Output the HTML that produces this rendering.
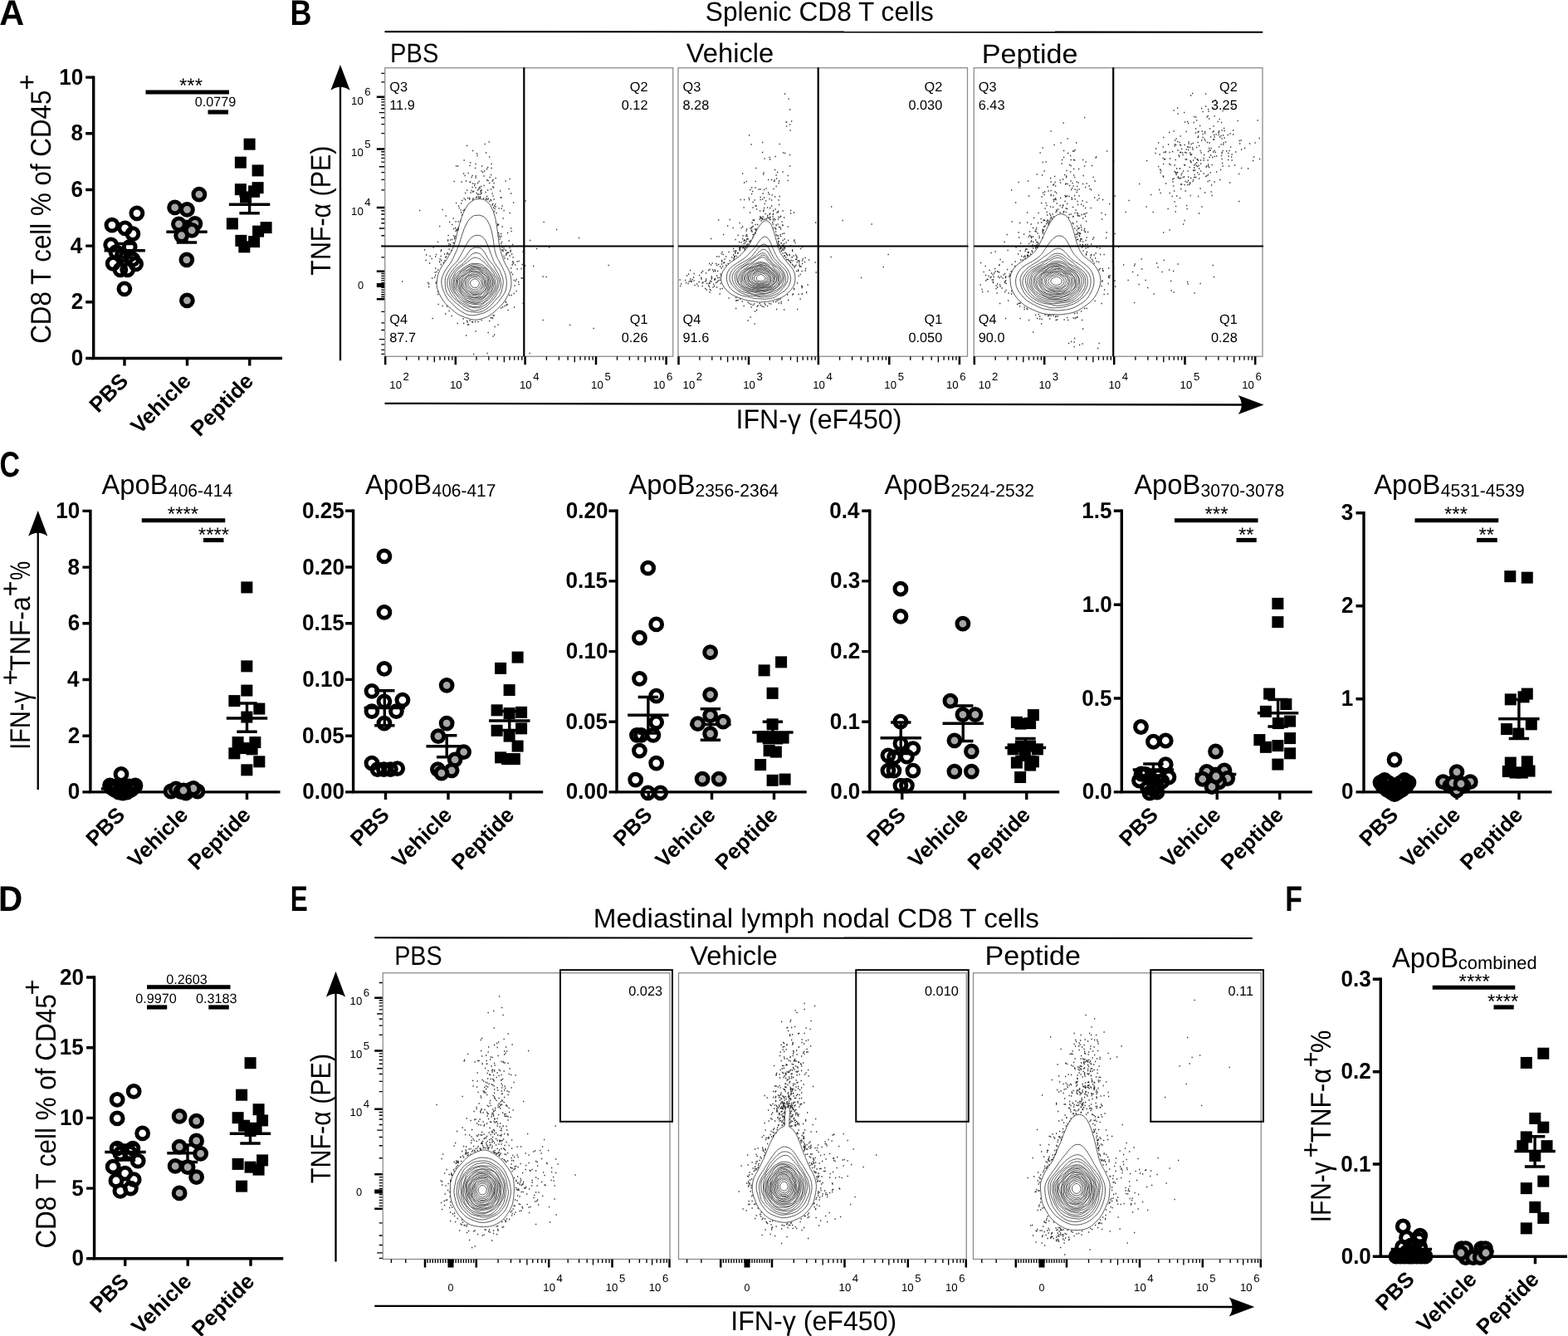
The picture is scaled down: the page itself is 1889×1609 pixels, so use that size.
<!DOCTYPE html>
<html lang="en">
<head>
<meta charset="utf-8">
<title>Figure: ApoB peptide vaccination, CD8 T cell responses</title>
<style>
html,body{margin:0;padding:0;background:#fff;}
body{width:1889px;height:1609px;overflow:hidden;}
svg{display:block;font-family:"Liberation Sans",Arial,Helvetica,sans-serif;}
</style>
</head>
<body>
<svg width="1889" height="1609" viewBox="0 0 1889 1609" fill="#000" stroke="none" text-rendering="geometricPrecision">
<rect x="0" y="0" width="1889" height="1609" fill="#fff" stroke="none"/>
<text transform="translate(-0.73 30.4) scale(0.9664 1)" font-size="42.88" font-weight="bold">A</text>
<text transform="translate(349.5 30.4) scale(0.8375 1)" font-size="42.88" font-weight="bold">B</text>
<text transform="translate(-0.59 574.1) scale(0.7919 1)" font-size="42.88" font-weight="bold">C</text>
<text transform="translate(-2.01 1097.1) scale(0.9431 1)" font-size="42.88" font-weight="bold">D</text>
<text transform="translate(349.79 1097.1) scale(0.7358 1)" font-size="42.88" font-weight="bold">E</text>
<text transform="translate(1548.33 1097.1) scale(0.7907 1)" font-size="42.88" font-weight="bold">F</text>
<path d="M112.7 91.4V431.5H340" fill="none" stroke="#000" stroke-width="3.4"/>
<path d="M103.2 93.1H112.7M103.2 160.8H112.7M103.2 228.5H112.7M103.2 296.1H112.7M103.2 363.8H112.7M103.2 431.5H112.7M150 431.5V440.5M225.5 431.5V440.5M300.75 431.5V440.5" fill="none" stroke="#000" stroke-width="3.4"/>
<text transform="translate(71.17 101.65) scale(0.9550 1)" font-size="27.3" font-weight="bold">10</text>
<text transform="translate(85.4 169.35) scale(0.9550 1)" font-size="27.3" font-weight="bold">8</text>
<text transform="translate(85.54 237.05) scale(0.9550 1)" font-size="27.3" font-weight="bold">6</text>
<text transform="translate(84.74 304.65) scale(0.9550 1)" font-size="27.3" font-weight="bold">4</text>
<text transform="translate(85.64 372.35) scale(0.9550 1)" font-size="27.3" font-weight="bold">2</text>
<text transform="translate(85.67 440.05) scale(0.9550 1)" font-size="27.3" font-weight="bold">0</text>
<text transform="translate(156.1 460.5) rotate(-45)" font-size="26" text-anchor="end" font-weight="bold">PBS</text>
<text transform="translate(231.6 460.5) rotate(-45)" font-size="26" text-anchor="end" font-weight="bold">Vehicle</text>
<text transform="translate(306.85 460.5) rotate(-45)" font-size="26" text-anchor="end" font-weight="bold">Peptide</text>
<path d="M125.6 301.7H175M138.1 293.5H162.5M138.1 310H162.5M150.3 293.5V310" fill="none" stroke="#000" stroke-width="3.4"/>
<path d="M200.3 279.2H249.7M212.8 266.5H237.2M212.8 292H237.2M225 266.5V292" fill="none" stroke="#000" stroke-width="3.4"/>
<path d="M275.9 246.2H325.3M288.4 236H312.8M288.4 256.7H312.8M300.6 236V256.7" fill="none" stroke="#000" stroke-width="3.4"/>
<circle cx="164.92" cy="256.87" r="6.9" fill="none" stroke="#000" stroke-width="5"/>
<circle cx="134.93" cy="271.11" r="6.9" fill="none" stroke="#000" stroke-width="5"/>
<circle cx="150.67" cy="274.86" r="6.9" fill="none" stroke="#000" stroke-width="5"/>
<circle cx="159.92" cy="281.61" r="6.9" fill="none" stroke="#000" stroke-width="5"/>
<circle cx="133.68" cy="294.85" r="6.9" fill="none" stroke="#000" stroke-width="5"/>
<circle cx="156.17" cy="297.35" r="6.9" fill="none" stroke="#000" stroke-width="5"/>
<circle cx="139.93" cy="303.6" r="6.9" fill="none" stroke="#000" stroke-width="5"/>
<circle cx="147.43" cy="307.35" r="6.9" fill="none" stroke="#000" stroke-width="5"/>
<circle cx="136.18" cy="317.34" r="6.9" fill="none" stroke="#000" stroke-width="5"/>
<circle cx="163.67" cy="317.84" r="6.9" fill="none" stroke="#000" stroke-width="5"/>
<circle cx="159.92" cy="312.34" r="6.9" fill="none" stroke="#000" stroke-width="5"/>
<circle cx="144.93" cy="324.84" r="6.9" fill="none" stroke="#000" stroke-width="5"/>
<circle cx="153.67" cy="324.84" r="6.9" fill="none" stroke="#000" stroke-width="5"/>
<circle cx="149.93" cy="347.83" r="6.9" fill="none" stroke="#000" stroke-width="5"/>
<circle cx="239.88" cy="234.13" r="6.9" fill="#a6a6a6" stroke="#000" stroke-width="5"/>
<circle cx="210.64" cy="249.88" r="6.9" fill="#a6a6a6" stroke="#000" stroke-width="5"/>
<circle cx="225.39" cy="252.37" r="6.9" fill="#a6a6a6" stroke="#000" stroke-width="5"/>
<circle cx="215.39" cy="269.87" r="6.9" fill="#a6a6a6" stroke="#000" stroke-width="5"/>
<circle cx="234.88" cy="269.37" r="6.9" fill="#a6a6a6" stroke="#000" stroke-width="5"/>
<circle cx="231.13" cy="277.36" r="6.9" fill="#a6a6a6" stroke="#000" stroke-width="5"/>
<circle cx="218.64" cy="283.61" r="6.9" fill="#a6a6a6" stroke="#000" stroke-width="5"/>
<circle cx="224.89" cy="312.84" r="6.9" fill="#a6a6a6" stroke="#000" stroke-width="5"/>
<circle cx="225.39" cy="361.82" r="6.9" fill="#a6a6a6" stroke="#000" stroke-width="5"/>
<rect x="293.6" y="166.66" width="14" height="14" fill="#000" stroke="none"/>
<rect x="282.86" y="188.65" width="14" height="14" fill="#000" stroke="none"/>
<rect x="303.59" y="198.4" width="14" height="14" fill="#000" stroke="none"/>
<rect x="282.86" y="221.14" width="14" height="14" fill="#000" stroke="none"/>
<rect x="303.59" y="219.14" width="14" height="14" fill="#000" stroke="none"/>
<rect x="299.1" y="223.38" width="14" height="14" fill="#000" stroke="none"/>
<rect x="289.1" y="230.38" width="14" height="14" fill="#000" stroke="none"/>
<rect x="272.86" y="262.37" width="14" height="14" fill="#000" stroke="none"/>
<rect x="313.59" y="267.11" width="14" height="14" fill="#000" stroke="none"/>
<rect x="304.09" y="271.61" width="14" height="14" fill="#000" stroke="none"/>
<rect x="283.35" y="282.86" width="14" height="14" fill="#000" stroke="none"/>
<rect x="299.1" y="284.1" width="14" height="14" fill="#000" stroke="none"/>
<rect x="287.35" y="290.35" width="14" height="14" fill="#000" stroke="none"/>
<line x1="175.5" y1="111" x2="276" y2="111" stroke-width="5.2" stroke="#000"/>
<text transform="translate(230 111.3)" font-size="24" text-anchor="middle">***</text>
<line x1="250.5" y1="135" x2="275" y2="135" stroke-width="5.2" stroke="#000"/>
<text transform="translate(259.5 128.3)" font-size="16.2" text-anchor="middle">0.0779</text>
<path d="M108.9 613.7V953.9H337.5" fill="none" stroke="#000" stroke-width="3.4"/>
<path d="M99.4 615.4H108.9M99.4 683.1H108.9M99.4 750.8H108.9M99.4 818.5H108.9M99.4 886.2H108.9M99.4 953.9H108.9M146 953.9V962.9M221.8 953.9V962.9M297.5 953.9V962.9" fill="none" stroke="#000" stroke-width="3.4"/>
<text transform="translate(67.37 623.95) scale(0.9550 1)" font-size="27.3" font-weight="bold">10</text>
<text transform="translate(81.6 691.65) scale(0.9550 1)" font-size="27.3" font-weight="bold">8</text>
<text transform="translate(81.74 759.35) scale(0.9550 1)" font-size="27.3" font-weight="bold">6</text>
<text transform="translate(80.94 827.05) scale(0.9550 1)" font-size="27.3" font-weight="bold">4</text>
<text transform="translate(81.84 894.75) scale(0.9550 1)" font-size="27.3" font-weight="bold">2</text>
<text transform="translate(81.87 962.45) scale(0.9550 1)" font-size="27.3" font-weight="bold">0</text>
<text transform="translate(152.1 982.9) rotate(-45)" font-size="26" text-anchor="end" font-weight="bold">PBS</text>
<text transform="translate(227.9 982.9) rotate(-45)" font-size="26" text-anchor="end" font-weight="bold">Vehicle</text>
<text transform="translate(303.6 982.9) rotate(-45)" font-size="26" text-anchor="end" font-weight="bold">Peptide</text>
<path d="M121.8 950H171.2" fill="none" stroke="#000" stroke-width="3.4"/>
<path d="M197.3 952.5H246.7" fill="none" stroke="#000" stroke-width="3.4"/>
<path d="M272.8 865H322.2M285.3 847H309.7M285.3 881.2H309.7M297.5 847V881.2" fill="none" stroke="#000" stroke-width="3.4"/>
<circle cx="146" cy="932.5" r="6.9" fill="none" stroke="#000" stroke-width="5"/>
<circle cx="132.5" cy="946" r="6.9" fill="none" stroke="#000" stroke-width="5"/>
<circle cx="138" cy="951" r="6.9" fill="none" stroke="#000" stroke-width="5"/>
<circle cx="143" cy="954" r="6.9" fill="none" stroke="#000" stroke-width="5"/>
<circle cx="148" cy="955" r="6.9" fill="none" stroke="#000" stroke-width="5"/>
<circle cx="153" cy="954" r="6.9" fill="none" stroke="#000" stroke-width="5"/>
<circle cx="158" cy="951" r="6.9" fill="none" stroke="#000" stroke-width="5"/>
<circle cx="163" cy="946" r="6.9" fill="none" stroke="#000" stroke-width="5"/>
<circle cx="135" cy="949" r="6.9" fill="none" stroke="#000" stroke-width="5"/>
<circle cx="160" cy="949" r="6.9" fill="none" stroke="#000" stroke-width="5"/>
<circle cx="146" cy="950" r="6.9" fill="none" stroke="#000" stroke-width="5"/>
<circle cx="150" cy="948" r="6.9" fill="none" stroke="#000" stroke-width="5"/>
<circle cx="140" cy="947" r="6.9" fill="none" stroke="#000" stroke-width="5"/>
<circle cx="156" cy="947" r="6.9" fill="none" stroke="#000" stroke-width="5"/>
<circle cx="206" cy="953" r="6.9" fill="#a6a6a6" stroke="#000" stroke-width="5"/>
<circle cx="212" cy="950" r="6.9" fill="#a6a6a6" stroke="#000" stroke-width="5"/>
<circle cx="218" cy="953.5" r="6.9" fill="#a6a6a6" stroke="#000" stroke-width="5"/>
<circle cx="224" cy="955" r="6.9" fill="#a6a6a6" stroke="#000" stroke-width="5"/>
<circle cx="230" cy="951" r="6.9" fill="#a6a6a6" stroke="#000" stroke-width="5"/>
<circle cx="238" cy="953" r="6.9" fill="#a6a6a6" stroke="#000" stroke-width="5"/>
<circle cx="233" cy="949.5" r="6.9" fill="#a6a6a6" stroke="#000" stroke-width="5"/>
<circle cx="221" cy="952" r="6.9" fill="#a6a6a6" stroke="#000" stroke-width="5"/>
<rect x="290.35" y="700.42" width="14" height="14" fill="#000" stroke="none"/>
<rect x="290.35" y="795.37" width="14" height="14" fill="#000" stroke="none"/>
<rect x="290.35" y="824.6" width="14" height="14" fill="#000" stroke="none"/>
<rect x="275.36" y="837.1" width="14" height="14" fill="#000" stroke="none"/>
<rect x="305.34" y="846.59" width="14" height="14" fill="#000" stroke="none"/>
<rect x="290.35" y="856.59" width="14" height="14" fill="#000" stroke="none"/>
<rect x="279.61" y="887.07" width="14" height="14" fill="#000" stroke="none"/>
<rect x="300.35" y="887.07" width="14" height="14" fill="#000" stroke="none"/>
<rect x="296.6" y="895.32" width="14" height="14" fill="#000" stroke="none"/>
<rect x="275.36" y="900.32" width="14" height="14" fill="#000" stroke="none"/>
<rect x="305.34" y="910.31" width="14" height="14" fill="#000" stroke="none"/>
<rect x="290.35" y="920.31" width="14" height="14" fill="#000" stroke="none"/>
<rect x="286.6" y="894.07" width="14" height="14" fill="#000" stroke="none"/>
<line x1="170.75" y1="626.75" x2="271.25" y2="626.75" stroke-width="5.2" stroke="#000"/>
<text transform="translate(220.5 627.3)" font-size="24" text-anchor="middle">****</text>
<line x1="245" y1="650.5" x2="269.5" y2="650.5" stroke-width="5.2" stroke="#000"/>
<text transform="translate(257.5 651.8)" font-size="24" text-anchor="middle">****</text>
<path d="M425.6 613.5V953.9H654.25" fill="none" stroke="#000" stroke-width="3.4"/>
<path d="M416.1 615.2H425.6M416.1 683H425.6M416.1 750.7H425.6M416.1 818.4H425.6M416.1 886.2H425.6M416.1 953.9H425.6M464.5 953.9V962.9M540 953.9V962.9M615 953.9V962.9" fill="none" stroke="#000" stroke-width="3.4"/>
<text transform="translate(363.98 623.75) scale(0.9550 1)" font-size="27.3" font-weight="bold">0.25</text>
<text transform="translate(364.33 691.55) scale(0.9550 1)" font-size="27.3" font-weight="bold">0.20</text>
<text transform="translate(363.98 759.25) scale(0.9550 1)" font-size="27.3" font-weight="bold">0.15</text>
<text transform="translate(364.33 826.95) scale(0.9550 1)" font-size="27.3" font-weight="bold">0.10</text>
<text transform="translate(363.98 894.75) scale(0.9550 1)" font-size="27.3" font-weight="bold">0.05</text>
<text transform="translate(364.33 962.45) scale(0.9550 1)" font-size="27.3" font-weight="bold">0.00</text>
<text transform="translate(470.6 982.9) rotate(-45)" font-size="26" text-anchor="end" font-weight="bold">PBS</text>
<text transform="translate(546.1 982.9) rotate(-45)" font-size="26" text-anchor="end" font-weight="bold">Vehicle</text>
<text transform="translate(621.1 982.9) rotate(-45)" font-size="26" text-anchor="end" font-weight="bold">Peptide</text>
<path d="M438.6 852.5H488M451.1 831.75H475.5M451.1 873.75H475.5M463.3 831.75V873.75" fill="none" stroke="#000" stroke-width="3.4"/>
<path d="M513.5 898.75H562.9M526 885.75H550.4M526 911.75H550.4M538.2 885.75V911.75" fill="none" stroke="#000" stroke-width="3.4"/>
<path d="M589.05 868H638.45M601.55 856.5H625.95M601.55 879.5H625.95M613.75 856.5V879.5" fill="none" stroke="#000" stroke-width="3.4"/>
<circle cx="462.93" cy="669.95" r="6.9" fill="none" stroke="#000" stroke-width="5"/>
<circle cx="462.93" cy="737.41" r="6.9" fill="none" stroke="#000" stroke-width="5"/>
<circle cx="462.93" cy="805.38" r="6.9" fill="none" stroke="#000" stroke-width="5"/>
<circle cx="447.94" cy="832.36" r="6.9" fill="none" stroke="#000" stroke-width="5"/>
<circle cx="484.92" cy="843.11" r="6.9" fill="none" stroke="#000" stroke-width="5"/>
<circle cx="462.93" cy="844.86" r="6.9" fill="none" stroke="#000" stroke-width="5"/>
<circle cx="447.94" cy="856.6" r="6.9" fill="none" stroke="#000" stroke-width="5"/>
<circle cx="477.43" cy="856.6" r="6.9" fill="none" stroke="#000" stroke-width="5"/>
<circle cx="462.93" cy="871.09" r="6.9" fill="none" stroke="#000" stroke-width="5"/>
<circle cx="447.94" cy="919.07" r="6.9" fill="none" stroke="#000" stroke-width="5"/>
<circle cx="454.94" cy="926.57" r="6.9" fill="none" stroke="#000" stroke-width="5"/>
<circle cx="462.43" cy="926.57" r="6.9" fill="none" stroke="#000" stroke-width="5"/>
<circle cx="470.43" cy="926.57" r="6.9" fill="none" stroke="#000" stroke-width="5"/>
<circle cx="478.68" cy="925.57" r="6.9" fill="none" stroke="#000" stroke-width="5"/>
<circle cx="538.15" cy="825.37" r="6.9" fill="#a6a6a6" stroke="#000" stroke-width="5"/>
<circle cx="538.15" cy="871.09" r="6.9" fill="#a6a6a6" stroke="#000" stroke-width="5"/>
<circle cx="527.9" cy="886.59" r="6.9" fill="#a6a6a6" stroke="#000" stroke-width="5"/>
<circle cx="558.64" cy="905.58" r="6.9" fill="#a6a6a6" stroke="#000" stroke-width="5"/>
<circle cx="548.14" cy="914.82" r="6.9" fill="#a6a6a6" stroke="#000" stroke-width="5"/>
<circle cx="527.4" cy="926.57" r="6.9" fill="#a6a6a6" stroke="#000" stroke-width="5"/>
<circle cx="544.14" cy="927.82" r="6.9" fill="#a6a6a6" stroke="#000" stroke-width="5"/>
<circle cx="531.9" cy="931.06" r="6.9" fill="#a6a6a6" stroke="#000" stroke-width="5"/>
<rect x="616.6" y="784.63" width="14" height="14" fill="#000" stroke="none"/>
<rect x="596.11" y="797.88" width="14" height="14" fill="#000" stroke="none"/>
<rect x="606.61" y="824.11" width="14" height="14" fill="#000" stroke="none"/>
<rect x="591.62" y="848.35" width="14" height="14" fill="#000" stroke="none"/>
<rect x="606.61" y="852.1" width="14" height="14" fill="#000" stroke="none"/>
<rect x="621.1" y="850.85" width="14" height="14" fill="#000" stroke="none"/>
<rect x="591.62" y="872.84" width="14" height="14" fill="#000" stroke="none"/>
<rect x="621.1" y="870.34" width="14" height="14" fill="#000" stroke="none"/>
<rect x="606.61" y="879.59" width="14" height="14" fill="#000" stroke="none"/>
<rect x="616.6" y="891.58" width="14" height="14" fill="#000" stroke="none"/>
<rect x="596.11" y="905.32" width="14" height="14" fill="#000" stroke="none"/>
<rect x="604.11" y="907.07" width="14" height="14" fill="#000" stroke="none"/>
<rect x="612.86" y="907.07" width="14" height="14" fill="#000" stroke="none"/>
<path d="M743 613.5V953.9H971.75" fill="none" stroke="#000" stroke-width="3.4"/>
<path d="M733.5 615.2H743M733.5 699.9H743M733.5 784.6H743M733.5 869.2H743M733.5 953.9H743M781.25 953.9V962.9M857.5 953.9V962.9M932.5 953.9V962.9" fill="none" stroke="#000" stroke-width="3.4"/>
<text transform="translate(681.73 623.75) scale(0.9550 1)" font-size="27.3" font-weight="bold">0.20</text>
<text transform="translate(681.38 708.45) scale(0.9550 1)" font-size="27.3" font-weight="bold">0.15</text>
<text transform="translate(681.73 793.15) scale(0.9550 1)" font-size="27.3" font-weight="bold">0.10</text>
<text transform="translate(681.38 877.75) scale(0.9550 1)" font-size="27.3" font-weight="bold">0.05</text>
<text transform="translate(681.73 962.45) scale(0.9550 1)" font-size="27.3" font-weight="bold">0.00</text>
<text transform="translate(787.35 982.9) rotate(-45)" font-size="26" text-anchor="end" font-weight="bold">PBS</text>
<text transform="translate(863.6 982.9) rotate(-45)" font-size="26" text-anchor="end" font-weight="bold">Vehicle</text>
<text transform="translate(938.6 982.9) rotate(-45)" font-size="26" text-anchor="end" font-weight="bold">Peptide</text>
<path d="M756.2 861.25H805.6M768.7 839.5H793.1M768.7 883H793.1M780.9 839.5V883" fill="none" stroke="#000" stroke-width="3.4"/>
<path d="M831.2 872.5H880.6M843.7 853.75H868.1M843.7 891.25H868.1M855.9 853.75V891.25" fill="none" stroke="#000" stroke-width="3.4"/>
<path d="M906.2 882H955.6M918.7 869.25H943.1M918.7 894.7H943.1M930.9 869.25V894.7" fill="none" stroke="#000" stroke-width="3.4"/>
<circle cx="780.68" cy="684.19" r="6.9" fill="none" stroke="#000" stroke-width="5"/>
<circle cx="790.68" cy="751.9" r="6.9" fill="none" stroke="#000" stroke-width="5"/>
<circle cx="770.44" cy="768.15" r="6.9" fill="none" stroke="#000" stroke-width="5"/>
<circle cx="770.44" cy="817.37" r="6.9" fill="none" stroke="#000" stroke-width="5"/>
<circle cx="790.68" cy="838.11" r="6.9" fill="none" stroke="#000" stroke-width="5"/>
<circle cx="790.68" cy="869.85" r="6.9" fill="none" stroke="#000" stroke-width="5"/>
<circle cx="767.44" cy="885.34" r="6.9" fill="none" stroke="#000" stroke-width="5"/>
<circle cx="772.44" cy="885.34" r="6.9" fill="none" stroke="#000" stroke-width="5"/>
<circle cx="786.93" cy="885.34" r="6.9" fill="none" stroke="#000" stroke-width="5"/>
<circle cx="770.44" cy="904.08" r="6.9" fill="none" stroke="#000" stroke-width="5"/>
<circle cx="790.68" cy="919.07" r="6.9" fill="none" stroke="#000" stroke-width="5"/>
<circle cx="765.69" cy="939.06" r="6.9" fill="none" stroke="#000" stroke-width="5"/>
<circle cx="780.68" cy="954.8" r="6.9" fill="none" stroke="#000" stroke-width="5"/>
<circle cx="795.68" cy="954.8" r="6.9" fill="none" stroke="#000" stroke-width="5"/>
<circle cx="855.65" cy="785.64" r="6.9" fill="#a6a6a6" stroke="#000" stroke-width="5"/>
<circle cx="855.65" cy="836.61" r="6.9" fill="#a6a6a6" stroke="#000" stroke-width="5"/>
<circle cx="855.65" cy="861.6" r="6.9" fill="#a6a6a6" stroke="#000" stroke-width="5"/>
<circle cx="840.65" cy="871.59" r="6.9" fill="#a6a6a6" stroke="#000" stroke-width="5"/>
<circle cx="871.14" cy="869.1" r="6.9" fill="#a6a6a6" stroke="#000" stroke-width="5"/>
<circle cx="855.65" cy="883.59" r="6.9" fill="#a6a6a6" stroke="#000" stroke-width="5"/>
<circle cx="846.15" cy="938.06" r="6.9" fill="#a6a6a6" stroke="#000" stroke-width="5"/>
<circle cx="866.14" cy="938.06" r="6.9" fill="#a6a6a6" stroke="#000" stroke-width="5"/>
<rect x="934.1" y="790.38" width="14" height="14" fill="#000" stroke="none"/>
<rect x="913.61" y="800.38" width="14" height="14" fill="#000" stroke="none"/>
<rect x="923.61" y="827.86" width="14" height="14" fill="#000" stroke="none"/>
<rect x="923.61" y="865.34" width="14" height="14" fill="#000" stroke="none"/>
<rect x="911.62" y="880.34" width="14" height="14" fill="#000" stroke="none"/>
<rect x="936.6" y="881.59" width="14" height="14" fill="#000" stroke="none"/>
<rect x="923.61" y="881.59" width="14" height="14" fill="#000" stroke="none"/>
<rect x="919.61" y="897.08" width="14" height="14" fill="#000" stroke="none"/>
<rect x="927.86" y="898.58" width="14" height="14" fill="#000" stroke="none"/>
<rect x="909.12" y="914.07" width="14" height="14" fill="#000" stroke="none"/>
<rect x="923.61" y="932.81" width="14" height="14" fill="#000" stroke="none"/>
<rect x="938.6" y="931.56" width="14" height="14" fill="#000" stroke="none"/>
<path d="M1047.8 613.5V953.9H1276.25" fill="none" stroke="#000" stroke-width="3.4"/>
<path d="M1038.3 615.2H1047.8M1038.3 699.9H1047.8M1038.3 784.6H1047.8M1038.3 869.2H1047.8M1038.3 953.9H1047.8M1086.75 953.9V962.9M1162 953.9V962.9M1236.75 953.9V962.9" fill="none" stroke="#000" stroke-width="3.4"/>
<text transform="translate(999.2 623.75) scale(0.9550 1)" font-size="27.3" font-weight="bold">0.4</text>
<text transform="translate(1000 708.45) scale(0.9550 1)" font-size="27.3" font-weight="bold">0.3</text>
<text transform="translate(1000.1 793.15) scale(0.9550 1)" font-size="27.3" font-weight="bold">0.2</text>
<text transform="translate(999.78 877.75) scale(0.9550 1)" font-size="27.3" font-weight="bold">0.1</text>
<text transform="translate(1000.13 962.45) scale(0.9550 1)" font-size="27.3" font-weight="bold">0.0</text>
<text transform="translate(1092.85 982.9) rotate(-45)" font-size="26" text-anchor="end" font-weight="bold">PBS</text>
<text transform="translate(1168.1 982.9) rotate(-45)" font-size="26" text-anchor="end" font-weight="bold">Vehicle</text>
<text transform="translate(1242.85 982.9) rotate(-45)" font-size="26" text-anchor="end" font-weight="bold">Peptide</text>
<path d="M1060.55 888.75H1109.95M1073.05 870H1097.45M1073.05 907.5H1097.45M1085.25 870V907.5" fill="none" stroke="#000" stroke-width="3.4"/>
<path d="M1135.55 871.25H1184.95M1148.05 850H1172.45M1148.05 892.5H1172.45M1160.25 850V892.5" fill="none" stroke="#000" stroke-width="3.4"/>
<path d="M1210.7 900.5H1260.1M1223.2 889.5H1247.6M1223.2 911.5H1247.6M1235.4 889.5V911.5" fill="none" stroke="#000" stroke-width="3.4"/>
<circle cx="1084.94" cy="709.18" r="6.9" fill="none" stroke="#000" stroke-width="5"/>
<circle cx="1084.94" cy="742.41" r="6.9" fill="none" stroke="#000" stroke-width="5"/>
<circle cx="1084.94" cy="869.1" r="6.9" fill="none" stroke="#000" stroke-width="5"/>
<circle cx="1084.94" cy="895.58" r="6.9" fill="none" stroke="#000" stroke-width="5"/>
<circle cx="1099.93" cy="901.58" r="6.9" fill="none" stroke="#000" stroke-width="5"/>
<circle cx="1069.95" cy="909.83" r="6.9" fill="none" stroke="#000" stroke-width="5"/>
<circle cx="1077.44" cy="911.82" r="6.9" fill="none" stroke="#000" stroke-width="5"/>
<circle cx="1092.43" cy="911.07" r="6.9" fill="none" stroke="#000" stroke-width="5"/>
<circle cx="1069.95" cy="928.07" r="6.9" fill="none" stroke="#000" stroke-width="5"/>
<circle cx="1076.94" cy="928.07" r="6.9" fill="none" stroke="#000" stroke-width="5"/>
<circle cx="1099.93" cy="928.07" r="6.9" fill="none" stroke="#000" stroke-width="5"/>
<circle cx="1084.94" cy="946.06" r="6.9" fill="none" stroke="#000" stroke-width="5"/>
<circle cx="1092.43" cy="946.06" r="6.9" fill="none" stroke="#000" stroke-width="5"/>
<circle cx="1159.9" cy="751.15" r="6.9" fill="#a6a6a6" stroke="#000" stroke-width="5"/>
<circle cx="1144.91" cy="844.11" r="6.9" fill="#a6a6a6" stroke="#000" stroke-width="5"/>
<circle cx="1159.9" cy="860.6" r="6.9" fill="#a6a6a6" stroke="#000" stroke-width="5"/>
<circle cx="1174.89" cy="860.6" r="6.9" fill="#a6a6a6" stroke="#000" stroke-width="5"/>
<circle cx="1149.91" cy="891.83" r="6.9" fill="#a6a6a6" stroke="#000" stroke-width="5"/>
<circle cx="1170.39" cy="904.83" r="6.9" fill="#a6a6a6" stroke="#000" stroke-width="5"/>
<circle cx="1149.91" cy="929.07" r="6.9" fill="#a6a6a6" stroke="#000" stroke-width="5"/>
<circle cx="1170.39" cy="929.07" r="6.9" fill="#a6a6a6" stroke="#000" stroke-width="5"/>
<rect x="1237.86" y="854.1" width="14" height="14" fill="#000" stroke="none"/>
<rect x="1217.87" y="862.85" width="14" height="14" fill="#000" stroke="none"/>
<rect x="1222.37" y="864.59" width="14" height="14" fill="#000" stroke="none"/>
<rect x="1234.11" y="864.09" width="14" height="14" fill="#000" stroke="none"/>
<rect x="1222.87" y="891.58" width="14" height="14" fill="#000" stroke="none"/>
<rect x="1234.11" y="891.58" width="14" height="14" fill="#000" stroke="none"/>
<rect x="1213.62" y="895.33" width="14" height="14" fill="#000" stroke="none"/>
<rect x="1242.86" y="895.33" width="14" height="14" fill="#000" stroke="none"/>
<rect x="1227.86" y="902.83" width="14" height="14" fill="#000" stroke="none"/>
<rect x="1217.87" y="911.57" width="14" height="14" fill="#000" stroke="none"/>
<rect x="1237.86" y="910.32" width="14" height="14" fill="#000" stroke="none"/>
<rect x="1234.11" y="914.57" width="14" height="14" fill="#000" stroke="none"/>
<rect x="1222.12" y="929.06" width="14" height="14" fill="#000" stroke="none"/>
<path d="M1351.3 613.6V953.9H1580.75" fill="none" stroke="#000" stroke-width="3.4"/>
<path d="M1341.8 615.3H1351.3M1341.8 728.2H1351.3M1341.8 841H1351.3M1341.8 953.9H1351.3M1390.75 953.9V962.9M1466.25 953.9V962.9M1541.75 953.9V962.9" fill="none" stroke="#000" stroke-width="3.4"/>
<text transform="translate(1303.28 623.85) scale(0.9550 1)" font-size="27.3" font-weight="bold">1.5</text>
<text transform="translate(1303.63 736.75) scale(0.9550 1)" font-size="27.3" font-weight="bold">1.0</text>
<text transform="translate(1303.28 849.55) scale(0.9550 1)" font-size="27.3" font-weight="bold">0.5</text>
<text transform="translate(1303.63 962.45) scale(0.9550 1)" font-size="27.3" font-weight="bold">0.0</text>
<text transform="translate(1396.85 982.9) rotate(-45)" font-size="26" text-anchor="end" font-weight="bold">PBS</text>
<text transform="translate(1472.35 982.9) rotate(-45)" font-size="26" text-anchor="end" font-weight="bold">Vehicle</text>
<text transform="translate(1547.85 982.9) rotate(-45)" font-size="26" text-anchor="end" font-weight="bold">Peptide</text>
<path d="M1364.7 927H1414.1M1377.2 920H1401.6M1377.2 934H1401.6M1389.4 920V934" fill="none" stroke="#000" stroke-width="3.4"/>
<path d="M1439.9 932.5H1489.3M1452.4 925.5H1476.8M1452.4 939.5H1476.8M1464.6 925.5V939.5" fill="none" stroke="#000" stroke-width="3.4"/>
<path d="M1514.9 858.75H1564.3M1527.4 842.5H1551.8M1527.4 875H1551.8M1539.6 842.5V875" fill="none" stroke="#000" stroke-width="3.4"/>
<circle cx="1374.5" cy="875.5" r="6.9" fill="none" stroke="#000" stroke-width="5"/>
<circle cx="1389.5" cy="893.25" r="6.9" fill="none" stroke="#000" stroke-width="5"/>
<circle cx="1404.25" cy="892" r="6.9" fill="none" stroke="#000" stroke-width="5"/>
<circle cx="1404.25" cy="920.75" r="6.9" fill="none" stroke="#000" stroke-width="5"/>
<circle cx="1372.5" cy="940" r="6.9" fill="none" stroke="#000" stroke-width="5"/>
<circle cx="1380" cy="932.5" r="6.9" fill="none" stroke="#000" stroke-width="5"/>
<circle cx="1386" cy="938" r="6.9" fill="none" stroke="#000" stroke-width="5"/>
<circle cx="1395" cy="935" r="6.9" fill="none" stroke="#000" stroke-width="5"/>
<circle cx="1400" cy="941" r="6.9" fill="none" stroke="#000" stroke-width="5"/>
<circle cx="1408" cy="936" r="6.9" fill="none" stroke="#000" stroke-width="5"/>
<circle cx="1382.5" cy="948.75" r="6.9" fill="none" stroke="#000" stroke-width="5"/>
<circle cx="1390" cy="951" r="6.9" fill="none" stroke="#000" stroke-width="5"/>
<circle cx="1393" cy="945" r="6.9" fill="none" stroke="#000" stroke-width="5"/>
<circle cx="1375" cy="932" r="6.9" fill="none" stroke="#000" stroke-width="5"/>
<circle cx="1385" cy="955" r="6.9" fill="none" stroke="#000" stroke-width="5"/>
<circle cx="1394" cy="954" r="6.9" fill="none" stroke="#000" stroke-width="5"/>
<circle cx="1464.5" cy="905" r="6.9" fill="#a6a6a6" stroke="#000" stroke-width="5"/>
<circle cx="1453.75" cy="929.5" r="6.9" fill="#a6a6a6" stroke="#000" stroke-width="5"/>
<circle cx="1475" cy="928" r="6.9" fill="#a6a6a6" stroke="#000" stroke-width="5"/>
<circle cx="1448.75" cy="938.25" r="6.9" fill="#a6a6a6" stroke="#000" stroke-width="5"/>
<circle cx="1478.75" cy="937.5" r="6.9" fill="#a6a6a6" stroke="#000" stroke-width="5"/>
<circle cx="1468.75" cy="941.75" r="6.9" fill="#a6a6a6" stroke="#000" stroke-width="5"/>
<circle cx="1460" cy="947.5" r="6.9" fill="#a6a6a6" stroke="#000" stroke-width="5"/>
<circle cx="1465" cy="935" r="6.9" fill="#a6a6a6" stroke="#000" stroke-width="5"/>
<rect x="1532.37" y="719.92" width="14" height="14" fill="#000" stroke="none"/>
<rect x="1532.37" y="742.16" width="14" height="14" fill="#000" stroke="none"/>
<rect x="1522.12" y="828.61" width="14" height="14" fill="#000" stroke="none"/>
<rect x="1542.36" y="841.11" width="14" height="14" fill="#000" stroke="none"/>
<rect x="1517.87" y="849.85" width="14" height="14" fill="#000" stroke="none"/>
<rect x="1547.11" y="861.6" width="14" height="14" fill="#000" stroke="none"/>
<rect x="1532.87" y="864.09" width="14" height="14" fill="#000" stroke="none"/>
<rect x="1510.38" y="884.08" width="14" height="14" fill="#000" stroke="none"/>
<rect x="1547.11" y="882.09" width="14" height="14" fill="#000" stroke="none"/>
<rect x="1517.87" y="892.83" width="14" height="14" fill="#000" stroke="none"/>
<rect x="1532.37" y="891.08" width="14" height="14" fill="#000" stroke="none"/>
<rect x="1547.11" y="900.33" width="14" height="14" fill="#000" stroke="none"/>
<rect x="1532.37" y="913.57" width="14" height="14" fill="#000" stroke="none"/>
<line x1="1415" y1="626.75" x2="1515.5" y2="626.75" stroke-width="5.2" stroke="#000"/>
<text transform="translate(1465.5 627.3)" font-size="24" text-anchor="middle">***</text>
<line x1="1489.5" y1="650.5" x2="1513.75" y2="650.5" stroke-width="5.2" stroke="#000"/>
<text transform="translate(1501.25 651.8)" font-size="24" text-anchor="middle">**</text>
<path d="M1643 616V953.9H1869.5" fill="none" stroke="#000" stroke-width="3.4"/>
<path d="M1633.5 617.7H1643M1633.5 729.8H1643M1633.5 841.8H1643M1633.5 953.9H1643M1680 953.9V962.9M1755 953.9V962.9M1830 953.9V962.9" fill="none" stroke="#000" stroke-width="3.4"/>
<text transform="translate(1615.84 626.25) scale(0.9550 1)" font-size="27.3" font-weight="bold">3</text>
<text transform="translate(1615.94 738.35) scale(0.9550 1)" font-size="27.3" font-weight="bold">2</text>
<text transform="translate(1615.63 850.35) scale(0.9550 1)" font-size="27.3" font-weight="bold">1</text>
<text transform="translate(1615.97 962.45) scale(0.9550 1)" font-size="27.3" font-weight="bold">0</text>
<text transform="translate(1686.1 982.9) rotate(-45)" font-size="26" text-anchor="end" font-weight="bold">PBS</text>
<text transform="translate(1761.1 982.9) rotate(-45)" font-size="26" text-anchor="end" font-weight="bold">Vehicle</text>
<text transform="translate(1836.1 982.9) rotate(-45)" font-size="26" text-anchor="end" font-weight="bold">Peptide</text>
<path d="M1655.4 945.75H1704.8" fill="none" stroke="#000" stroke-width="3.4"/>
<path d="M1730.3 945H1779.7" fill="none" stroke="#000" stroke-width="3.4"/>
<path d="M1805.2 865.75H1854.6M1817.7 842.5H1842.1M1817.7 889.5H1842.1M1829.9 842.5V889.5" fill="none" stroke="#000" stroke-width="3.4"/>
<circle cx="1680" cy="915" r="6.9" fill="none" stroke="#000" stroke-width="5"/>
<circle cx="1663" cy="942.5" r="6.9" fill="none" stroke="#000" stroke-width="5"/>
<circle cx="1668" cy="939.5" r="6.9" fill="none" stroke="#000" stroke-width="5"/>
<circle cx="1673" cy="943" r="6.9" fill="none" stroke="#000" stroke-width="5"/>
<circle cx="1692" cy="939.5" r="6.9" fill="none" stroke="#000" stroke-width="5"/>
<circle cx="1697" cy="942.5" r="6.9" fill="none" stroke="#000" stroke-width="5"/>
<circle cx="1687" cy="943" r="6.9" fill="none" stroke="#000" stroke-width="5"/>
<circle cx="1666" cy="947" r="6.9" fill="none" stroke="#000" stroke-width="5"/>
<circle cx="1694" cy="947" r="6.9" fill="none" stroke="#000" stroke-width="5"/>
<circle cx="1671" cy="951" r="6.9" fill="none" stroke="#000" stroke-width="5"/>
<circle cx="1689" cy="951" r="6.9" fill="none" stroke="#000" stroke-width="5"/>
<circle cx="1676" cy="954" r="6.9" fill="none" stroke="#000" stroke-width="5"/>
<circle cx="1684" cy="954" r="6.9" fill="none" stroke="#000" stroke-width="5"/>
<circle cx="1680" cy="956.5" r="6.9" fill="none" stroke="#000" stroke-width="5"/>
<circle cx="1680" cy="949" r="6.9" fill="none" stroke="#000" stroke-width="5"/>
<circle cx="1680" cy="946.5" r="6.9" fill="none" stroke="#000" stroke-width="5"/>
<circle cx="1755" cy="929.6" r="6.9" fill="#a6a6a6" stroke="#000" stroke-width="5"/>
<circle cx="1738.5" cy="941.7" r="6.9" fill="#a6a6a6" stroke="#000" stroke-width="5"/>
<circle cx="1771.3" cy="941.7" r="6.9" fill="#a6a6a6" stroke="#000" stroke-width="5"/>
<circle cx="1746.7" cy="946.6" r="6.9" fill="#a6a6a6" stroke="#000" stroke-width="5"/>
<circle cx="1763.1" cy="946.6" r="6.9" fill="#a6a6a6" stroke="#000" stroke-width="5"/>
<circle cx="1755" cy="951.8" r="6.9" fill="#a6a6a6" stroke="#000" stroke-width="5"/>
<circle cx="1750" cy="943" r="6.9" fill="#a6a6a6" stroke="#000" stroke-width="5"/>
<circle cx="1760" cy="944" r="6.9" fill="#a6a6a6" stroke="#000" stroke-width="5"/>
<rect x="1812.3" y="687.18" width="14" height="14" fill="#000" stroke="none"/>
<rect x="1832.79" y="688.68" width="14" height="14" fill="#000" stroke="none"/>
<rect x="1832.79" y="828.61" width="14" height="14" fill="#000" stroke="none"/>
<rect x="1812.8" y="835.36" width="14" height="14" fill="#000" stroke="none"/>
<rect x="1828.54" y="832.36" width="14" height="14" fill="#000" stroke="none"/>
<rect x="1837.79" y="865.34" width="14" height="14" fill="#000" stroke="none"/>
<rect x="1808.05" y="871.09" width="14" height="14" fill="#000" stroke="none"/>
<rect x="1822.29" y="876.59" width="14" height="14" fill="#000" stroke="none"/>
<rect x="1812.8" y="911.57" width="14" height="14" fill="#000" stroke="none"/>
<rect x="1832.79" y="910.32" width="14" height="14" fill="#000" stroke="none"/>
<rect x="1809.8" y="922.07" width="14" height="14" fill="#000" stroke="none"/>
<rect x="1818.55" y="923.56" width="14" height="14" fill="#000" stroke="none"/>
<rect x="1826.79" y="923.56" width="14" height="14" fill="#000" stroke="none"/>
<rect x="1835.54" y="921.57" width="14" height="14" fill="#000" stroke="none"/>
<line x1="1704.5" y1="626.75" x2="1805.25" y2="626.75" stroke-width="5.2" stroke="#000"/>
<text transform="translate(1754 627.3)" font-size="24" text-anchor="middle">***</text>
<line x1="1779" y1="650.5" x2="1803.75" y2="650.5" stroke-width="5.2" stroke="#000"/>
<text transform="translate(1790.75 651.8)" font-size="24" text-anchor="middle">**</text>
<path d="M113.6 1175.3V1515.8H341.25" fill="none" stroke="#000" stroke-width="3.4"/>
<path d="M104.1 1177H113.6M104.1 1261.7H113.6M104.1 1346.4H113.6M104.1 1431.1H113.6M104.1 1515.8H113.6M150.75 1515.8V1524.8M226.25 1515.8V1524.8M302 1515.8V1524.8" fill="none" stroke="#000" stroke-width="3.4"/>
<text transform="translate(72.07 1185.55) scale(0.9550 1)" font-size="27.3" font-weight="bold">20</text>
<text transform="translate(71.73 1270.25) scale(0.9550 1)" font-size="27.3" font-weight="bold">15</text>
<text transform="translate(72.07 1354.95) scale(0.9550 1)" font-size="27.3" font-weight="bold">10</text>
<text transform="translate(86.23 1439.65) scale(0.9550 1)" font-size="27.3" font-weight="bold">5</text>
<text transform="translate(86.57 1524.35) scale(0.9550 1)" font-size="27.3" font-weight="bold">0</text>
<text transform="translate(156.85 1544.8) rotate(-45)" font-size="26" text-anchor="end" font-weight="bold">PBS</text>
<text transform="translate(232.35 1544.8) rotate(-45)" font-size="26" text-anchor="end" font-weight="bold">Vehicle</text>
<text transform="translate(308.1 1544.8) rotate(-45)" font-size="26" text-anchor="end" font-weight="bold">Peptide</text>
<path d="M126.3 1387.5H175.7M138.8 1379H163.2M138.8 1397H163.2M151 1379V1397" fill="none" stroke="#000" stroke-width="3.4"/>
<path d="M201.3 1388.75H250.7M213.8 1379H238.2M213.8 1399.5H238.2M226 1379V1399.5" fill="none" stroke="#000" stroke-width="3.4"/>
<path d="M276.8 1365.25H326.2M289.3 1353.5H313.7M289.3 1377H313.7M301.5 1353.5V1377" fill="none" stroke="#000" stroke-width="3.4"/>
<circle cx="161.17" cy="1314.45" r="6.9" fill="none" stroke="#000" stroke-width="5"/>
<circle cx="141.18" cy="1324.44" r="6.9" fill="none" stroke="#000" stroke-width="5"/>
<circle cx="141.18" cy="1346.93" r="6.9" fill="none" stroke="#000" stroke-width="5"/>
<circle cx="171.66" cy="1364.92" r="6.9" fill="none" stroke="#000" stroke-width="5"/>
<circle cx="141.18" cy="1383.16" r="6.9" fill="none" stroke="#000" stroke-width="5"/>
<circle cx="159.92" cy="1383.16" r="6.9" fill="none" stroke="#000" stroke-width="5"/>
<circle cx="144.93" cy="1389.41" r="6.9" fill="none" stroke="#000" stroke-width="5"/>
<circle cx="156.17" cy="1388.16" r="6.9" fill="none" stroke="#000" stroke-width="5"/>
<circle cx="166.17" cy="1398.15" r="6.9" fill="none" stroke="#000" stroke-width="5"/>
<circle cx="136.18" cy="1405.15" r="6.9" fill="none" stroke="#000" stroke-width="5"/>
<circle cx="150.67" cy="1413.15" r="6.9" fill="none" stroke="#000" stroke-width="5"/>
<circle cx="139.93" cy="1421.89" r="6.9" fill="none" stroke="#000" stroke-width="5"/>
<circle cx="161.17" cy="1420.64" r="6.9" fill="none" stroke="#000" stroke-width="5"/>
<circle cx="144.93" cy="1434.39" r="6.9" fill="none" stroke="#000" stroke-width="5"/>
<circle cx="157.42" cy="1431.14" r="6.9" fill="none" stroke="#000" stroke-width="5"/>
<circle cx="216.14" cy="1344.43" r="6.9" fill="#a6a6a6" stroke="#000" stroke-width="5"/>
<circle cx="236.63" cy="1350.18" r="6.9" fill="#a6a6a6" stroke="#000" stroke-width="5"/>
<circle cx="236.63" cy="1373.92" r="6.9" fill="#a6a6a6" stroke="#000" stroke-width="5"/>
<circle cx="216.14" cy="1381.16" r="6.9" fill="#a6a6a6" stroke="#000" stroke-width="5"/>
<circle cx="241.63" cy="1389.41" r="6.9" fill="#a6a6a6" stroke="#000" stroke-width="5"/>
<circle cx="211.14" cy="1404.4" r="6.9" fill="#a6a6a6" stroke="#000" stroke-width="5"/>
<circle cx="226.14" cy="1405.65" r="6.9" fill="#a6a6a6" stroke="#000" stroke-width="5"/>
<circle cx="236.63" cy="1417.64" r="6.9" fill="#a6a6a6" stroke="#000" stroke-width="5"/>
<circle cx="216.14" cy="1436.89" r="6.9" fill="#a6a6a6" stroke="#000" stroke-width="5"/>
<rect x="294.6" y="1273.21" width="14" height="14" fill="#000" stroke="none"/>
<rect x="284.1" y="1311.69" width="14" height="14" fill="#000" stroke="none"/>
<rect x="304.59" y="1329.19" width="14" height="14" fill="#000" stroke="none"/>
<rect x="279.61" y="1339.18" width="14" height="14" fill="#000" stroke="none"/>
<rect x="309.09" y="1342.43" width="14" height="14" fill="#000" stroke="none"/>
<rect x="287.1" y="1348.68" width="14" height="14" fill="#000" stroke="none"/>
<rect x="301.6" y="1352.42" width="14" height="14" fill="#000" stroke="none"/>
<rect x="294.6" y="1354.92" width="14" height="14" fill="#000" stroke="none"/>
<rect x="309.09" y="1390.4" width="14" height="14" fill="#000" stroke="none"/>
<rect x="279.61" y="1394.9" width="14" height="14" fill="#000" stroke="none"/>
<rect x="294.6" y="1398.65" width="14" height="14" fill="#000" stroke="none"/>
<rect x="304.59" y="1401.65" width="14" height="14" fill="#000" stroke="none"/>
<rect x="284.1" y="1421.64" width="14" height="14" fill="#000" stroke="none"/>
<line x1="177" y1="1188.75" x2="277.5" y2="1188.75" stroke-width="5.2" stroke="#000"/>
<text transform="translate(225 1184.5)" font-size="16.2" text-anchor="middle">0.2603</text>
<line x1="177" y1="1213" x2="201.25" y2="1213" stroke-width="5.2" stroke="#000"/>
<text transform="translate(188 1208.1)" font-size="16.2" text-anchor="middle">0.9970</text>
<line x1="251.25" y1="1213" x2="275.75" y2="1213" stroke-width="5.2" stroke="#000"/>
<text transform="translate(260.75 1208.1)" font-size="16.2" text-anchor="middle">0.3183</text>
<path d="M1663.3 1177.6V1513.3H1888" fill="none" stroke="#000" stroke-width="3.4"/>
<path d="M1653.8 1179.3H1663.3M1653.8 1290.7H1663.3M1653.8 1402H1663.3M1653.8 1513.3H1663.3M1699.5 1513.3V1522.3M1774.5 1513.3V1522.3M1849.5 1513.3V1522.3" fill="none" stroke="#000" stroke-width="3.4"/>
<text transform="translate(1615.5 1187.85) scale(0.9550 1)" font-size="27.3" font-weight="bold">0.3</text>
<text transform="translate(1615.6 1299.25) scale(0.9550 1)" font-size="27.3" font-weight="bold">0.2</text>
<text transform="translate(1615.28 1410.55) scale(0.9550 1)" font-size="27.3" font-weight="bold">0.1</text>
<text transform="translate(1615.63 1521.85) scale(0.9550 1)" font-size="27.3" font-weight="bold">0.0</text>
<text transform="translate(1705.6 1542.3) rotate(-45)" font-size="26" text-anchor="end" font-weight="bold">PBS</text>
<text transform="translate(1780.6 1542.3) rotate(-45)" font-size="26" text-anchor="end" font-weight="bold">Vehicle</text>
<text transform="translate(1855.6 1542.3) rotate(-45)" font-size="26" text-anchor="end" font-weight="bold">Peptide</text>
<path d="M1675.7 1504.5H1725.1" fill="none" stroke="#000" stroke-width="3.4"/>
<path d="M1750.4 1507H1799.8" fill="none" stroke="#000" stroke-width="3.4"/>
<path d="M1824.4 1386.5H1873.8M1836.9 1368.75H1861.3M1836.9 1405H1861.3M1849.1 1368.75V1405" fill="none" stroke="#000" stroke-width="3.4"/>
<circle cx="1690.25" cy="1477" r="6.9" fill="none" stroke="#000" stroke-width="5"/>
<circle cx="1694.5" cy="1490.75" r="6.9" fill="none" stroke="#000" stroke-width="5"/>
<circle cx="1710.75" cy="1488.25" r="6.9" fill="none" stroke="#000" stroke-width="5"/>
<circle cx="1709.5" cy="1493.25" r="6.9" fill="none" stroke="#000" stroke-width="5"/>
<circle cx="1689.5" cy="1502" r="6.9" fill="none" stroke="#000" stroke-width="5"/>
<circle cx="1710.75" cy="1502" r="6.9" fill="none" stroke="#000" stroke-width="5"/>
<circle cx="1700" cy="1500" r="6.9" fill="none" stroke="#000" stroke-width="5"/>
<circle cx="1682" cy="1513" r="6.9" fill="none" stroke="#000" stroke-width="5"/>
<circle cx="1687" cy="1513" r="6.9" fill="none" stroke="#000" stroke-width="5"/>
<circle cx="1692" cy="1513" r="6.9" fill="none" stroke="#000" stroke-width="5"/>
<circle cx="1697" cy="1513" r="6.9" fill="none" stroke="#000" stroke-width="5"/>
<circle cx="1702" cy="1513" r="6.9" fill="none" stroke="#000" stroke-width="5"/>
<circle cx="1707" cy="1513" r="6.9" fill="none" stroke="#000" stroke-width="5"/>
<circle cx="1712" cy="1513" r="6.9" fill="none" stroke="#000" stroke-width="5"/>
<circle cx="1717" cy="1513" r="6.9" fill="none" stroke="#000" stroke-width="5"/>
<circle cx="1700" cy="1507" r="6.9" fill="none" stroke="#000" stroke-width="5"/>
<circle cx="1695" cy="1508" r="6.9" fill="none" stroke="#000" stroke-width="5"/>
<circle cx="1705" cy="1508" r="6.9" fill="none" stroke="#000" stroke-width="5"/>
<circle cx="1760.75" cy="1503.75" r="6.9" fill="#a6a6a6" stroke="#000" stroke-width="5"/>
<circle cx="1765.75" cy="1503.75" r="6.9" fill="#a6a6a6" stroke="#000" stroke-width="5"/>
<circle cx="1784.5" cy="1503.75" r="6.9" fill="#a6a6a6" stroke="#000" stroke-width="5"/>
<circle cx="1789.5" cy="1503.75" r="6.9" fill="#a6a6a6" stroke="#000" stroke-width="5"/>
<circle cx="1765.75" cy="1514.5" r="6.9" fill="#a6a6a6" stroke="#000" stroke-width="5"/>
<circle cx="1774.5" cy="1514.5" r="6.9" fill="#a6a6a6" stroke="#000" stroke-width="5"/>
<circle cx="1783.25" cy="1514.5" r="6.9" fill="#a6a6a6" stroke="#000" stroke-width="5"/>
<circle cx="1760" cy="1509" r="6.9" fill="#a6a6a6" stroke="#000" stroke-width="5"/>
<circle cx="1790" cy="1509" r="6.9" fill="#a6a6a6" stroke="#000" stroke-width="5"/>
<rect x="1852.28" y="1261.72" width="14" height="14" fill="#000" stroke="none"/>
<rect x="1831.79" y="1272.96" width="14" height="14" fill="#000" stroke="none"/>
<rect x="1842.28" y="1339.93" width="14" height="14" fill="#000" stroke="none"/>
<rect x="1852.28" y="1350.67" width="14" height="14" fill="#000" stroke="none"/>
<rect x="1831.79" y="1362.42" width="14" height="14" fill="#000" stroke="none"/>
<rect x="1827.29" y="1373.16" width="14" height="14" fill="#000" stroke="none"/>
<rect x="1856.53" y="1373.16" width="14" height="14" fill="#000" stroke="none"/>
<rect x="1842.28" y="1384.91" width="14" height="14" fill="#000" stroke="none"/>
<rect x="1852.28" y="1415.64" width="14" height="14" fill="#000" stroke="none"/>
<rect x="1831.79" y="1424.14" width="14" height="14" fill="#000" stroke="none"/>
<rect x="1842.28" y="1446.88" width="14" height="14" fill="#000" stroke="none"/>
<rect x="1852.28" y="1459.87" width="14" height="14" fill="#000" stroke="none"/>
<rect x="1831.79" y="1472.36" width="14" height="14" fill="#000" stroke="none"/>
<line x1="1725.75" y1="1189.25" x2="1825.25" y2="1189.25" stroke-width="5.2" stroke="#000"/>
<text transform="translate(1776.25 1189.8)" font-size="24" text-anchor="middle">****</text>
<line x1="1799.5" y1="1213" x2="1823.75" y2="1213" stroke-width="5.2" stroke="#000"/>
<text transform="translate(1810.75 1214.3)" font-size="24" text-anchor="middle">****</text>
<text transform="translate(122.44 594.5) scale(0.9709 1)" font-size="33.72">ApoB</text>
<text transform="translate(203.02 597.6) scale(0.9766 1)" font-size="21.51">406-414</text>
<text transform="translate(439.94 594.5) scale(0.9709 1)" font-size="33.72">ApoB</text>
<text transform="translate(520.52 597.6) scale(0.9732 1)" font-size="21.51">406-417</text>
<text transform="translate(757.44 594.5) scale(0.9709 1)" font-size="33.72">ApoB</text>
<text transform="translate(837.44 597.6) scale(0.9786 1)" font-size="21.51">2356-2364</text>
<text transform="translate(1065.44 594.5) scale(0.9709 1)" font-size="33.72">ApoB</text>
<text transform="translate(1145.44 597.6) scale(0.9781 1)" font-size="21.51">2524-2532</text>
<text transform="translate(1366.24 594.5) scale(0.9709 1)" font-size="33.72">ApoB</text>
<text transform="translate(1446.5 597.6) scale(0.9790 1)" font-size="21.51">3070-3078</text>
<text transform="translate(1655.24 594.5) scale(0.9709 1)" font-size="33.72">ApoB</text>
<text transform="translate(1735.82 597.6) scale(0.9816 1)" font-size="21.51">4531-4539</text>
<text transform="translate(1676.94 1164.6) scale(0.9734 1)" font-size="33.72">ApoB</text>
<text transform="translate(1756.87 1167.3) scale(1.0033 1)" font-size="21.8">combined</text>
<text transform="translate(61.3 413.79) rotate(-90) scale(0.9133 1)" font-size="34.3">CD8 T cell % of CD45</text>
<text transform="translate(22.67 110.37)" font-size="33">+</text>
<text transform="translate(67.3 1503.6) rotate(-90) scale(0.9163 1)" font-size="34.3">CD8 T cell % of CD45</text>
<text transform="translate(29.17 1199.77)" font-size="33">+</text>
<text transform="translate(36.3 902.65) rotate(-90) scale(0.8380 1)" font-size="34.3">IFN-γ</text>
<text transform="translate(2.67 826.97)" font-size="33">+</text>
<text transform="translate(36.3 808.21) rotate(-90) scale(0.9232 1)" font-size="34.3">TNF-a</text>
<text transform="translate(2.67 720.17)" font-size="33">+</text>
<text transform="translate(36.3 698.72) rotate(-90) scale(0.7485 1)" font-size="34.3">%</text>
<text transform="translate(1603.3 1472.25) rotate(-90) scale(0.8691 1)" font-size="34.3">IFN-γ</text>
<text transform="translate(1569.57 1395.87)" font-size="33">+</text>
<text transform="translate(1603.3 1376.2) rotate(-90) scale(0.9140 1)" font-size="34.3">TNF-α</text>
<text transform="translate(1569.57 1287.47)" font-size="33">+</text>
<text transform="translate(1603.3 1268.1) rotate(-90) scale(0.8982 1)" font-size="34.3">%</text>
<line x1="45.75" y1="951" x2="45.75" y2="633.48" stroke-width="2.3" stroke="#000"/>
<path d="M45.75 615L57.35 645.8Q45.75 637.8 34.15 645.8Z" fill="#000" stroke="none" stroke-width="1"/>
<text transform="translate(849.86 25) scale(0.9769 1)" font-size="32.41">Splenic CD8 T cells</text>
<line x1="463.5" y1="38.1" x2="1521.3" y2="38.8" stroke-width="2.1" stroke="#000"/>
<text transform="translate(470.11 75.4) scale(0.8977 1)" font-size="32.41">PBS</text>
<text transform="translate(826.86 75.2) scale(1.0074 1)" font-size="32.41">Vehicle</text>
<text transform="translate(1182.8 76) scale(1.0526 1)" font-size="32.41">Peptide</text>
<text transform="translate(397.5 331.68) rotate(-90) scale(0.8978 1)" font-size="33.87">TNF-α (PE)</text>
<text transform="translate(886.53 515.5) scale(0.9825 1)" font-size="32.7">IFN-γ (eF450)</text>
<line x1="410" y1="434.3" x2="410" y2="96.48" stroke-width="2.3" stroke="#000"/>
<path d="M410 78L421.6 108.8Q410 100.8 398.4 108.8Z" fill="#000" stroke="none" stroke-width="1"/>
<line x1="463.5" y1="485.8" x2="1504.02" y2="487.5" stroke-width="2.3" stroke="#000"/>
<path d="M1522.5 487.5L1491.7 475.9Q1499.7 487.5 1491.7 499.1Z" fill="#000" stroke="none" stroke-width="1"/>
<path d="M463.8 116.8h-10M463.8 179.5h-10M463.8 250h-10M463.8 326.7h-10M463.8 360.3h-10" fill="none" stroke="#000" stroke-width="2.5"/>
<path d="M463.8 135.6h-7M463.8 200.7h-7M463.8 275h-7M463.8 408.6h-7M463.8 98.8h-4.5M463.8 88.3h-4.5M463.8 160.6h-4.5M463.8 149.6h-4.5M463.8 141.7h-4.5M463.8 130.7h-4.5M463.8 126.5h-4.5M463.8 122.8h-4.5M463.8 119.6h-4.5M463.8 228.8h-4.5M463.8 216.4h-4.5M463.8 207.6h-4.5M463.8 195.1h-4.5M463.8 190.4h-4.5M463.8 186.3h-4.5M463.8 182.7h-4.5M463.8 253.7h-4.5M463.8 258h-4.5M463.8 263.7h-4.5M463.8 268.7h-4.5M463.8 283.7h-4.5M463.8 296.3h-4.5M463.8 309.8h-4.5M463.8 340.7h-4.5M463.8 346.3h-4.5M463.8 337.9h-4.5M463.8 349.1h-4.5M463.8 335.1h-4.5M463.8 351.9h-4.5M463.8 332.3h-4.5M463.8 354.7h-4.5M463.8 329.5h-4.5M463.8 357.5h-4.5M463.8 375.3h-4.5M463.8 388.9h-4.5M463.8 397.5h-4.5M463.8 414.8h-4.5M463.8 421.3h-4.5M463.8 426.3h-4.5" fill="none" stroke="#000" stroke-width="1.35"/>
<path d="M463.8 343.5h-10" fill="none" stroke="#000" stroke-width="5"/>
<text transform="translate(423.06 125.65)" font-size="13.2">10</text>
<text transform="translate(439.34 114.85)" font-size="13.2">6</text>
<text transform="translate(423.06 188.4)" font-size="13.2">10</text>
<text transform="translate(439.34 177.6)" font-size="13.2">5</text>
<text transform="translate(423.06 258.9)" font-size="13.2">10</text>
<text transform="translate(439.34 248.1)" font-size="13.2">4</text>
<text transform="translate(434.6 348)" font-size="12.8" text-anchor="middle">0</text>
<path d="M617 330.5h1.3M524 309h1.3M564 391h1.3M525 340h1.3M525.5 327.5h1.3M515 340.5h1.3M621.5 350.5h1.3M593 383h1.3M562 386.5h1.3M621.5 336.5h1.3M618.5 353.5h1.3M605 370h1.3M550.5 389.5h1.3M620.5 338.5h1.3M593.5 380h1.3M540 295.5h1.3M610 367h1.3M569 231h1.3M630.5 312h1.3M609.5 367.5h1.3M563 391h1.3M585 239h1.3M538.5 304.5h1.3M536 378h1.3M562.5 388h1.3M618.5 337.5h1.3M557.5 384h1.3M619.5 344h1.3M568 387.5h1.3M558 389.5h1.3M540.5 300h1.3M603 371h1.3M628.5 335h1.3M538 369h1.3M530.5 318.5h1.3M615 323h1.3M560 232.5h1.3M605 301.5h1.3M593.5 405h1.3M620 319h1.3M545.5 292.5h1.3M569 388h1.3M613.5 298.5h1.3M551.5 267h1.3M516 345.5h1.3M590.5 382.5h1.3M517 317h1.3M579.5 385.5h1.3M572 387.5h1.3M605.5 302.5h1.3M608.5 363.5h1.3M616.5 319h1.3M565.5 386h1.3M615.5 355.5h1.3M540.5 374.5h1.3M554 266h1.3M572.5 399h1.3M593 245.5h1.3M600.5 285h1.3M538 306h1.3M632 320h1.3M523.5 328h1.3M531 313.5h1.3M613 355.5h1.3M540 306h1.3M609 364h1.3M609 301.5h1.3M589 386.5h1.3M527 325h1.3M547 287.5h1.3M618 316h1.3M604.5 298h1.3M619 370h1.3M543.5 380.5h1.3M562 229h1.3M624 339.5h1.3M592 383h1.3M527 354.5h1.3M607.5 368.5h1.3M527 351.5h1.3M520 335h1.3M524.5 341h1.3M523 334h1.3M573 238h1.3M608.5 301.5h1.3M606.5 308.5h1.3M624.5 342.5h1.3M532.5 368.5h1.3M604.5 273h1.3M519.5 311.5h1.3M527.5 366.5h1.3M594.5 380h1.3M600.5 251h1.3M591 210.5h1.3M529 272.5h1.3M578.5 231h1.3M614.5 301.5h1.3M548 274.5h1.3M576.5 218.5h1.3M579.5 206h1.3M594 226h1.3M560 240.5h1.3M552.5 250.5h1.3M610 304.5h1.3M546 275.5h1.3M584.5 231.5h1.3M586 236.5h1.3M551 275.5h1.3M542 294.5h1.3M593.5 216.5h1.3M540.5 293.5h1.3M603.5 251h1.3M618 244h1.3M563 238.5h1.3M529 315.5h1.3M544 270.5h1.3M589 220.5h1.3M546 284h1.3M594 250h1.3M582 239h1.3M587 240.5h1.3M575.5 234h1.3M599 271.5h1.3M563.5 208.5h1.3M597.5 256.5h1.3M565 238.5h1.3M589 189h1.3M614.5 303h1.3M590.5 240.5h1.3M529.5 312h1.3M536 310h1.3M591 241.5h1.3M606.5 297.5h1.3M616 306h1.3M606.5 253.5h1.3M535 314h1.3M550.5 277.5h1.3M595 248h1.3M611 304.5h1.3M615 233h1.3M613.5 215.5h1.3M549 276.5h1.3M627.5 335h1.3M566 219.5h1.3M541 267.5h1.3M589 242.5h1.3M609.5 306h1.3M555 256h1.3M595.5 251.5h1.3M587.5 239h1.3M558.5 239h1.3M578 237h1.3M603.5 238h1.3M531 301h1.3M544 288.5h1.3M559 252.5h1.3M603.5 284.5h1.3M604 301h1.3M548.5 278.5h1.3M536.5 260h1.3M561 218h1.3M574 185h1.3M527 291.5h1.3M603 293.5h1.3M569.5 239h1.3M549 200h1.3M556 241.5h1.3M622.5 324h1.3M530.5 302.5h1.3M602 230h1.3M596 246h1.3M612.5 290h1.3M530.5 308.5h1.3M551.5 276.5h1.3M549.5 277h1.3M600 270.5h1.3M613.5 256.5h1.3M612 304h1.3M600.5 283h1.3M557.5 253.5h1.3M605.5 263h1.3M546.5 293h1.3M543 301.5h1.3M521.5 298h1.3M594.5 220.5h1.3M549 244.5h1.3M615.5 278.5h1.3M587 229h1.3M551.5 274.5h1.3M533.5 316.5h1.3M545.5 263h1.3M556 259h1.3M615 275h1.3M638 289.5h1.3M617 315h1.3M547 286h1.3M592.5 247h1.3M578 238h1.3M603 281.5h1.3M591.5 197.5h1.3M555 245h1.3M579.5 232.5h1.3M606.5 300h1.3M539 289h1.3M573.5 232.5h1.3M596.5 249h1.3M607.5 311h1.3M542 289h1.3M601.5 288h1.3M599 270h1.3M593.5 236h1.3M539.5 283.5h1.3M613.5 308h1.3M604.5 248h1.3M575 234h1.3M602 285.5h1.3M554.5 253h1.3M565 240h1.3M537 309h1.3M576 237h1.3M548 284.5h1.3M596.5 214.5h1.3M604 291.5h1.3M595 254.5h1.3M548.5 267h1.3M565.5 219h1.3M524 331.5h1.3M579 224.5h1.3M594.5 240h1.3M582.5 223.5h1.3M580 200h1.3M572.5 226h1.3M602.5 238h1.3M585 184h1.3M588.5 171h1.3M558 209h1.3M566.5 232h1.3M591.5 202.5h1.3M574.5 187.5h1.3M583.5 173.5h1.3M586 203.5h1.3M575 220.5h1.3M567.5 229.5h1.3M592.5 218h1.3M608.5 218h1.3M572.5 197.5h1.3M570 230.5h1.3M587 201.5h1.3M581 207.5h1.3M575 229h1.3M552 248h1.3M587.5 217.5h1.3M559.5 211.5h1.3M567.5 213.5h1.3M586 217h1.3M572 202.5h1.3M571 223.5h1.3M568.5 211.5h1.3M593 225h1.3M589.5 213.5h1.3M576.5 238.5h1.3M566 196h1.3M576 227.5h1.3M546.5 218.5h1.3M579 233h1.3M592.5 233h1.3M579 229.5h1.3M579.5 229h1.3M582.5 212h1.3M577 225.5h1.3M568.5 225.5h1.3M572.5 214h1.3M612.5 227.5h1.3M572.5 212h1.3M562 175.5h1.3M551 200h1.3M569 240.5h1.3M555.5 219h1.3M577.5 226.5h1.3M583 206h1.3M585 240.5h1.3M578.5 229.5h1.3M569 181.5h1.3M577.5 234h1.3M565.5 199.5h1.3M571.5 221.5h1.3M569 221h1.3M653.5 385.5h1.3M642 320.5h1.3M661 298h1.3M629.5 303h1.3M714.5 395.5h1.3M697 286.5h1.3M732.5 319.5h1.3M637.5 425.5h1.3M632.5 242h1.3M686 391.5h1.3M670 276.5h1.3M624.5 314.5h1.3M520.5 383.5h1.3M575.5 387.5h1.3M617.5 317.5h1.3M561 404h1.3M622.5 315h1.3M627.5 323.5h1.3M615.5 328h1.3M586.5 425.5h1.3M628.5 318.5h1.3M646 299.5h1.3M617 294.5h1.3M657.5 333.5h1.3M611 312h1.3M610.5 366.5h1.3M511 301h1.3M539 290h1.3M484 339h1.3M570 426.5h1.3M600 280.5h1.3M524 323h1.3M595 403h1.3M591 228h1.3M654.5 267.5h1.3M535 306h1.3M611 280.5h1.3M611.5 373.5h1.3M517.5 308.5h1.3M653.5 333h1.3M516 342h1.3M599.5 391h1.3M513 307h1.3M558.5 193h1.3M529 315h1.3M532.5 252.5h1.3M595.5 393.5h1.3M587.5 400.5h1.3M505 253.5h1.3M609 307h1.3M629.5 365.5h1.3M574 237h1.3M617.5 310h1.3M525 306.5h1.3M512.5 313.5h1.3" fill="none" stroke="#2e2e2e" stroke-width="1.3"/>
<path d="M572.7 240L578.2 239.6L581.5 240L584.4 241.1L589.5 245.5L589.9 245.9L594.1 253.9L595.1 257L596.9 263.6L598.2 270.6L598.6 273.1L599.7 281.5L599.8 282.5L600.5 288.5L601 291.6L601.4 294.2L602.2 298.5L602.3 298.8L603.3 302.7L603.6 303.9L604.3 306.2L605 308.5L605.3 309.3L606.4 312.5L607.9 316.2L609.7 319.6L611.6 322.9L613.3 326.3L614.6 329.9L615.4 333.7L615.8 337.5L616 341.3L615.7 345.1L614.8 348.9L613.4 352.4L611.7 355.8L610 359L608.2 362.2L606.1 365.2L603.6 367.9L601 370.4L598.4 372.9L595.7 375.4L592.9 377.8L589.9 380L586.5 381.7L583 383.1L579.3 384.2L575.5 385L571.7 385.2L567.9 384.7L564.2 383.6L560.6 382.4L557.1 381.1L553.7 379.6L550.5 377.7L547.5 375.4L544.7 373L542 370.6L539.2 368.1L536.6 365.5L534.2 362.5L532.1 359.2L530.2 355.9L528.5 352.3L527 348.6L526.2 344.7L526.1 340.7L526.6 336.7L527.3 332.8L528.3 329L529.8 325.3L531.6 321.8L533.8 318.6L536.1 315.5L538.2 312.2L540.3 308.8L542.4 305.2L542.5 305.1L544 302.2L544.5 301.2L545.5 299.1L546.6 296.3L547 295.3L548.4 290.6L548.6 289.9L549.9 284.9L550.7 281.3L551.5 277.8L553.5 270.1L553.7 269.6L556.6 260.4L557.8 257.3L560.6 251.4L564.3 245.8L565.8 244.2L571.9 240.2ZM577 259.1L577.9 259.2L582 260.5L584.8 262.6L586.4 264.4L589.8 270.7L590 271.1L592.2 278.1L593 281.9L593.7 285.5L594.7 291.7L594.7 292.1L595.5 297.7L595.8 299.5L596.3 302.2L597 305.2L597.2 305.9L598.3 308.9L598.5 309.5L599.4 311.4L600.3 313L600.7 313.7L602.1 316.1L603.8 319.2L605.3 322.3L606.8 325.4L608.2 328.6L609.2 331.8L609.9 335.2L610.3 338.6L610.3 342.1L610.1 345.5L609.5 348.9L608.2 352.1L606.5 355.1L604.6 357.8L602.7 360.5L600.7 363.1L598.6 365.6L596.3 367.9L593.8 370L591.2 372L588.5 373.9L585.6 375.5L582.6 376.9L579.4 377.9L576.1 378.8L572.7 379.5L569.2 379.9L565.7 379.6L562.3 378.6L559.2 377.1L556.2 375.4L553.3 373.5L550.6 371.5L548.2 369.3L545.8 366.9L543.4 364.6L541.1 362.2L538.9 359.5L537.1 356.6L535.6 353.5L534.3 350.3L533.1 347L532.2 343.5L531.8 339.9L532.1 336.3L533.1 332.8L534.4 329.5L536 326.4L537.9 323.4L539.9 320.6L542 317.9L543.8 315L545.5 311.7L546.4 309.8L547.2 308.1L547.6 307.2L548.9 304.4L549.1 304.1L550.3 301.4L551.1 299.5L551.8 297.8L553.3 293.6L553.3 293.5L554.9 288.3L555.7 285.7L556.9 282L559 275.9L559.4 275L562.7 268L563.9 266.1L567 262.4L570.6 259.9L571.9 259.5ZM572.2 283.6L575.5 283.3L577.9 283.6L579.1 284L582.3 286.3L583.1 287.1L585 289.9L586.8 293.6L587 294.2L588.7 298.4L589.4 300.2L590.1 302.1L591.3 305.4L591.4 305.6L592.5 308.4L593.1 310.2L593.5 311.1L594.4 313.5L594.7 314.2L595.4 315.8L596.3 317.5L596.5 317.7L598.3 320.2L600.3 322.8L602.1 325.7L603.5 328.8L604.7 331.9L605.7 335.2L606.2 338.6L606.1 342L605.5 345.3L604.8 348.6L603.9 351.8L602.5 354.9L600.5 357.6L598.2 360L596 362.3L594 364.9L591.8 367.4L589.4 369.6L586.6 371.7L583.7 373.6L580.6 375.2L577.2 376L573.6 376.1L570.1 375.8L566.7 375.3L563.3 374.6L560.1 373.3L557.3 371.3L554.6 369.2L552.1 367.1L549.5 365.1L547.1 362.8L544.8 360.4L542.5 357.9L540.2 355.2L538.2 352.2L537.1 348.8L536.5 345.3L536.3 341.8L536.2 338.2L536.5 334.6L537.7 331.2L539.4 328.1L541.3 325.1L543.3 322.3L545.5 319.7L548 317.4L550.3 314.9L550.5 314.8L551.8 313L552.4 312L553 310.9L554.3 308.7L554.4 308.4L555.7 306.1L556.7 304.3L557.2 303.4L558.8 300.3L559.3 299.4L560.7 296.8L562.5 293.4L562.8 292.9L565.4 288.9L566.8 287.2L568.5 285.6L571.9 283.7ZM573.8 298L574.6 298L577.3 298.3L578.4 298.6L579.8 299.4L582 301.5L582.3 301.8L583.9 304L585.2 306.4L585.4 306.7L586.8 309.3L587.5 310.7L588 311.5L589.3 313.5L589.7 314.1L590.6 315.1L591.9 316.7L592 316.8L593.2 318.2L594.2 319.4L594.4 319.7L595.9 322.3L597.5 325.2L599.2 328L600.8 330.9L602.1 333.9L602.9 337.2L603.4 340.6L603.5 344L602.7 347.3L601.1 350.4L599.3 353.2L597.6 355.9L595.9 358.7L593.9 361.2L591.6 363.5L589.3 365.9L586.9 368.2L584.1 370.3L581 371.8L577.7 373L574.2 373.9L570.7 374.1L567.2 373.2L564 371.5L561 369.8L558.1 368.1L555.4 366.2L552.9 364.1L550.4 362.1L547.8 359.9L545.4 357.5L543.5 354.7L541.9 351.6L540.4 348.4L539.2 345L538.7 341.4L539.1 337.9L540.1 334.4L541.4 331.1L543 328.1L545.1 325.3L547.3 322.8L549.5 320.2L551.7 317.7L552.3 317.1L553.8 315.8L554.2 315.5L555.4 314.6L556.9 313.5L556.9 313.4L558.4 312.1L559.5 310.9L559.9 310.4L561.4 308.4L562.1 307.3L563 306L564.8 303.4L565.2 302.9L566.9 301.1L569.2 299.3L569.3 299.2L571.9 298.2ZM573 304.5L574.2 304.5L576.5 305L577.1 305.3L578.6 306.1L580.4 307.8L580.7 308.1L582 309.7L583.5 311.6L583.6 311.7L584.9 313.3L586 314.8L586.2 314.9L587.4 316.5L588.2 317.7L588.5 318L589.6 319.5L590.3 320.4L590.6 320.9L591.7 322.2L592.3 322.9L594.4 325.2L596.3 327.8L598 330.6L599.7 333.5L601 336.7L601.4 340.1L600.9 343.5L599.9 346.7L598.7 349.8L597.3 352.7L595.5 355.4L593.7 358.1L591.9 360.8L589.7 363.3L587.1 365.4L584.3 367.2L581.4 369L578.1 370.4L574.7 370.9L571.2 370.7L567.8 370.1L564.5 369.2L561.5 367.7L558.6 366.1L555.7 364.4L552.9 362.5L550.5 360.2L548.6 357.5L546.6 354.8L544.7 351.9L543.1 348.8L542.1 345.4L541.6 342L541.5 338.4L542.2 334.9L543.8 331.7L545.6 328.8L547.5 326L549.8 323.5L552.4 321.5L554.7 319.9L555 319.6L556 318.8L557.3 317.7L557.4 317.5L558.6 316.4L559.9 315.1L559.9 315.1L561.2 313.7L562.5 312.4L562.7 312.2L564.2 310.5L565.4 309.2L565.8 308.7L567.7 306.9L568.9 306L569.7 305.5L572 304.6ZM573.9 310.4L574.3 310.4L575.7 310.8L577.5 311.6L577.9 311.9L579.2 312.7L580.7 313.9L581.1 314.2L582.2 315L583.5 316.2L583.9 316.5L584.8 317.4L586 318.6L586.4 318.9L587.2 319.8L588.3 321L588.7 321.3L589.5 322.2L590.6 323.3L590.9 323.6L592.9 326.2L594.6 328.9L596.2 331.7L598.1 334.6L599.2 337.9L599.2 341.3L598.7 344.7L597.7 347.9L596.3 350.9L594.4 353.6L592.5 356.3L590.5 358.8L588.2 361L585.6 363L583 365.2L580.2 367.4L577 368.9L573.5 369.4L569.9 369.3L566.4 368.4L563.3 366.7L560.4 364.9L557.6 363.1L554.9 361.2L552.6 358.8L550.6 356.2L548.3 353.7L546.3 350.8L544.9 347.6L543.9 344.2L543.5 340.7L544.1 337.1L545.5 333.9L547.1 330.8L548.6 327.8L550.7 325.1L553.2 322.9L555.6 321L555.8 320.9L556.9 320L558.1 319L558.3 318.9L559.5 318.1L560.9 317.2L561.1 317.1L562.3 316.3L563.7 315.3L563.9 315.1L565.1 314.1L566.6 312.8L566.9 312.6L568.3 311.6L570.1 310.7L570.4 310.5L572 310.2ZM573.6 317.4L576.8 317.6L579.9 318.4L582.6 320.1L585 322.2L587.2 324.2L589.4 326.4L591.5 328.6L593.8 331L595.6 333.7L596.5 336.9L596.7 340.2L596.8 343.5L596.3 346.8L595 349.9L593.4 352.8L591.5 355.4L589.3 357.8L587 360.1L584.7 362.5L582 364.7L578.8 366L575.4 366.5L572 366.6L568.6 366.2L565.3 365.3L562.1 364.1L559.2 362.5L556.7 360.3L554.4 357.9L551.9 355.8L549.5 353.3L547.7 350.3L546.5 347L545.8 343.6L545.8 340.1L546.4 336.6L547.4 333.3L549.1 330.3L551.6 327.9L554.3 326L556.7 324L559.1 322.1L561.7 320.5L564.4 318.9L567.3 317.8L570.5 317.4ZM572.9 318.8L576.1 319.3L579 320.4L581.8 321.7L584.5 323.2L586.9 325.2L589 327.5L591 329.9L592.8 332.5L594.2 335.5L595 338.7L595.2 342L594.6 345.2L593.6 348.3L592.4 351.4L590.8 354.2L588.6 356.7L586.3 358.9L583.7 361L580.9 362.8L577.8 364.3L574.4 365.3L571 365.2L567.6 364.4L564.4 363.3L561.4 361.8L558.8 359.8L556.3 357.6L554 355.3L551.9 352.7L549.9 350L548 347L547 343.5L547.1 339.9L547.9 336.5L549.5 333.3L551.6 330.6L553.8 328.2L556.2 326.1L558.7 324.3L561.3 322.7L563.9 321L566.7 319.5L569.8 318.9ZM572 320.9L575.1 321.3L578 322.2L580.9 323L583.8 324.2L586.1 326.4L588.2 328.7L590.5 331L592.3 333.7L593.3 336.9L593.9 340.2L593.4 343.5L592.5 346.7L591.7 349.8L590 352.7L587.4 354.8L585.1 356.9L582.8 359.1L580.1 361.1L577.1 363.1L573.7 364.2L570.2 363.8L566.8 363.1L563.5 362L560.8 359.8L558.5 357.3L556.3 355L554.3 352.4L552.1 349.9L549.8 347.1L548.9 343.6L549.2 340.1L549.8 336.7L551.1 333.5L553.1 330.7L555.2 328.2L557.8 326.2L560.5 324.6L562.9 322.6L565.7 321.1L568.9 320.7ZM572.1 321.5L575.3 321.8L578.2 323.3L580.8 324.9L583.6 326.1L586 328.2L588.1 330.6L590.1 333.1L591.4 336.2L592.1 339.4L592.2 342.7L591 345.9L589.7 348.8L588.6 351.9L586.7 354.6L584.4 357L581.7 359.1L578.6 360.3L575.4 361.6L571.9 362.3L568.5 361.5L565.3 360.3L562.2 358.9L559.7 356.7L557.2 354.6L555.1 352L553.6 349L551.6 346.1L550.1 342.7L550.3 339.1L551.3 335.7L553.3 332.7L555.9 330.4L558 328.1L560.6 326.3L563.4 325L565.9 323.1L568.9 321.9ZM572.6 322.6L575.8 323.4L578.7 324.8L581.2 326.6L583.8 328.3L586.4 330.2L588.2 332.9L589.6 335.9L590.5 339.1L590.4 342.4L589.9 345.7L588.6 348.7L587 351.6L585.3 354.6L582.7 356.8L579.7 358.4L576.5 359.6L573.1 360.1L569.6 360.3L566.3 359.4L563.4 357.6L560.6 355.7L558.2 353.4L556 350.8L554.1 348L552.7 344.8L551.5 341.3L551.8 337.6L553.9 334.5L556.3 331.9L558.9 329.8L561.2 327.9L563.6 325.9L566.4 324.5L569.3 323.2ZM572 324.3L575.2 324.3L578.1 325.8L580.6 327.6L582.8 329.7L585.2 331.6L587.7 333.9L588.6 337L589 340.2L588.8 343.4L588 346.6L586.8 349.6L584.8 352.1L582.8 354.8L580.2 357.1L577 358.1L573.7 358.6L570.3 358.4L567 358L563.9 356.7L561.5 354.3L559 352.3L556.8 349.7L555 346.9L553.7 343.6L553.6 340.1L553.8 336.6L555.9 333.6L558.8 331.5L561.3 329.7L563.6 328L565.9 325.8L568.9 324.7ZM572.3 326.3L575.3 327L578.4 327.5L581 329.2L583.6 331L585.6 333.5L587.3 336.4L587.8 339.7L587.4 343L586.9 346.2L585.2 349L583.2 351.6L580.7 353.6L578.3 355.9L575.1 357.5L571.6 357.9L568.1 357.5L565.1 355.7L562.5 353.5L560.6 350.8L558.2 348.6L556.1 345.8L555 342.4L555.1 338.9L556.6 335.6L558.4 332.7L561.2 330.8L563.5 328.7L566.2 327.1L569.2 326.2ZM573.4 327L576.5 328L579.2 329.6L581.3 331.9L583.8 333.9L585.4 336.7L586 339.9L586 343.2L585.7 346.6L583.9 349.5L581.5 351.9L578.8 354L575.6 355.2L572.3 355.5L568.9 355.5L565.6 354.4L563 352.1L560.7 349.8L558.2 347.3L556.6 344L556.5 340.4L557.4 336.9L559.9 334.3L562.5 332.3L564.6 330.2L566.9 327.8L570.1 327ZM572.7 328.6L575.9 329.3L578.8 330.7L581.3 332.8L582.8 335.6L584.4 338.5L585.1 341.8L584 345L582.7 348.1L580.5 350.6L577.8 352.7L574.7 354.4L571.2 354.9L567.9 353.2L565 351.6L562.4 349.5L560.1 346.9L558.2 343.8L558 340.1L559.5 336.8L561.6 334.1L563.8 331.8L566.8 330.5L569.6 329ZM572.8 330.5L575.9 331.1L578.7 332.7L581.1 334.8L583.1 337.6L583.7 341.1L582.7 344.4L580.8 347.1L578.8 349.6L576.3 352.1L572.9 353.3L569.3 352.8L566.2 350.9L563.8 348.5L561.6 345.9L560.3 342.7L560.1 339.1L561.4 335.8L563.8 333.4L566.7 331.7L569.7 330.8ZM572.6 332.2L575.7 332.5L578.4 334.3L580.5 336.8L581.7 339.9L581.5 343.3L579.9 346.3L577.5 348.5L574.9 350.9L571.3 351.5L568 350.1L565.6 347.7L563.1 345.4L561.6 342.1L562.1 338.6L564 335.6L566.5 333.6L569.4 332.2ZM572.1 333.6L575 334.5L577.5 336.2L579.6 338.7L580.1 342L578.4 344.9L576.3 347.2L573.6 349.2L570.2 348.9L567.2 347.3L565.1 344.8L563.8 341.7L564.4 338.4L566.3 335.7L569.2 334.3ZM572.5 335.8L574.6 336.6L576.4 338.1L577.5 340.2L577.1 342.7L576 344.8L574 346.4L571.5 346.6L569.1 345.8L567.6 343.9L566.3 341.8L566.6 339.2L568.4 337.6L570.2 336.2Z" fill="none" stroke="#3a3a3a" stroke-width="0.85" stroke-linejoin="round"/>
<rect x="463.75" y="81.75" width="347" height="347.5" fill="none" stroke="#8c8c8c" stroke-width="1.3"/>
<line x1="631.3" y1="81.25" x2="631.3" y2="429.25" stroke-width="2.2" stroke="#000"/>
<line x1="459.25" y1="296.5" x2="811.75" y2="296.5" stroke-width="2" stroke="#000"/>
<text transform="translate(469.25 110)" font-size="16.3">Q3</text>
<text transform="translate(469.25 131.8)" font-size="16.3">11.9</text>
<text transform="translate(469.25 390)" font-size="16.3">Q4</text>
<text transform="translate(469.25 411.8)" font-size="16.3">87.7</text>
<text transform="translate(780.45 110)" font-size="16.3" text-anchor="end">Q2</text>
<text transform="translate(780.45 131.8)" font-size="16.3" text-anchor="end">0.12</text>
<text transform="translate(780.45 390)" font-size="16.3" text-anchor="end">Q1</text>
<text transform="translate(780.45 411.8)" font-size="16.3" text-anchor="end">0.26</text>
<path d="M464.2 429.2v10M548.8 429.2v10M632.6 429.2v10M718 429.2v10M802.6 429.2v10" fill="none" stroke="#000" stroke-width="2.5"/>
<path d="M523.3 429.2v7M607.4 429.2v7M692.3 429.2v7M777.2 429.2v7M489.7 429.2v4.5M504.6 429.2v4.5M515.1 429.2v4.5M530 429.2v4.5M535.7 429.2v4.5M540.6 429.2v4.5M544.9 429.2v4.5M574 429.2v4.5M588.8 429.2v4.5M599.3 429.2v4.5M614 429.2v4.5M619.7 429.2v4.5M624.5 429.2v4.5M628.8 429.2v4.5M658.4 429.2v4.5M673.4 429.2v4.5M684.1 429.2v4.5M699.1 429.2v4.5M704.8 429.2v4.5M709.8 429.2v4.5M714.1 429.2v4.5M743.5 429.2v4.5M758.4 429.2v4.5M769 429.2v4.5M783.9 429.2v4.5M789.5 429.2v4.5M794.5 429.2v4.5M798.8 429.2v4.5" fill="none" stroke="#000" stroke-width="1.35"/>
<text transform="translate(469.31 468.3)" font-size="13.2">10</text>
<text transform="translate(485.59 457.5)" font-size="13.2">2</text>
<text transform="translate(542.01 468.3)" font-size="13.2">10</text>
<text transform="translate(558.29 457.5)" font-size="13.2">3</text>
<text transform="translate(625.91 468.3)" font-size="13.2">10</text>
<text transform="translate(642.19 457.5)" font-size="13.2">4</text>
<text transform="translate(712.11 468.3)" font-size="13.2">10</text>
<text transform="translate(728.39 457.5)" font-size="13.2">5</text>
<text transform="translate(786.71 468.3)" font-size="13.2">10</text>
<text transform="translate(802.99 457.5)" font-size="13.2">6</text>
<path d="M864 334.5h1.3M931.5 266h1.3M961.5 354.5h1.3M903 228.5h1.3M966 317.5h1.3M892.5 274.5h1.3M932 263.5h1.3M933.5 264.5h1.3M887 362h1.3M858.5 346h1.3M964.5 321h1.3M857.5 317h1.3M946 310h1.3M886 358.5h1.3M918.5 261h1.3M869.5 347.5h1.3M958 312.5h1.3M939.5 360h1.3M927.5 264.5h1.3M867.5 330h1.3M963.5 360h1.3M867 321h1.3M899 296h1.3M866.5 354h1.3M870 321h1.3M904.5 370h1.3M949 289.5h1.3M890.5 300h1.3M900.5 364h1.3M965.5 346.5h1.3M877.5 303.5h1.3M869 313.5h1.3M942.5 296.5h1.3M885.5 303.5h1.3M965 344.5h1.3M874 319.5h1.3M937.5 365h1.3M911.5 369h1.3M906.5 367.5h1.3M876.5 317.5h1.3M939.5 300h1.3M863 309h1.3M934 363.5h1.3M883.5 312.5h1.3M965.5 354h1.3M940.5 302.5h1.3M894.5 284h1.3M870.5 306.5h1.3M951.5 315.5h1.3M935 372.5h1.3M971 352h1.3M888.5 361.5h1.3M935.5 284h1.3M909 281h1.3M953.5 310h1.3M911 373.5h1.3M961.5 332.5h1.3M909.5 248h1.3M927 257h1.3M916 261.5h1.3M965.5 326.5h1.3M912.5 368h1.3M959.5 316h1.3M900 287.5h1.3M924 259.5h1.3M948 355h1.3M856 287.5h1.3M940.5 365.5h1.3M890 291.5h1.3M944 293.5h1.3M908 366h1.3M972.5 343h1.3M908.5 390h1.3M865.5 309h1.3M831 336h1.3M892 297.5h1.3M906.5 282.5h1.3M863 319.5h1.3M859 342.5h1.3M926 365.5h1.3M954 318.5h1.3M872 316h1.3M963.5 330.5h1.3M886 362h1.3M900.5 288h1.3M942.5 305h1.3M928 366h1.3M916.5 262.5h1.3M914.5 365.5h1.3M931 363.5h1.3M969.5 326h1.3M904 366.5h1.3M881 310h1.3M863 332h1.3M935.5 362h1.3M956 348.5h1.3M920.5 365.5h1.3M929 248h1.3M895.5 368.5h1.3M891 360h1.3M921.5 367h1.3M917.5 369h1.3M959 326.5h1.3M886 371.5h1.3M871.5 316.5h1.3M900.5 386h1.3M858 325h1.3M863 346h1.3M954.5 314h1.3M895.5 298h1.3M954 355h1.3M902 365.5h1.3M884 309h1.3M903.5 382h1.3M871 316.5h1.3M898 284h1.3M888 305h1.3M960 372.5h1.3M909 375h1.3M919.5 369.5h1.3M868.5 323h1.3M970 323.5h1.3M893.5 363h1.3M966 354h1.3M944 373h1.3M941 298.5h1.3M883 299.5h1.3M936.5 255.5h1.3M937.5 361h1.3M825 337.5h1.3M947 306.5h1.3M910.5 276h1.3M936.5 287.5h1.3M835.5 329.5h1.3M949 361.5h1.3M884.5 308.5h1.3M877.5 359h1.3M899.5 284.5h1.3M895.5 290h1.3M950.5 306.5h1.3M955.5 308h1.3M883.5 302.5h1.3M906.5 285.5h1.3M934 276h1.3M955 354h1.3M956 347.5h1.3M896.5 300h1.3M865 318.5h1.3M916 367.5h1.3M924 368.5h1.3M952 316.5h1.3M930.5 261h1.3M966 297.5h1.3M945 308h1.3M905 233.5h1.3M894 298.5h1.3M930.5 270h1.3M890.5 268.5h1.3M931.5 274.5h1.3M853 325.5h1.3M906.5 243.5h1.3M896 220h1.3M952 296h1.3M882.5 274.5h1.3M953.5 309.5h1.3M899.5 294.5h1.3M981.5 316h1.3M966.5 312h1.3M955 320h1.3M934 279h1.3M886.5 308.5h1.3M896.5 301h1.3M922.5 264h1.3M943 296h1.3M904.5 278h1.3M910 277.5h1.3M937.5 291h1.3M911 252h1.3M948.5 273h1.3M898 298h1.3M855 338.5h1.3M971 352.5h1.3M888.5 283.5h1.3M895.5 250h1.3M905 277h1.3M899 288h1.3M856 319h1.3M966 345h1.3M945 304.5h1.3M903.5 289.5h1.3M937.5 287h1.3M926.5 264h1.3M897 292.5h1.3M950.5 314.5h1.3M929.5 235h1.3M905.5 268h1.3M925 262.5h1.3M897 289.5h1.3M943.5 296.5h1.3M949.5 313.5h1.3M954 301h1.3M921.5 257.5h1.3M937.5 296h1.3M939.5 274h1.3M915.5 240.5h1.3M920.5 245.5h1.3M946.5 292h1.3M920.5 264h1.3M941.5 301.5h1.3M952 253.5h1.3M915.5 263h1.3M935.5 256h1.3M912 270.5h1.3M939 299h1.3M909 276h1.3M931.5 227.5h1.3M941.5 267h1.3M869 315h1.3M940.5 363.5h1.3M918 263h1.3M958.5 319.5h1.3M930.5 264h1.3M922.5 227h1.3M902 291h1.3M934.5 282.5h1.3M891 301h1.3M948.5 312.5h1.3M959 312h1.3M857 334.5h1.3M934.5 271h1.3M896.5 299h1.3M885 305h1.3M899 276h1.3M937.5 295.5h1.3M954 302.5h1.3M962 316.5h1.3M963 321h1.3M939.5 282.5h1.3M869 318h1.3M933.5 252h1.3M947 305.5h1.3M890 298.5h1.3M957.5 292.5h1.3M909 280.5h1.3M854 317.5h1.3M908.5 241h1.3M898.5 297h1.3M926.5 258.5h1.3M902 240.5h1.3M906 230.5h1.3M940 284.5h1.3M900.5 294h1.3M962.5 319h1.3M926.5 239.5h1.3M891 297h1.3M906.5 250h1.3M930.5 258.5h1.3M898.5 278h1.3M909.5 270.5h1.3M915 254h1.3M937 284h1.3M938 295.5h1.3M885.5 288.5h1.3M926.5 262h1.3M919 254.5h1.3M934.5 271.5h1.3M931 257.5h1.3M898.5 290.5h1.3M907.5 282.5h1.3M933 237h1.3M876 272h1.3M906.5 272.5h1.3M964 299.5h1.3M872.5 312h1.3M903 256h1.3M942.5 295h1.3M891 299h1.3M956 290.5h1.3M906.5 265h1.3M950.5 307.5h1.3M888.5 304.5h1.3M871 282.5h1.3M938 273.5h1.3M903.5 291h1.3M943.5 301.5h1.3M959.5 310h1.3M944.5 299.5h1.3M944 281h1.3M867 348h1.3M894 273h1.3M884 309.5h1.3M937 264h1.3M969 315.5h1.3M878.5 264.5h1.3M942.5 271.5h1.3M942.5 289.5h1.3M883.5 311h1.3M890.5 301.5h1.3M874 309h1.3M982 268h1.3M940 298.5h1.3M899 282.5h1.3M896 240.5h1.3M957 320.5h1.3M937.5 294h1.3M934.5 224.5h1.3M945 298.5h1.3M944 308h1.3M936.5 270h1.3M892.5 292h1.3M885.5 302h1.3M905.5 273.5h1.3M865 265h1.3M948 307.5h1.3M960.5 314h1.3M962.5 314.5h1.3M915 261h1.3M909.5 280.5h1.3M930 268h1.3M940.5 293h1.3M944 262h1.3M883 307h1.3M944.5 288h1.3M933.5 274.5h1.3M886 302h1.3M940.5 292.5h1.3M908 265h1.3M952.5 313.5h1.3M905.5 279h1.3M974 313h1.3M947 312.5h1.3M895.5 293.5h1.3M918.5 233h1.3M937 261.5h1.3M942 271h1.3M931 254h1.3M869.5 303.5h1.3M918.5 264.5h1.3M956.5 322h1.3M919.5 253h1.3M942.5 299.5h1.3M942.5 300h1.3M958 307h1.3M927.5 261.5h1.3M944 298h1.3M927 250.5h1.3M916.5 266h1.3M961.5 314h1.3M982.5 328h1.3M945.5 304.5h1.3M969.5 310.5h1.3M894.5 298.5h1.3M904.5 274.5h1.3M942 281.5h1.3M937 290.5h1.3M966 314h1.3M894 287.5h1.3M905 226h1.3M891.5 240.5h1.3M926 234h1.3M959 308.5h1.3M937 254.5h1.3M956.5 289h1.3M915.5 237.5h1.3M960 341h1.3M896 289h1.3M961 325h1.3M878.5 314h1.3M868.5 305.5h1.3M936.5 292.5h1.3M903.5 275h1.3M961 326.5h1.3M914.5 264h1.3M956 256h1.3M962.5 319.5h1.3M920 250.5h1.3M939 261.5h1.3M923 263.5h1.3M844 334.5h1.3M854 345.5h1.3M856.5 336h1.3M827 332h1.3M856.5 339h1.3M844.5 336h1.3M846 326.5h1.3M864 326.5h1.3M829.5 339h1.3M850 329h1.3M862 340.5h1.3M854.5 324.5h1.3M831 338.5h1.3M860.5 335.5h1.3M849 347.5h1.3M861 326.5h1.3M864.5 338h1.3M826 340.5h1.3M861 336.5h1.3M863.5 339.5h1.3M832.5 339.5h1.3M844.5 328.5h1.3M836.5 343.5h1.3M842 331.5h1.3M867.5 341.5h1.3M828.5 341.5h1.3M854.5 352h1.3M839 342h1.3M860 344.5h1.3M851 341.5h1.3M850.5 349h1.3M819 344.5h1.3M850 338h1.3M860 337h1.3M854 340.5h1.3M860.5 325h1.3M835.5 338h1.3M866 334.5h1.3M829 330h1.3M835 334h1.3M833.5 336.5h1.3M853.5 341.5h1.3M820 342h1.3M850 336h1.3M856.5 333h1.3M832.5 338.5h1.3M866.5 337.5h1.3M855.5 349.5h1.3M846.5 340h1.3M862 317.5h1.3M841.5 339.5h1.3M840.5 344.5h1.3M859 327h1.3M818.5 337h1.3M854.5 341h1.3M868 332h1.3M853 344h1.3M849 339h1.3M845.5 344.5h1.3M844.5 328h1.3M845.5 341h1.3M854.5 348.5h1.3M907.5 265.5h1.3M938.5 173.5h1.3M938 218h1.3M951 186.5h1.3M902 163h1.3M913.5 228h1.3M935 215h1.3M924 250h1.3M915.5 228h1.3M929 216.5h1.3M938 246.5h1.3M942.5 254h1.3M929 241h1.3M924 261.5h1.3M901.5 238.5h1.3M932.5 217h1.3M952 257h1.3M926.5 189.5h1.3M931 253.5h1.3M927 192h1.3M951 200h1.3M920 228.5h1.3M940 276h1.3M937.5 220.5h1.3M910.5 248h1.3M904.5 174h1.3M925 232h1.3M920.5 191h1.3M932 218.5h1.3M910 202.5h1.3M942.5 207h1.3M909.5 226h1.3M945 184.5h1.3M918 183.5h1.3M905.5 268.5h1.3M948.5 217.5h1.3M918 240h1.3M918 171.5h1.3M920 238h1.3M925 216.5h1.3M917.5 264h1.3M936 207.5h1.3M934.5 211h1.3M933.5 188.5h1.3M898.5 218.5h1.3M940 260.5h1.3M919.5 208h1.3M919 210h1.3M937.5 241h1.3M894 209h1.3M922 242h1.3M933 204.5h1.3M909.5 218.5h1.3M948.5 211.5h1.3M947 147h1.3M946.5 147h1.3M945 113h1.3M951 132h1.3M953 146h1.3M949.5 119h1.3M951.5 157h1.3M947 152h1.3M951 150h1.3M943 184h1.3M831 325.5h1.3M1049.5 270h1.3M1037 334.5h1.3M1014.5 265.5h1.3M1000.5 309.5h1.3M938.5 236.5h1.3M1001 249h1.3M1069.5 306.5h1.3M1063.5 321.5h1.3" fill="none" stroke="#2e2e2e" stroke-width="1.3"/>
<path d="M917 269.2L917 269.2L920.3 266.4L923.1 265.7L923.7 265.8L926.8 267.6L928.5 269.8L929.4 271.3L931.4 276.1L932.2 278.4L933 281.1L934.2 285.7L934.5 286.9L935.3 289.8L936.2 293.4L936.3 293.7L937 296.5L937.8 299L937.9 299.2L938.7 301.5L939.4 303L939.6 303.5L940.6 305.3L941.2 306.2L943.1 308.9L945 311.5L946.9 314.1L948.8 316.6L951 319.1L953.3 321.8L955.4 324.7L956.9 328L957.7 331.4L958 335L957.8 338.6L957.1 342.1L955.6 345.4L953.6 348.3L951.2 350.9L948.7 353.3L946.2 355.4L943.5 357.3L940.6 358.7L937.7 359.7L934.9 360.6L932.3 361.4L929.7 362.3L927.1 362.9L924.6 363.2L922 363.5L919.5 363.7L917 363.9L914.5 364L911.9 363.7L909.5 363.1L906.9 362.6L904.3 362.3L901.4 361.9L898.5 361.4L895.6 360.5L892.5 359.5L889.2 358.3L885.7 356.9L882.2 355.1L878.8 352.8L875.8 350L873 346.8L870.7 343.2L869 339.2L868.5 335L869.2 330.8L870.9 326.9L873.2 323.3L875.9 320L878.8 317.2L882 314.8L885.1 312.7L888 310.7L890.6 308.6L893 306.3L895.3 304L897.6 301.5L898.8 300.1L900 298.6L900.2 298.5L901.5 296.6L902.4 295L902.8 294.4L904.2 291.8L905 290.3L905.7 288.9L907.4 285.5L908 284.2L909.3 281.7L911.5 277.6L911.9 276.8L914 273.2ZM917 287.5L917.1 287.4L919.4 285.7L921.6 285.1L921.8 285.1L924.1 286L925.7 287.7L926.1 288.2L927.8 291L928.7 293.1L929.1 294.1L930.3 296.9L930.9 298.3L931.3 299.5L932.3 301.8L932.7 302.6L933.2 303.8L934.1 305.7L934.4 306.1L935 307.3L935.8 308.9L935.9 309.1L936.6 310.4L937.4 311.8L939.1 314L941.1 315.9L943.2 317.8L945.4 319.8L947.3 322.2L948.9 324.7L950.4 327.5L951.7 330.4L952.5 333.5L952.6 336.7L952 339.9L950.9 342.9L949.4 345.6L947.5 348.1L945.2 350.3L942.6 352L940.1 353.5L937.8 355L935.7 356.5L933.5 357.8L931.1 358.8L928.6 359.4L926.2 359.8L923.8 360.1L921.5 360.3L919.2 360.2L916.9 360L914.7 359.8L912.4 359.7L910.1 359.6L907.8 359.2L905.6 358.5L903.3 357.9L900.7 357.3L897.8 356.8L894.7 356.2L891.6 355.2L888.4 353.7L885.4 351.9L882.4 349.7L879.7 347L877.6 343.9L876.3 340.4L875.5 336.7L875.4 333L876 329.3L877.5 325.9L879.9 322.8L882.8 320.3L885.9 318.1L888.8 316.2L891.4 314.5L894 312.9L896.4 311.3L898.6 309.5L900.7 307.6L902 306.2L902.8 305.3L903.2 305L904.4 303.7L905.1 303L905.6 302.4L906.9 301L907.5 300.3L908.3 299.4L909.7 297.5L910.2 296.8L911.2 295.3L912.9 292.8L913.3 292.3L914.8 290.1ZM917 295.3L919 294.2L920.8 294L920.9 294L922.8 294.8L924.5 296.4L924.5 296.4L925.9 298.5L927.2 300.7L927.2 300.9L928.2 302.9L929.2 304.9L929.3 305.1L930.1 306.7L930.9 308.3L931.1 308.6L931.7 309.7L932.6 311L932.8 311.3L933.5 312.1L934.4 313.2L934.7 313.5L936.6 315.5L938.5 317.6L940.4 319.6L942.5 321.7L944.8 323.8L946.9 326.3L948.3 329.2L949.1 332.3L949.2 335.5L948.6 338.7L947.3 341.7L945.5 344.3L943.5 346.7L941.6 348.9L939.7 351L937.6 352.9L935.2 354.3L932.7 355.4L930.3 356.3L927.9 357.1L925.4 357.5L923 357.7L920.6 357.8L918.3 357.9L916.1 357.8L913.8 357.4L911.6 356.9L909.4 356.5L906.9 356.4L904.2 356.3L901.5 355.8L898.7 355L895.9 354L892.9 352.6L890 350.9L887.3 348.7L884.6 346.2L882.1 343.3L880 340L878.8 336.3L879 332.5L880.2 328.8L882.2 325.5L884.7 322.6L887.6 320.2L890.6 318.3L893.6 316.7L896.3 315.2L898.8 313.7L901.2 312.3L903.5 310.7L904.1 310.2L905.2 309.3L905.7 308.8L906.2 308.2L907.2 306.9L907.8 306.1L908.3 305.5L909.4 304L910.2 302.9L910.6 302.3L912 300.5L913.1 299.2L913.5 298.7L915.2 296.9L916.7 295.5ZM917 301.4L917.6 301L918.7 300.5L920.3 300.3L921.3 300.5L922 300.8L923.4 301.9L924.6 303.2L924.7 303.4L925.9 305L926.9 306.6L927 306.8L927.8 308.2L928.7 309.6L929 310.2L929.5 311L930.2 312.3L930.7 313L931 313.4L931.8 314.4L932.6 315.2L932.7 315.3L934.6 317L936.7 318.8L938.7 320.8L940.6 323L942.6 325.3L944.4 327.9L945.6 330.8L946.3 333.9L946.4 337.1L946 340.2L944.5 343.1L942.3 345.6L939.9 347.6L937.7 349.5L935.5 351.2L933.2 352.6L930.8 353.7L928.4 354.7L926 355.4L923.6 355.7L921.2 355.8L918.9 355.9L916.7 356.2L914.3 356.3L912.1 355.9L909.8 355.2L907.5 354.6L905.1 354.1L902.4 353.5L899.6 352.8L896.5 351.9L893.2 350.6L890.1 348.7L887.5 346.2L885.3 343.3L883.3 340L882.1 336.3L882.1 332.5L883.5 328.9L885.6 325.7L888.4 323.1L891.4 320.9L894.5 319.2L897.2 317.6L899.5 315.9L901.6 314.1L903.9 312.5L905 311.9L906 311.2L906.4 311L907.1 310.5L908.2 309.7L908.8 309.2L909.2 308.7L910.3 307.7L911.3 306.7L911.5 306.5L912.7 305.2L914 303.9L914.1 303.8L915.4 302.6ZM917 305.1L917.7 304.9L918.5 304.7L919.9 304.7L921.2 305.3L921.3 305.4L922.6 306.4L923.7 307.8L924 308.2L924.7 309.1L925.6 310.4L926.2 311.3L926.4 311.6L927.3 312.7L928 313.8L928.2 313.9L928.8 314.7L929.6 315.7L930 316.2L930.3 316.5L931 317.4L931.8 318.1L934 319.7L936.5 321.2L939 323L941.1 325.2L942.8 327.9L944 330.9L944.4 334L944.2 337.2L943.4 340.3L942.2 343.2L940.4 345.7L937.9 347.7L935.3 349.3L932.7 350.5L930.3 351.6L927.9 352.4L925.5 353L923.3 353.5L921 353.9L918.8 354.1L916.6 354.3L914.2 354.8L911.8 355.1L909.2 354.9L906.8 354.2L904.4 353.3L901.9 352.2L899.3 351L896.5 349.6L893.5 347.9L890.5 345.7L887.9 343L886.2 339.7L885.3 336.1L885.3 332.4L886.4 328.9L888.7 325.8L891.5 323.3L894.5 321.3L897.3 319.6L899.9 318.1L902.1 316.4L904.1 314.3L905.5 312.9L906.2 312.3L906.4 312.1L907.4 311.3L908.5 310.6L908.7 310.4L909.6 309.9L910.7 309.2L911.4 308.7L911.8 308.4L913 307.6L914.3 306.8L914.3 306.7L915.6 305.9ZM917 307.9L918.3 307.3L919.5 307.2L919.7 307.2L921 307.7L922.1 308.6L922.7 309.1L923.2 309.7L924.1 310.9L925 312.1L925.1 312.2L925.9 313.1L926.7 314L927.3 314.6L927.5 314.9L928.3 315.7L929 316.6L929.2 316.9L929.7 317.4L930.3 318.2L931 319L933 320.8L935.3 322.4L937.6 324.4L939.6 326.8L941.5 329.4L942.9 332.4L942.9 335.7L941.8 338.8L940.3 341.7L938.4 344.1L936 346.1L933.6 347.7L931.5 349.4L929.4 350.9L927.1 351.9L924.7 352.6L922.4 353.3L920 353.7L917.7 353.6L915.4 353.2L913 353.1L910.7 352.7L908.4 352L905.9 351.5L903 351L900.1 350.1L897.4 348.5L894.5 346.6L891.6 344.2L889.4 341.3L888 337.9L887.3 334.2L887.7 330.5L889.6 327.1L892.3 324.4L895.1 322.1L897.8 320.2L900.7 318.8L903.4 317.6L905.8 316.2L906.8 315.5L907.7 314.9L908.1 314.7L908.6 314.3L909.6 313.8L910.5 313.2L910.6 313.2L911.5 312.5L912.5 311.8L913.1 311.2L913.5 310.9L914.6 309.9L915.7 308.8L916.1 308.6ZM917 310.1L918.2 309.8L919.4 309.8L919.4 309.8L920.6 310.2L921.7 311L922.5 311.7L922.6 311.9L923.5 313L924.3 314L924.8 314.6L925.1 314.9L925.8 315.8L926.6 316.6L926.9 316.8L927.4 317.2L928.1 317.9L928.9 318.5L929 318.6L929.6 319.2L930.8 320.7L932.4 322.8L934.4 324.6L936.8 326.5L938.8 328.9L940.1 331.8L940.9 334.9L940.7 338.1L939.4 341L937.9 343.8L936 346.2L933.4 347.8L930.5 348.8L927.9 349.6L925.5 350.4L923.2 350.9L921 351.4L918.8 352L916.5 352L914.3 351.6L912 351.4L909.4 351.5L906.9 350.9L904.4 350L901.5 349.1L898.5 347.8L895.6 345.9L892.5 343.6L889.9 340.6L888.9 337L889.5 333.3L891 329.8L893.2 326.8L896 324.5L898.8 322.6L901.2 320.8L903.6 319.3L905.9 317.8L907.4 316.6L908.1 315.9L908.2 315.8L908.9 315.1L909.8 314.3L910.3 313.8L910.6 313.5L911.6 312.8L912.6 312.2L913 312L913.6 311.7L914.7 311.2L915.8 310.6L916.1 310.5ZM918.3 315.8L920.9 316.5L923.5 317.3L925.8 318.7L927.5 320.9L929.3 322.6L931.6 324L933.8 325.8L935.9 327.9L938 330.4L938.9 333.4L938.7 336.5L938.5 339.6L937.4 342.5L935 344.7L932.4 346.4L929.9 347.8L927.3 348.7L924.9 349.4L922.8 350.3L920.5 350.6L918.1 350.3L916 350.4L913.6 350.7L911.3 350.4L908.9 350L906.2 349.5L903.6 348.5L900.8 347.2L897.4 345.8L894.2 343.6L892.4 340.4L891.4 336.9L891.3 333.3L892.9 329.8L895.3 327L897.9 324.7L900.9 323L903.8 321.9L905.9 320.2L907.8 318.3L910.3 317.1L912.8 316.2L915.5 315.5ZM917.8 316.9L920.5 317.3L923 318.6L925.2 320.1L927.1 321.8L928.8 323.8L930.9 325.3L933.5 326.9L935.6 329.2L937.2 332L937.9 335.1L937.3 338.2L936 341.1L934.2 343.6L931.7 345.4L929 346.7L926.7 347.8L924.4 348.7L922 349.2L919.8 349.7L917.5 349.6L915.3 349.2L913 349.3L910.5 349.3L908 348.8L905.3 348.1L902.3 347L899.4 345.4L896.5 343.2L894.1 340.3L893.2 336.7L893.5 333.1L894.7 329.7L897.1 326.9L900 324.8L902.7 323.1L905.4 321.9L907.8 320.6L909.9 318.9L912.3 317.6L915 317.1ZM918.5 319L921.1 319.5L923.6 320.3L925.8 321.8L928 323.3L930.1 325L932 327.1L934.4 329.2L936.1 332L936.2 335.2L935.5 338.3L933.9 341L931.7 343.1L929.7 345L927.2 346.3L924.7 347.1L922.7 348.3L920.4 349.1L918.1 349.3L915.7 349.3L913.4 348.7L911.2 348L908.5 347.7L906 346.7L903.4 345.4L900.2 343.9L897.4 341.5L895.2 338.4L894.2 334.8L895.4 331.2L897.6 328.1L900 325.6L903 323.9L905.8 322.6L908.2 321.3L910.8 320.4L913.2 319.3L915.8 318.5ZM918.6 319L921.2 320.3L923.3 322.1L925.4 323.6L927.4 325.3L929.5 326.9L931.8 328.8L933.9 331.3L935.5 334.3L935.2 337.6L933.3 340.5L931.1 342.7L928.7 344.5L926.3 345.9L923.8 346.7L921.3 346.9L919.2 347.5L916.9 347.8L914.6 347.5L912.3 347.3L909.7 346.9L906.7 346.6L903.6 345.5L901 343.4L898.6 340.8L896.7 337.6L896.4 333.9L897.8 330.4L900.6 327.8L903.2 325.7L905.6 323.9L908.1 322.6L910.6 321.4L913.1 320.2L915.7 319.3ZM917.9 320.6L920.4 321.8L922.7 322.9L924.8 324.4L926.8 325.9L928.9 327.6L931.3 329.5L933.3 332.1L933.5 335.2L932.7 338.2L931.4 341L929.4 343.2L927 344.7L924.1 345.2L921.8 345.9L919.6 346.5L917.4 346.5L915.2 346.7L912.8 346.6L910.1 346.5L907.5 345.7L905.2 344L902.2 342.4L899.4 339.9L897.6 336.6L898 332.9L900.2 329.8L902.6 327.3L905.5 325.7L908.1 324.5L910.2 322.8L912.5 321.3L915.1 320.1ZM917.2 321.7L920 321.9L922.2 323.8L924.2 325.5L926.1 327.1L928.4 328.7L930.9 330.7L932.3 333.7L932.6 336.9L930.6 339.7L928.3 341.8L926 343.4L923.8 344.7L921.5 345.5L919.1 345.6L916.8 345.9L914.6 345.4L912.2 345.4L909.5 345L906.4 344.2L903.5 342.5L901.5 339.8L899.7 336.5L900 332.9L901.5 329.7L904.5 327.5L907.1 325.7L909.6 324.4L912.1 323.5L914.5 322.1ZM917.3 322.8L920 323.8L922.3 325.1L924.3 326.7L926.5 328.3L928.7 330.3L931 332.9L931 336.2L929.3 339L927.1 341.2L924.9 342.9L922.5 343.8L920.2 344.7L917.9 345.1L915.6 344.9L913.3 344.4L910.6 344.2L907.7 343.4L905.1 341.5L902.5 338.9L901 335.5L901.8 331.9L904.2 329.1L906.7 326.9L909.6 325.7L912.2 324.7L914.6 323.6ZM917.1 324L919.8 324.9L922.2 326.1L924.3 327.8L926.4 329.7L928.3 332.1L929.1 335.1L928.3 338.2L926.8 340.8L924.3 342.5L921.6 343.2L919.2 343.7L916.9 343.8L914.6 343.6L912.2 343.2L909.4 342.4L906.5 340.9L903.2 338.5L902.1 334.9L903.8 331.3L906.9 329L909.7 327.5L912 326.1L914.3 324.6ZM917.5 325.6L920.1 326.4L922.3 328L924.5 329.6L926.5 331.8L928.1 334.8L927.4 338L924.9 340.1L922.5 341.6L920.1 342.3L917.8 342.9L915.4 343L913.1 342.2L910.2 341.6L907.1 340.1L904.8 337.1L904.5 333.4L907 330.5L909.6 328.5L912.1 326.9L914.8 326.1ZM917.1 327.1L919.6 328.1L921.9 329.2L924.3 330.9L926.4 333.5L925.8 336.7L924.2 339.3L921.5 340.5L919.2 341.3L916.9 341.8L914.4 341.8L911.9 340.9L909.4 339.3L906.5 336.7L906.7 333.1L909.1 330.3L911.9 328.8L914.3 327.3ZM917.6 328.7L920.1 329.5L922.1 331.2L924.1 333.4L924.1 336.4L922.4 338.8L919.9 339.8L917.6 340.4L915.4 340.3L913 339.6L909.9 338.3L908 335.1L909.8 331.9L912.7 330.4L914.9 329ZM917.1 330.4L918.9 331.3L920.4 332.4L922 334L922 336.3L920.3 337.8L918.6 338.4L916.9 338.8L915.2 338.5L913 338L911.2 336.2L911.5 333.6L913.3 331.9L915.2 331Z" fill="none" stroke="#3a3a3a" stroke-width="0.85" stroke-linejoin="round"/>
<rect x="817" y="81.75" width="348.5" height="347.5" fill="none" stroke="#8c8c8c" stroke-width="1.3"/>
<line x1="985.7" y1="81.25" x2="985.7" y2="429.25" stroke-width="2.2" stroke="#000"/>
<line x1="817" y1="296.5" x2="1166.5" y2="296.5" stroke-width="2" stroke="#000"/>
<text transform="translate(822.5 110)" font-size="16.3">Q3</text>
<text transform="translate(822.5 131.8)" font-size="16.3">8.28</text>
<text transform="translate(822.5 390)" font-size="16.3">Q4</text>
<text transform="translate(822.5 411.8)" font-size="16.3">91.6</text>
<text transform="translate(1135.2 110)" font-size="16.3" text-anchor="end">Q2</text>
<text transform="translate(1135.2 131.8)" font-size="16.3" text-anchor="end">0.030</text>
<text transform="translate(1135.2 390)" font-size="16.3" text-anchor="end">Q1</text>
<text transform="translate(1135.2 411.8)" font-size="16.3" text-anchor="end">0.050</text>
<path d="M817.5 429.2v10M902 429.2v10M985.9 429.2v10M1071.3 429.2v10M1155.9 429.2v10" fill="none" stroke="#000" stroke-width="2.5"/>
<path d="M876.6 429.2v7M960.6 429.2v7M1045.6 429.2v7M1130.4 429.2v7M842.9 429.2v4.5M857.8 429.2v4.5M868.4 429.2v4.5M883.3 429.2v4.5M888.9 429.2v4.5M893.8 429.2v4.5M898.1 429.2v4.5M927.3 429.2v4.5M942 429.2v4.5M952.5 429.2v4.5M967.3 429.2v4.5M972.9 429.2v4.5M977.8 429.2v4.5M982.1 429.2v4.5M1011.6 429.2v4.5M1026.6 429.2v4.5M1037.3 429.2v4.5M1052.4 429.2v4.5M1058.1 429.2v4.5M1063 429.2v4.5M1067.4 429.2v4.5M1096.8 429.2v4.5M1111.7 429.2v4.5M1122.2 429.2v4.5M1137.1 429.2v4.5M1142.8 429.2v4.5M1147.7 429.2v4.5M1152 429.2v4.5" fill="none" stroke="#000" stroke-width="1.35"/>
<text transform="translate(822.56 468.3)" font-size="13.2">10</text>
<text transform="translate(838.84 457.5)" font-size="13.2">2</text>
<text transform="translate(895.26 468.3)" font-size="13.2">10</text>
<text transform="translate(911.54 457.5)" font-size="13.2">3</text>
<text transform="translate(979.16 468.3)" font-size="13.2">10</text>
<text transform="translate(995.44 457.5)" font-size="13.2">4</text>
<text transform="translate(1065.36 468.3)" font-size="13.2">10</text>
<text transform="translate(1081.64 457.5)" font-size="13.2">5</text>
<text transform="translate(1139.96 468.3)" font-size="13.2">10</text>
<text transform="translate(1156.24 457.5)" font-size="13.2">6</text>
<path d="M1211 338h1.3M1317.5 317h1.3M1279 250h1.3M1323.5 325h1.3M1243.5 295h1.3M1258.5 379h1.3M1237.5 304h1.3M1211 334.5h1.3M1297.5 382h1.3M1302 274h1.3M1254.5 384.5h1.3M1237 372.5h1.3M1316 314.5h1.3M1304.5 302h1.3M1265.5 380h1.3M1299.5 280.5h1.3M1335 334h1.3M1247 299h1.3M1308.5 371.5h1.3M1210 351.5h1.3M1228.5 365h1.3M1294.5 383.5h1.3M1261.5 265h1.3M1265 259.5h1.3M1204 365.5h1.3M1247 379.5h1.3M1181 316.5h1.3M1213 324.5h1.3M1335 332.5h1.3M1326.5 344.5h1.3M1306 371.5h1.3M1233.5 372.5h1.3M1214.5 353h1.3M1210 340.5h1.3M1216 330h1.3M1280.5 256h1.3M1301 290h1.3M1222 320.5h1.3M1258 265.5h1.3M1297.5 282h1.3M1290.5 238h1.3M1238 308h1.3M1247 296h1.3M1318.5 362.5h1.3M1255.5 279.5h1.3M1297 377h1.3M1304 295.5h1.3M1292.5 383h1.3M1262 380.5h1.3M1283.5 255.5h1.3M1199.5 347.5h1.3M1294 377.5h1.3M1334 354h1.3M1341 339.5h1.3M1203 319.5h1.3M1218 354h1.3M1301.5 287.5h1.3M1218.5 318.5h1.3M1308 307h1.3M1307.5 299h1.3M1268 249.5h1.3M1227.5 365.5h1.3M1248 291.5h1.3M1271 381.5h1.3M1281.5 385h1.3M1251.5 286.5h1.3M1298 288.5h1.3M1217.5 327h1.3M1324.5 323.5h1.3M1211 383.5h1.3M1273.5 381h1.3M1250.5 378.5h1.3M1232.5 309.5h1.3M1273 385h1.3M1263.5 380h1.3M1226 306h1.3M1265 262.5h1.3M1302 375h1.3M1252 384h1.3M1298 275.5h1.3M1247 289h1.3M1295.5 382.5h1.3M1300.5 294.5h1.3M1326.5 365.5h1.3M1236.5 371.5h1.3M1286 385.5h1.3M1235.5 300h1.3M1343 345h1.3M1225 366.5h1.3M1214 362h1.3M1271.5 381h1.3M1218 350.5h1.3M1268.5 380h1.3M1239 385.5h1.3M1272 253h1.3M1233.5 370h1.3M1228 369h1.3M1234 308h1.3M1254 390h1.3M1291.5 268.5h1.3M1327.5 338h1.3M1297 382h1.3M1317.5 307h1.3M1252 381h1.3M1244 400h1.3M1257 265h1.3M1249 383.5h1.3M1314 306.5h1.3M1271.5 385.5h1.3M1249.5 292h1.3M1249.5 281h1.3M1262 380h1.3M1256 281h1.3M1204 343h1.3M1234.5 311.5h1.3M1303 385.5h1.3M1309 303.5h1.3M1307 294.5h1.3M1226.5 365.5h1.3M1256.5 265.5h1.3M1327.5 323.5h1.3M1330 349h1.3M1218 327h1.3M1264 384h1.3M1228.5 383.5h1.3M1234.5 309.5h1.3M1238.5 308h1.3M1266.5 261.5h1.3M1285 382.5h1.3M1283.5 251h1.3M1334.5 341.5h1.3M1285 236h1.3M1266.5 263.5h1.3M1263 266.5h1.3M1241 306h1.3M1213.5 301.5h1.3M1304 263h1.3M1264 257.5h1.3M1250.5 295.5h1.3M1319 311h1.3M1299 275h1.3M1255.5 286.5h1.3M1231.5 313h1.3M1301.5 271.5h1.3M1294.5 228h1.3M1341 323.5h1.3M1308.5 243.5h1.3M1321 298h1.3M1251.5 284.5h1.3M1229 313h1.3M1238.5 303.5h1.3M1283.5 221h1.3M1272 232.5h1.3M1306.5 279h1.3M1307 260.5h1.3M1233 282h1.3M1300.5 281h1.3M1265.5 229.5h1.3M1297.5 242.5h1.3M1228.5 302h1.3M1248 297.5h1.3M1244 285h1.3M1218.5 267h1.3M1239 293.5h1.3M1226.5 280h1.3M1355.5 255.5h1.3M1249 298h1.3M1238 218h1.3M1292 261h1.3M1247.5 279h1.3M1229 293h1.3M1193.5 304.5h1.3M1298 280h1.3M1274 252h1.3M1237 307h1.3M1237 256h1.3M1310 298h1.3M1255 211h1.3M1353 319h1.3M1297.5 259.5h1.3M1247.5 276.5h1.3M1277 220h1.3M1269 261h1.3M1288 198.5h1.3M1290.5 240h1.3M1298.5 260h1.3M1260.5 247.5h1.3M1272.5 245h1.3M1242.5 296.5h1.3M1301 288h1.3M1230 308.5h1.3M1327 339h1.3M1342.5 281.5h1.3M1256.5 277.5h1.3M1329.5 306.5h1.3M1314 294h1.3M1201.5 327h1.3M1256 232h1.3M1313.5 308h1.3M1260 269.5h1.3M1228 268.5h1.3M1319.5 305h1.3M1256.5 277h1.3M1209.5 291.5h1.3M1248 274.5h1.3M1295.5 282.5h1.3M1260.5 266.5h1.3M1315 312.5h1.3M1253.5 263.5h1.3M1237 308.5h1.3M1300 260h1.3M1313 310.5h1.3M1309.5 294.5h1.3M1269 242.5h1.3M1207.5 315.5h1.3M1287 262h1.3M1297 288.5h1.3M1307.5 289.5h1.3M1280 248h1.3M1267.5 258h1.3M1242 290h1.3M1303 298h1.3M1298 257.5h1.3M1320.5 315h1.3M1284 236.5h1.3M1244 291.5h1.3M1237 268h1.3M1223.5 298h1.3M1235 300.5h1.3M1248.5 295h1.3M1308 266.5h1.3M1323 315.5h1.3M1212.5 282.5h1.3M1238.5 304.5h1.3M1190.5 332.5h1.3M1294.5 256.5h1.3M1325 306.5h1.3M1292.5 260.5h1.3M1335 323h1.3M1254 268h1.3M1307 225.5h1.3M1306 275.5h1.3M1296.5 277.5h1.3M1301 281.5h1.3M1332.5 280h1.3M1255.5 276.5h1.3M1241 284.5h1.3M1242.5 302h1.3M1271 239h1.3M1189.5 336.5h1.3M1257 273h1.3M1258.5 251h1.3M1271.5 240.5h1.3M1234.5 302.5h1.3M1329.5 354.5h1.3M1276.5 247.5h1.3M1262.5 269h1.3M1302.5 258.5h1.3M1261.5 268h1.3M1243 303.5h1.3M1245 262.5h1.3M1241.5 291.5h1.3M1305.5 277.5h1.3M1265 214.5h1.3M1300.5 290.5h1.3M1270 212.5h1.3M1239 236h1.3M1331 258.5h1.3M1265.5 219h1.3M1261.5 265.5h1.3M1299.5 283.5h1.3M1307 250.5h1.3M1308.5 286h1.3M1257.5 273h1.3M1260.5 255.5h1.3M1304 291h1.3M1261 259h1.3M1332 286.5h1.3M1246.5 278.5h1.3M1222.5 315h1.3M1302.5 288h1.3M1302.5 277h1.3M1238.5 285.5h1.3M1317 286h1.3M1292.5 269.5h1.3M1259.5 244.5h1.3M1304 221.5h1.3M1300 281.5h1.3M1296.5 282h1.3M1250 293.5h1.3M1296.5 285.5h1.3M1255.5 278h1.3M1227 286h1.3M1280 247h1.3M1262.5 270.5h1.3M1276.5 217h1.3M1299.5 236h1.3M1242 286.5h1.3M1308 305.5h1.3M1307 279.5h1.3M1262.5 230h1.3M1306.5 257.5h1.3M1281 254.5h1.3M1264 267.5h1.3M1339.5 315h1.3M1316 288h1.3M1271.5 255.5h1.3M1241.5 270h1.3M1198.5 303h1.3M1244 274.5h1.3M1297 272.5h1.3M1289.5 258h1.3M1247 298.5h1.3M1258.5 272h1.3M1303.5 294.5h1.3M1242 285h1.3M1240 279h1.3M1246 296h1.3M1272.5 254h1.3M1299.5 274.5h1.3M1300 284.5h1.3M1204.5 312.5h1.3M1328.5 326.5h1.3M1294 275h1.3M1236.5 300h1.3M1244 299h1.3M1239.5 283.5h1.3M1194 329h1.3M1193.5 333.5h1.3M1191.5 325.5h1.3M1203.5 334.5h1.3M1197 329h1.3M1210 329.5h1.3M1200.5 353h1.3M1203.5 319h1.3M1184.5 327.5h1.3M1215 333h1.3M1198.5 327h1.3M1196.5 333.5h1.3M1195.5 339.5h1.3M1202 333h1.3M1182.5 348.5h1.3M1196 340.5h1.3M1187 331.5h1.3M1180.5 343h1.3M1206.5 347h1.3M1203 328h1.3M1187 338h1.3M1198 323.5h1.3M1207.5 335h1.3M1211 333h1.3M1186.5 320.5h1.3M1188.5 336.5h1.3M1210 339h1.3M1211.5 341.5h1.3M1194.5 337h1.3M1189.5 351h1.3M1199.5 344h1.3M1192.5 334.5h1.3M1211.5 349.5h1.3M1195.5 331h1.3M1183 351.5h1.3M1216 332h1.3M1196 337h1.3M1201 342h1.3M1201 327h1.3M1204.5 345h1.3M1205.5 333h1.3M1201 346h1.3M1208.5 331h1.3M1271 224h1.3M1288 223.5h1.3M1299 203.5h1.3M1286 184.5h1.3M1289 207h1.3M1324.5 299h1.3M1294 235.5h1.3M1327 264h1.3M1264.5 265h1.3M1326.5 256.5h1.3M1316.5 213.5h1.3M1293 192.5h1.3M1292 182h1.3M1318.5 218h1.3M1291 240h1.3M1261.5 225h1.3M1265 249h1.3M1255.5 178h1.3M1294.5 240h1.3M1268 223h1.3M1282 210.5h1.3M1277.5 172h1.3M1297 256.5h1.3M1293 203.5h1.3M1251 226.5h1.3M1270.5 219.5h1.3M1276.5 256h1.3M1257.5 206h1.3M1302 246h1.3M1250.5 256.5h1.3M1312.5 227.5h1.3M1282.5 235.5h1.3M1226.5 219.5h1.3M1307.5 195h1.3M1289 187.5h1.3M1319.5 190h1.3M1305 258h1.3M1285 245.5h1.3M1265.5 158h1.3M1296 172h1.3M1299.5 228h1.3M1289.5 199.5h1.3M1341 194h1.3M1342.5 236h1.3M1281 189.5h1.3M1258 231h1.3M1308.5 221h1.3M1311.5 224h1.3M1289.5 192.5h1.3M1255.5 195.5h1.3M1282.5 242.5h1.3M1313.5 250.5h1.3M1279 192.5h1.3M1328 240.5h1.3M1254.5 237h1.3M1315 199.5h1.3M1218 229h1.3M1308.5 256.5h1.3M1321.5 241h1.3M1291 226.5h1.3M1280.5 148h1.3M1294.5 180.5h1.3M1297 224.5h1.3M1320 189h1.3M1284 212h1.3M1223 244h1.3M1297 229h1.3M1293 211h1.3M1269 222h1.3M1259.5 195h1.3M1254 244.5h1.3M1304.5 248h1.3M1304.5 211.5h1.3M1265.5 235.5h1.3M1323.5 239h1.3M1303.5 242h1.3M1252.5 184h1.3M1323 235h1.3M1281 181.5h1.3M1278.5 197h1.3M1280 216h1.3M1277 238.5h1.3M1298.5 220h1.3M1306 141.5h1.3M1289.5 218h1.3M1296.5 267h1.3M1257.5 234.5h1.3M1294 213.5h1.3M1293.5 182h1.3M1298 246.5h1.3M1310 279.5h1.3M1248.5 210h1.3M1306 200h1.3M1268.5 240.5h1.3M1336 245.5h1.3M1291.5 220.5h1.3M1295.5 253h1.3M1250 268.5h1.3M1268.5 235.5h1.3M1265.5 234.5h1.3M1304 192.5h1.3M1270 240h1.3M1287.5 236.5h1.3M1318 238h1.3M1333 182h1.3M1290 228.5h1.3M1294 193h1.3M1270.5 231h1.3M1292.5 224h1.3M1285 251.5h1.3M1283 222h1.3M1283 237h1.3M1284.5 205.5h1.3M1292 249.5h1.3M1285.5 221.5h1.3M1296.5 219h1.3M1296.5 231.5h1.3M1314 228.5h1.3M1285.5 167h1.3M1287.5 258.5h1.3M1269.5 174.5h1.3M1284 213.5h1.3M1438.5 210.5h1.3M1401 213h1.3M1391.5 184.5h1.3M1494.5 169h1.3M1483 189h1.3M1421 238.5h1.3M1443.5 158.5h1.3M1359.5 241.5h1.3M1418 130h1.3M1454 171.5h1.3M1431 217.5h1.3M1419.5 187h1.3M1388.5 255.5h1.3M1456.5 189.5h1.3M1434 115h1.3M1472.5 133.5h1.3M1466.5 146.5h1.3M1426 213h1.3M1440 155h1.3M1455 182.5h1.3M1483.5 186h1.3M1403.5 182.5h1.3M1421 203h1.3M1404 221h1.3M1413.5 158h1.3M1471 187.5h1.3M1409.5 198.5h1.3M1411.5 236.5h1.3M1421 174.5h1.3M1401.5 183.5h1.3M1424.5 213.5h1.3M1460.5 159h1.3M1413 224h1.3M1510 189h1.3M1407 174h1.3M1485 157h1.3M1429 247.5h1.3M1452 212.5h1.3M1432.5 201.5h1.3M1426.5 222.5h1.3M1432 222.5h1.3M1429.5 219.5h1.3M1442.5 159h1.3M1459.5 235.5h1.3M1505 173h1.3M1440 160h1.3M1416.5 210.5h1.3M1473 174h1.3M1433 184h1.3M1452.5 201h1.3M1428.5 184h1.3M1416 248.5h1.3M1395 200.5h1.3M1470.5 163.5h1.3M1442 208h1.3M1457.5 208h1.3M1401 280h1.3M1441.5 191.5h1.3M1443 236.5h1.3M1413.5 133h1.3M1442.5 165.5h1.3M1429 192h1.3M1438 213.5h1.3M1490.5 145.5h1.3M1397 204h1.3M1483.5 193h1.3M1421.5 164h1.3M1499 178.5h1.3M1462.5 219h1.3M1437 216.5h1.3M1436.5 172.5h1.3M1417 208.5h1.3M1472 196.5h1.3M1448.5 134.5h1.3M1446.5 184h1.3M1456 143h1.3M1433 221h1.3M1427 199h1.3M1434 186h1.3M1444 210h1.3M1469 165h1.3M1441 145h1.3M1403 191.5h1.3M1414.5 243h1.3M1431.5 171h1.3M1444 215h1.3M1401 165.5h1.3M1444 203h1.3M1420.5 171.5h1.3M1431 213h1.3M1492 242.5h1.3M1462.5 165h1.3M1408.5 232.5h1.3M1430 146.5h1.3M1408 197.5h1.3M1473.5 172h1.3M1472.5 181.5h1.3M1400.5 177h1.3M1436.5 218.5h1.3M1456 178.5h1.3M1423.5 208.5h1.3M1443 193h1.3M1476 171h1.3M1465 188h1.3M1438 202h1.3M1495 202.5h1.3M1438 140.5h1.3M1408 159.5h1.3M1449.5 193h1.3M1452 128h1.3M1481 220h1.3M1457.5 181h1.3M1462 162.5h1.3M1458.5 231h1.3M1482 177h1.3M1445 151.5h1.3M1454.5 218.5h1.3M1419 213h1.3M1457 155h1.3M1465 207h1.3M1442 200.5h1.3M1425 270h1.3M1451 232h1.3M1433 220h1.3M1468 158h1.3M1455 131.5h1.3M1511.5 172h1.3M1427.5 218.5h1.3M1431 148.5h1.3M1418.5 181h1.3M1455 210.5h1.3M1431 180.5h1.3M1430 177h1.3M1474.5 157.5h1.3M1406.5 251.5h1.3M1439 190h1.3M1471 147.5h1.3M1438.5 213.5h1.3M1451 160.5h1.3M1415.5 207.5h1.3M1456.5 181h1.3M1447 130.5h1.3M1433 177.5h1.3M1408.5 277h1.3M1480.5 181.5h1.3M1418.5 214h1.3M1422 175h1.3M1446 193h1.3M1443.5 199.5h1.3M1443 164h1.3M1422 222h1.3M1433.5 193.5h1.3M1422.5 210.5h1.3M1452 113h1.3M1479 192.5h1.3M1402 192h1.3M1517 191.5h1.3M1434 214.5h1.3M1468 177h1.3M1439 205h1.3M1422 214.5h1.3M1450 186.5h1.3M1471.5 184.5h1.3M1460.5 122.5h1.3M1461 183h1.3M1503 203h1.3M1454.5 139.5h1.3M1514.5 145h1.3M1417 203h1.3M1434 186.5h1.3M1495 180h1.3M1471.5 191.5h1.3M1437.5 205.5h1.3M1392 179h1.3M1403.5 183.5h1.3M1470 204.5h1.3M1456.5 217.5h1.3M1424 184h1.3M1401 197.5h1.3M1416.5 167h1.3M1441 177.5h1.3M1444 175.5h1.3M1437.5 147.5h1.3M1458 165h1.3M1459.5 198.5h1.3M1427.5 230h1.3M1456 201.5h1.3M1461 168h1.3M1380.5 249h1.3M1445.5 227h1.3M1426.5 174.5h1.3M1488 183h1.3M1464.5 162h1.3M1516.5 166.5h1.3M1448.5 161.5h1.3M1398 205.5h1.3M1381 193.5h1.3M1479 184.5h1.3M1397.5 208h1.3M1416 208.5h1.3M1386 234.5h1.3M1439.5 197.5h1.3M1440 213.5h1.3M1428.5 158.5h1.3M1436 178h1.3M1430 222.5h1.3M1431 177h1.3M1451.5 169.5h1.3M1425 206h1.3M1467.5 159h1.3M1426.5 265.5h1.3M1414.5 206.5h1.3M1412 216h1.3M1412 182.5h1.3M1397.5 232.5h1.3M1492.5 169.5h1.3M1444 257h1.3M1447 169h1.3M1455 198h1.3M1463.5 120.5h1.3M1481.5 161h1.3M1447.5 249h1.3M1438 199h1.3M1422 183.5h1.3M1474 154.5h1.3M1451 158.5h1.3M1418 207.5h1.3M1409 191h1.3M1474.5 166h1.3M1418.5 137h1.3M1449.5 190.5h1.3M1446 206h1.3M1441 196h1.3M1426 198.5h1.3M1468.5 143.5h1.3M1479.5 188h1.3M1418 170.5h1.3M1485 162h1.3M1436 112.5h1.3M1423 179.5h1.3M1428.5 180h1.3M1435 186h1.3M1420 215h1.3M1414 230h1.3M1456.5 172h1.3M1434.5 173.5h1.3M1396.5 186h1.3M1421 183.5h1.3M1472.5 200h1.3M1434.5 195.5h1.3M1372 221.5h1.3M1440 141h1.3M1420 188.5h1.3M1484 128.5h1.3M1413.5 215h1.3M1453 200h1.3M1415 169h1.3M1400.5 190.5h1.3M1455 200h1.3M1437 205h1.3M1415.5 192.5h1.3M1471.5 157h1.3M1467.5 162.5h1.3M1414.5 199h1.3M1462.5 188.5h1.3M1408.5 183.5h1.3M1458.5 178.5h1.3M1436.5 180h1.3M1509 193.5h1.3M1433.5 235.5h1.3M1473 163h1.3M1453.5 211.5h1.3M1449.5 209h1.3M1446 197h1.3M1420.5 203h1.3M1430.5 206h1.3M1424.5 186.5h1.3M1465.5 124.5h1.3M1462.5 140h1.3M1427.5 192h1.3M1400.5 212h1.3M1427 147h1.3M1462 168h1.3M1458 187h1.3M1447.5 158h1.3M1471.5 183.5h1.3M1416 174.5h1.3M1471.5 167h1.3M1453.5 141h1.3M1461.5 152h1.3M1433.5 186h1.3M1442 192.5h1.3M1427 183.5h1.3M1442.5 171.5h1.3M1440.5 199.5h1.3M1429.5 251.5h1.3M1414.5 174h1.3M1450.5 167.5h1.3M1477 182h1.3M1467.5 160h1.3M1462.5 181.5h1.3M1445.5 181.5h1.3M1416 208h1.3M1460 189.5h1.3M1454.5 193h1.3M1421.5 214.5h1.3M1469 216.5h1.3M1417 236h1.3M1492 209.5h1.3M1437 193h1.3M1422 227.5h1.3M1395 172h1.3M1423 222h1.3M1463.5 183.5h1.3M1414.5 176h1.3M1480 200h1.3M1455.5 134h1.3M1396 228.5h1.3M1487 199h1.3M1431.5 173h1.3M1478.5 162.5h1.3M1448.5 165.5h1.3M1434 195h1.3M1415.5 255h1.3M1426 135.5h1.3M1493 173h1.3M1459 223h1.3M1461.5 158h1.3M1412.5 219h1.3M1470.5 174h1.3M1336.5 332h1.3M1366 364.5h1.3M1462 333.5h1.3M1438.5 353h1.3M1430 339.5h1.3M1366 320h1.3M1430.5 342h1.3M1460.5 319.5h1.3M1394.5 322h1.3M1336 334.5h1.3M1393 317h1.3M1410.5 350h1.3M1382 346.5h1.3M1410 338.5h1.3M1328 325.5h1.3M1364 327.5h1.3M1413.5 352h1.3M1445.5 341.5h1.3M1408 325h1.3M1401.5 313.5h1.3M1366.5 318h1.3M1370 331.5h1.3M1379.5 337.5h1.3M1347 297.5h1.3M1399.5 327.5h1.3M1374.5 312h1.3M1342.5 338h1.3M1371.5 342.5h1.3M1418.5 318h1.3M1375 324h1.3M1358.5 337.5h1.3M1413 326.5h1.3M1389.5 354h1.3M1322 419.5h1.3M1293.5 412h1.3M1300 415.5h1.3M1304 396h1.3M1323.5 413.5h1.3M1293.5 417.5h1.3M1294 407.5h1.3M1287 413.5h1.3M1290 411.5h1.3M1303.5 414h1.3" fill="none" stroke="#2e2e2e" stroke-width="1.3"/>
<path d="M1274.3 258.4L1278.5 257.6L1279 257.6L1283.5 259.2L1285.2 260.6L1287.3 263.4L1290.2 268.8L1290.4 269.3L1292.6 275.7L1293.4 278.5L1294.3 281.8L1295.7 287L1295.7 287.2L1297 291.7L1297.6 293.6L1298.2 295.5L1299.5 298.7L1299.5 298.8L1300.8 301.6L1301.5 302.9L1302.2 304L1303.7 306.2L1303.7 306.3L1306.3 309.1L1309.4 311.6L1312.9 314.2L1316.3 317L1319.3 320.4L1321.9 324.2L1324 328.3L1325.4 332.7L1325.9 337.3L1325.5 341.9L1324.3 346.4L1322.7 350.7L1320.7 354.7L1318.3 358.5L1315.5 361.9L1312.2 364.9L1308.8 367.4L1305.5 369.8L1302.1 372L1298.8 374L1295.2 375.6L1291.5 376.7L1287.8 377.5L1284.2 378.1L1280.6 378.6L1277 378.9L1273.5 378.9L1269.9 378.7L1266.4 378.6L1262.7 378.5L1259 378.1L1255.3 377.3L1251.7 376.1L1248.2 374.6L1244.5 373.1L1240.7 371.4L1236.9 369.3L1233.3 366.9L1229.9 363.9L1226.6 360.7L1223.6 357L1220.9 353L1219 348.6L1217.7 343.9L1217.1 339.1L1217 334.2L1218 329.5L1220.1 325L1223.2 321.1L1227 317.7L1230.9 314.9L1234.7 312.4L1238.1 310.1L1241.3 307.8L1244.3 305.3L1247 302.6L1247.3 302.1L1248.9 299.9L1249.4 299.2L1250.5 297.3L1251.8 295L1252.1 294.4L1253.7 291L1254.3 289.9L1255.6 287.3L1257.2 283.7L1257.6 283L1259.9 278L1260.8 276.2L1262.6 272.5L1265.4 267.6L1265.9 266.8L1269.9 261.7L1271.5 260.2ZM1273.2 284.4L1273.8 284.2L1277 283.9L1278.1 284.1L1280 284.8L1282.6 286.7L1282.8 286.9L1285.1 289.9L1286.1 291.5L1287 293.3L1288.7 296.6L1288.7 296.8L1290.1 299.7L1291 301.3L1291.5 302.3L1292.9 304.5L1293.1 304.8L1294.3 306.4L1295.4 307.6L1295.8 308.1L1297.3 309.7L1297.7 310.2L1298.8 311.3L1300 312.6L1302.5 314.9L1305.3 317.1L1308.4 319.4L1311.5 322.1L1314 325.2L1315.9 328.7L1317.2 332.6L1317.9 336.5L1317.9 340.6L1317.3 344.6L1316 348.4L1314.3 352.1L1312.4 355.5L1310.4 358.8L1307.8 361.7L1304.8 364.2L1301.6 366.2L1298.4 368L1295.3 369.7L1292.1 371.1L1288.8 372.1L1285.4 372.8L1282.1 373.2L1278.9 373.6L1275.7 373.9L1272.5 374L1269.3 373.6L1266.1 373.2L1262.9 372.8L1259.6 372.4L1256.3 371.8L1253.1 370.6L1249.9 369.1L1246.8 367.5L1243.4 365.8L1240 363.9L1236.7 361.6L1233.7 358.8L1230.8 355.7L1228.1 352.3L1225.8 348.5L1224.2 344.4L1223.6 340L1223.8 335.6L1225 331.3L1227 327.3L1229.7 323.8L1233.1 320.9L1236.9 318.5L1240.5 316.5L1243.8 314.7L1246.7 312.8L1249.3 310.9L1251.9 308.9L1252.1 308.8L1253.6 307.4L1254.3 306.6L1255.1 305.7L1256.5 303.8L1256.6 303.7L1258 301.6L1258.9 300.2L1259.6 299.2L1261.3 296.6L1261.6 296.2L1263.3 293.8L1264.8 291.8L1265.5 291L1268 288.2L1268.7 287.5L1270.8 285.8ZM1273.5 299.2L1275.8 299.2L1276.2 299.2L1278 299.8L1279.9 300.8L1280 301L1281.9 302.5L1283 303.6L1283.6 304.2L1285.2 305.8L1285.7 306.4L1286.6 307.5L1288 309L1288.1 309.1L1289.3 310.5L1290.4 311.6L1290.7 311.8L1292 313.1L1292.8 313.7L1293.5 314.2L1295 315.2L1295.5 315.5L1298.4 317.2L1301.4 319.2L1304.3 321.5L1307.2 324.2L1310 327.2L1312.3 330.7L1313.8 334.6L1314.2 338.7L1313.8 342.8L1312.8 346.8L1311.2 350.6L1308.8 353.9L1306.1 356.8L1303.2 359.5L1300.3 361.9L1297.3 364L1294.2 365.7L1290.9 367L1287.6 368L1284.5 369L1281.3 369.8L1278.1 370.3L1274.8 370.6L1271.6 370.8L1268.3 370.9L1265 370.5L1261.8 369.7L1258.6 368.6L1255.4 367.6L1252 366.4L1248.6 365L1245.2 363.2L1242 361L1238.8 358.4L1235.8 355.5L1233.4 352L1231.5 348.2L1230.1 344.1L1229.2 339.8L1229.1 335.5L1230.4 331.3L1233 327.5L1236.1 324.3L1239.5 321.6L1242.8 319.3L1246 317.4L1249 315.6L1251.8 313.8L1254.2 311.9L1254.3 311.8L1255.7 310.7L1256.9 309.8L1257.2 309.6L1258.8 308.5L1259.6 308L1260.4 307.5L1262 306.4L1262.4 306.1L1263.7 305.1L1265.4 303.8L1265.4 303.8L1267.2 302.3L1268.6 301.3L1269.2 300.9L1271.3 299.8L1272.3 299.4ZM1273.4 305.2L1275 305.2L1275.3 305.3L1277.2 305.6L1278.5 306L1279 306.2L1280.7 307.1L1281.7 307.8L1282.3 308.2L1283.8 309.5L1284.4 310.1L1285.2 310.7L1286.5 311.9L1287 312.3L1287.9 312.9L1289.2 313.9L1289.6 314.2L1290.6 314.9L1292 315.9L1292.2 316L1293.3 317L1294.6 318.1L1296.9 320.3L1299.7 322.5L1302.9 324.8L1306 327.5L1308.4 330.9L1309.9 334.7L1310.4 338.7L1310.1 342.8L1308.9 346.6L1307 350.2L1305 353.6L1302.8 356.8L1300.1 359.6L1296.9 361.6L1293.5 363.3L1290.3 364.7L1287.1 366.1L1283.8 367L1280.5 367.5L1277.3 368L1274 368.2L1270.8 367.9L1267.7 367.1L1264.6 366.3L1261.3 365.9L1257.9 365.4L1254.5 364.4L1251.2 363L1247.8 361.3L1244.3 359.3L1241.1 356.7L1238.2 353.6L1235.7 350.2L1233.4 346.3L1232 342.1L1232 337.7L1233.4 333.4L1235.6 329.5L1238.4 326.1L1241.8 323.3L1245.3 321.2L1248.7 319.3L1251.6 317.6L1254.5 316L1256.5 315.1L1257.3 314.7L1257.9 314.3L1259.3 313.5L1259.9 313.1L1260.7 312.6L1262 311.5L1262.4 311.1L1263.3 310.3L1264.8 309L1265.1 308.8L1266.3 307.9L1267.9 306.8L1268.1 306.8L1269.7 306L1271.5 305.5L1271.5 305.5ZM1273.4 307.9L1274.9 307.9L1275.1 307.9L1276.8 308.3L1278.3 309L1278.5 309L1280 310L1281.3 310.9L1281.4 311L1282.7 312.2L1283.9 313.3L1284 313.3L1285.1 314.5L1286.2 315.6L1286.3 315.6L1287.4 316.7L1288.5 317.6L1288.6 317.6L1289.8 318.4L1291.2 319.1L1291.2 319.1L1294.3 320.6L1297.3 322.5L1300.2 324.8L1303.1 327.6L1305.6 330.9L1307.3 334.6L1307.8 338.6L1307.6 342.7L1306.6 346.6L1304.6 350.2L1302.1 353.3L1299.3 356.1L1296.6 358.7L1293.7 360.9L1290.4 362.5L1287 363.6L1283.7 364.3L1280.4 364.8L1277.2 365L1274 365.3L1270.9 365.6L1267.6 365.7L1264.4 365.2L1261.2 364.3L1257.9 363.3L1254.4 362.2L1251 360.8L1247.6 358.8L1244.4 356.4L1241.4 353.5L1239.1 350L1237.4 346.1L1236.1 342L1235.3 337.7L1236 333.4L1238.3 329.6L1241.6 326.4L1245.2 323.9L1248.7 321.9L1251.9 320.2L1254.7 318.5L1257.1 316.6L1257.4 316.3L1258.6 315.4L1259.6 314.7L1259.9 314.5L1261.2 313.7L1262.3 313.1L1262.6 312.9L1264 312.2L1265.2 311.5L1265.4 311.3L1266.9 310.5L1268.1 309.7L1268.4 309.6L1270 308.8L1271.4 308.2L1271.6 308.2ZM1273.3 310.5L1273.9 310.5L1274.9 310.5L1276.5 310.8L1277.3 311.2L1278 311.5L1279.4 312.4L1280.3 313.2L1280.7 313.4L1281.9 314.4L1283 315.3L1283.1 315.4L1284.3 316.2L1285.5 316.9L1285.6 317L1286.7 317.7L1287.9 318.4L1288.2 318.7L1289.1 319.3L1290.2 320.2L1290.7 320.6L1293.4 322.5L1296.6 324.4L1299.8 326.8L1302.5 329.9L1304.7 333.5L1305.7 337.5L1305.2 341.6L1303.6 345.4L1301.8 349L1299.9 352.3L1297.4 355.3L1294.5 357.7L1291.4 359.7L1288.2 361.3L1284.8 362.3L1281.4 362.9L1278.2 363.7L1275 364.1L1271.7 363.9L1268.6 363.3L1265.3 363L1262 362.5L1258.7 361.6L1255.2 360.4L1251.7 358.9L1248.5 356.7L1245.8 353.8L1243 350.7L1240.4 347.3L1238.5 343.3L1237.9 339L1238.4 334.6L1240.2 330.6L1243.3 327.3L1246.9 324.7L1250.3 322.6L1253.4 320.8L1256.5 319.4L1258.8 318.4L1259.4 318.1L1260.1 317.8L1261.2 317L1262 316.4L1262.3 316.1L1263.5 315.1L1264.5 314.4L1264.7 314.2L1266 313.3L1267.3 312.6L1267.3 312.6L1268.7 311.9L1270.2 311.3L1270.5 311.2L1271.7 310.8ZM1273.4 314.4L1276.6 314.5L1279.7 315.4L1282.4 317L1285 318.7L1287.3 320.7L1289.7 322.7L1292.5 324.4L1295.8 326.3L1299.1 328.8L1301.5 332.1L1303 335.9L1303.1 339.9L1302.1 343.9L1300.5 347.5L1298.5 350.9L1296 353.8L1293 356.1L1290 358.2L1287 360.1L1283.8 361.4L1280.4 362L1277.1 362.3L1273.8 362.1L1270.7 361.5L1267.6 361.1L1264.3 360.8L1261 360.2L1257.7 359.1L1254.2 357.8L1250.7 356L1247.5 353.5L1244.7 350.4L1242.3 346.9L1240.8 342.8L1240.5 338.5L1241.2 334.2L1243 330.3L1246 327.1L1249.7 324.8L1253.2 323L1256.5 321.6L1259.5 320.5L1262.1 319L1264.5 317.3L1267.2 315.8L1270.2 314.9ZM1274.8 316.2L1278 316.7L1280.9 317.8L1283.6 319.4L1286 321.3L1288.5 323.2L1291.4 324.9L1294.5 326.9L1297.1 329.7L1299.3 333L1300.6 336.8L1300.6 340.8L1299.9 344.7L1298.5 348.4L1296 351.5L1292.9 353.9L1290 356.1L1287 358L1283.8 359.4L1280.5 360.2L1277.2 360.6L1273.9 360.6L1270.7 360.4L1267.5 360.2L1264.3 359.5L1261.3 358.3L1258.1 357L1254.6 355.6L1251.1 353.7L1247.7 351.2L1244.8 348L1243.1 344L1242.4 339.7L1242.7 335.4L1244.4 331.4L1247.7 328.2L1251.4 325.9L1254.9 324.2L1258 322.7L1260.6 321.2L1263 319.4L1265.7 318L1268.7 317.2L1271.7 316.6ZM1274.8 318.1L1277.7 319.1L1280.5 320.3L1283.3 321.5L1285.9 323.1L1288.5 324.9L1291.6 326.7L1294.9 328.9L1297.6 332L1299.3 335.8L1299.3 339.8L1298.1 343.7L1296.5 347.3L1294.5 350.6L1291.5 353.1L1288.2 355L1285 356.4L1281.8 357.5L1278.7 358.6L1275.6 359.4L1272.3 359.3L1269.1 358.9L1265.8 358.7L1262.4 358L1259.2 356.7L1256 354.9L1253 352.6L1250.1 349.9L1247.1 346.8L1245.1 342.9L1244.6 338.6L1245.5 334.4L1247.7 330.7L1250.9 327.8L1254.2 325.6L1257.4 323.8L1260.5 322.5L1263.1 321L1265.6 319.2L1268.6 318L1271.7 317.7ZM1274.5 319L1277.6 319.8L1280.4 321L1282.9 322.9L1285.3 324.7L1288.3 326.3L1291.5 328.2L1294.6 330.8L1296.7 334.3L1297.2 338.3L1296.6 342.3L1295.4 346.1L1293.1 349.3L1290.4 352L1287.4 354.2L1284.2 355.8L1280.9 357L1277.6 357.5L1274.3 357.4L1271.1 357.3L1267.9 357.2L1264.6 356.7L1261.2 355.7L1257.9 354.2L1254.8 352.1L1251.5 349.6L1248.8 346.3L1247.1 342.4L1246.4 338.1L1247.3 333.8L1250 330.2L1253.4 327.6L1257.2 325.9L1260.4 324.6L1262.9 323L1265.4 321.2L1268.2 319.9L1271.3 319ZM1273.9 320.4L1277.1 321.1L1279.9 322.4L1282.4 324.3L1284.9 326L1288 327.6L1290.9 329.9L1293.5 332.9L1295.3 336.6L1295.7 340.7L1295 344.8L1292.6 348.2L1289.3 350.7L1286.3 352.9L1283 354.3L1279.7 355.2L1276.5 355.8L1273.3 356L1270 356.4L1266.7 355.9L1263.6 354.6L1260.2 353.4L1256.6 351.8L1253.1 349.5L1250.2 346.2L1248.9 342.1L1248.4 337.7L1249.8 333.6L1253.1 330.4L1256.6 328.1L1259.7 326.3L1262.1 324.3L1264.7 322.3L1267.7 321.4L1270.8 320.7ZM1273.3 321.3L1276.3 322.4L1278.9 324.1L1281.3 325.8L1284 327.1L1286.8 328.8L1290.4 330.7L1293.6 333.8L1294.5 337.8L1293.7 341.8L1291.7 345.3L1289.6 348.5L1286.9 351.1L1283.4 352.5L1280.2 353.6L1277 354.2L1273.9 354.6L1270.8 354.7L1267.5 354.4L1263.9 354.3L1260.4 353.1L1257.4 350.8L1254.7 347.9L1252.6 344.6L1250.7 340.7L1250.6 336.5L1252.6 332.7L1255.4 329.7L1258.9 327.7L1261.9 326.1L1264.7 324.7L1267.2 323L1270 321.2ZM1274.2 323.3L1277.3 323.7L1280 325.4L1282.2 327.5L1285 329.1L1288.5 330.9L1291.6 333.9L1292.3 337.9L1291.7 342L1289.7 345.5L1287.1 348.3L1284 350.4L1281.2 352.3L1278.1 353.7L1274.6 353.6L1271.4 353.3L1268.2 353L1264.8 352.5L1261.5 351.1L1258.2 349.1L1255.1 346.4L1253.2 342.6L1252.4 338.5L1253.3 334.3L1255.5 330.8L1259.3 328.6L1262.8 327.3L1265.5 325.9L1268.1 324.4L1271 323.4ZM1273.1 323.8L1276.2 324.8L1279 326.4L1281.4 328.3L1284.2 330L1287.2 332.3L1290.2 335.4L1290.7 339.6L1289.1 343.4L1286.7 346.6L1284.1 349.3L1280.9 351L1277.5 351.8L1274.2 352.1L1271 351.7L1267.8 351.2L1264.3 350.7L1260.5 349.4L1257.6 346.6L1255.2 343.1L1254 339L1254.8 334.7L1258 331.5L1261.2 329.3L1264.5 328L1267.2 326.6L1269.9 325.1ZM1274 326.1L1277 326.9L1279.7 328.5L1282.7 330.1L1285.4 332.5L1288.1 335.7L1288.6 339.7L1287 343.5L1284.7 346.7L1281.5 348.8L1278.2 350.1L1274.9 350.7L1271.5 351.1L1268.4 350L1264.9 349.2L1261.6 347.4L1258.4 344.7L1256.1 341L1255.8 336.6L1258.6 332.9L1262.2 330.6L1265 328.7L1268 327.6L1270.8 326.1ZM1273.6 327.5L1276.7 328.4L1278.9 330.5L1282.2 331.8L1285.8 334.2L1287.1 338.2L1286.1 342.3L1283 345.2L1280.1 347.3L1277 348.9L1273.6 349L1270.2 349.3L1266.8 348.6L1263.4 346.9L1260.2 344.3L1258.9 340.3L1258.6 336L1261 332.5L1264.6 330.6L1267.4 328.8L1270.4 327.8ZM1273.7 328.8L1276.7 330.1L1279.2 331.9L1282.3 333.8L1284.8 337.3L1283.9 341.3L1281.9 344.7L1278.6 346.6L1275.2 347.5L1271.9 347.3L1268.5 347.1L1265.1 345.8L1262 343.1L1260 339.2L1261.3 335L1264.7 332.4L1267.9 331.1L1270.5 329.2ZM1273.3 330.7L1276.3 331.6L1278.7 333.5L1281.6 336L1282.1 339.8L1280.2 343.1L1277.1 345.1L1273.9 346L1270.7 345.5L1267.5 344.6L1264.2 342.4L1262.5 338.6L1264.4 334.8L1267.7 332.9L1270.3 331.5ZM1273.2 332.9L1275.3 333.9L1277.4 335.1L1279.3 337.2L1278.9 340.1L1277.2 342.3L1274.8 343.2L1272.4 343.6L1270 343L1267.6 341.8L1265.7 339.3L1266.4 336.2L1268.9 334.6L1271 333.6Z" fill="none" stroke="#3a3a3a" stroke-width="0.85" stroke-linejoin="round"/>
<rect x="1173.25" y="81.75" width="347.75" height="347.5" fill="none" stroke="#8c8c8c" stroke-width="1.3"/>
<line x1="1341.2" y1="81.25" x2="1341.2" y2="429.25" stroke-width="2.2" stroke="#000"/>
<line x1="1173.25" y1="296.5" x2="1522" y2="296.5" stroke-width="2" stroke="#000"/>
<text transform="translate(1178.75 110)" font-size="16.3">Q3</text>
<text transform="translate(1178.75 131.8)" font-size="16.3">6.43</text>
<text transform="translate(1178.75 390)" font-size="16.3">Q4</text>
<text transform="translate(1178.75 411.8)" font-size="16.3">90.0</text>
<text transform="translate(1490.7 110)" font-size="16.3" text-anchor="end">Q2</text>
<text transform="translate(1490.7 131.8)" font-size="16.3" text-anchor="end">3.25</text>
<text transform="translate(1490.7 390)" font-size="16.3" text-anchor="end">Q1</text>
<text transform="translate(1490.7 411.8)" font-size="16.3" text-anchor="end">0.28</text>
<path d="M1173.8 429.2v10M1258.2 429.2v10M1342.2 429.2v10M1427.5 429.2v10M1512.2 429.2v10" fill="none" stroke="#000" stroke-width="2.5"/>
<path d="M1232.8 429.2v7M1316.9 429.2v7M1401.8 429.2v7M1486.7 429.2v7M1199.2 429.2v4.5M1214.1 429.2v4.5M1224.6 429.2v4.5M1239.5 429.2v4.5M1245.2 429.2v4.5M1250.1 429.2v4.5M1254.4 429.2v4.5M1283.5 429.2v4.5M1298.3 429.2v4.5M1308.8 429.2v4.5M1323.5 429.2v4.5M1329.2 429.2v4.5M1334 429.2v4.5M1338.3 429.2v4.5M1367.9 429.2v4.5M1382.9 429.2v4.5M1393.6 429.2v4.5M1408.6 429.2v4.5M1414.3 429.2v4.5M1419.3 429.2v4.5M1423.6 429.2v4.5M1453 429.2v4.5M1467.9 429.2v4.5M1478.5 429.2v4.5M1493.4 429.2v4.5M1499 429.2v4.5M1504 429.2v4.5M1508.3 429.2v4.5" fill="none" stroke="#000" stroke-width="1.35"/>
<text transform="translate(1178.81 468.3)" font-size="13.2">10</text>
<text transform="translate(1195.09 457.5)" font-size="13.2">2</text>
<text transform="translate(1251.51 468.3)" font-size="13.2">10</text>
<text transform="translate(1267.79 457.5)" font-size="13.2">3</text>
<text transform="translate(1335.41 468.3)" font-size="13.2">10</text>
<text transform="translate(1351.69 457.5)" font-size="13.2">4</text>
<text transform="translate(1421.61 468.3)" font-size="13.2">10</text>
<text transform="translate(1437.89 457.5)" font-size="13.2">5</text>
<text transform="translate(1496.21 468.3)" font-size="13.2">10</text>
<text transform="translate(1512.49 457.5)" font-size="13.2">6</text>
<text transform="translate(714.77 1116.5) scale(1.0271 1)" font-size="32.41">Mediastinal lymph nodal CD8 T cells</text>
<line x1="451.2" y1="1129.3" x2="1508.8" y2="1130" stroke-width="2.1" stroke="#000"/>
<text transform="translate(475.14 1161.8) scale(0.8862 1)" font-size="32.41">PBS</text>
<text transform="translate(831.16 1162) scale(1.0093 1)" font-size="32.41">Vehicle</text>
<text transform="translate(1186.51 1162) scale(1.0507 1)" font-size="32.41">Peptide</text>
<text transform="translate(398 1425.18) rotate(-90) scale(0.8990 1)" font-size="33.87">TNF-α (PE)</text>
<text transform="translate(880.33 1602) scale(0.9825 1)" font-size="32.7">IFN-γ (eF450)</text>
<line x1="404.5" y1="1519.5" x2="404.5" y2="1188.48" stroke-width="2.3" stroke="#000"/>
<path d="M404.5 1170L416.1 1200.8Q404.5 1192.8 392.9 1200.8Z" fill="#000" stroke="none" stroke-width="1"/>
<line x1="451.2" y1="1572.8" x2="1492.82" y2="1574" stroke-width="2.3" stroke="#000"/>
<path d="M1511.3 1574L1480.5 1562.4Q1488.5 1574 1480.5 1585.6Z" fill="#000" stroke="none" stroke-width="1"/>
<path d="M461.2 1201.8h-10M461.2 1265.6h-10M461.2 1335.8h-10M461.2 1414.2h-10M461.2 1455.8h-10" fill="none" stroke="#000" stroke-width="2.5"/>
<path d="M461.2 1221h-7M461.2 1286.7h-7M461.2 1361.1h-7M461.2 1508.9h-7M461.2 1183.5h-4.5M461.2 1246.4h-4.5M461.2 1235.1h-4.5M461.2 1227.2h-4.5M461.2 1215.9h-4.5M461.2 1211.6h-4.5M461.2 1207.9h-4.5M461.2 1204.7h-4.5M461.2 1314.6h-4.5M461.2 1302.3h-4.5M461.2 1293.5h-4.5M461.2 1281.2h-4.5M461.2 1276.5h-4.5M461.2 1272.4h-4.5M461.2 1268.8h-4.5M461.2 1339.5h-4.5M461.2 1343.2h-4.5M461.2 1348h-4.5M461.2 1354.5h-4.5M461.2 1369.5h-4.5M461.2 1379.7h-4.5M461.2 1394.7h-4.5M461.2 1431.5h-4.5M461.2 1438.5h-4.5M461.2 1428.1h-4.5M461.2 1441.9h-4.5M461.2 1424.6h-4.5M461.2 1445.4h-4.5M461.2 1421.1h-4.5M461.2 1448.9h-4.5M461.2 1417.6h-4.5M461.2 1452.4h-4.5M461.2 1472.8h-4.5M461.2 1488h-4.5M461.2 1499.5h-4.5M461.2 1515.3h-4.5" fill="none" stroke="#000" stroke-width="1.35"/>
<path d="M461.2 1435h-10" fill="none" stroke="#000" stroke-width="5"/>
<text transform="translate(421.56 1210.45)" font-size="13.2">10</text>
<text transform="translate(437.84 1199.65)" font-size="13.2">6</text>
<text transform="translate(421.56 1274.3)" font-size="13.2">10</text>
<text transform="translate(437.84 1263.5)" font-size="13.2">5</text>
<text transform="translate(421.56 1344.45)" font-size="13.2">10</text>
<text transform="translate(437.84 1333.65)" font-size="13.2">4</text>
<text transform="translate(432.5 1439.5)" font-size="12.8" text-anchor="middle">0</text>
<path d="M627.5 1435.5h1.3M571.5 1501h1.3M625.5 1426.5h1.3M561 1389.5h1.3M563.5 1388.5h1.3M620.5 1460h1.3M616 1458.5h1.3M629.5 1425.5h1.3M621 1404.5h1.3M599 1480.5h1.3M597.5 1477h1.3M570 1483h1.3M535 1451.5h1.3M542 1423h1.3M563.5 1391h1.3M551 1399.5h1.3M633 1429.5h1.3M532 1423h1.3M632.5 1431h1.3M621.5 1422.5h1.3M626 1450.5h1.3M532 1427h1.3M575 1486.5h1.3M604.5 1395.5h1.3M624.5 1450h1.3M542.5 1451.5h1.3M584.5 1481h1.3M545 1462h1.3M619 1418.5h1.3M574.5 1382.5h1.3M619 1462.5h1.3M588 1483h1.3M559.5 1476h1.3M608 1398.5h1.3M615.5 1402h1.3M580.5 1488h1.3M548.5 1407h1.3M581 1380h1.3M602 1373.5h1.3M571.5 1482h1.3M622.5 1446h1.3M622 1432.5h1.3M621 1430.5h1.3M607 1397h1.3M592 1375.5h1.3M554.5 1474h1.3M610 1468h1.3M550.5 1467.5h1.3M556 1469h1.3M629.5 1435.5h1.3M541 1454.5h1.3M594 1485.5h1.3M544 1454h1.3M589 1481h1.3M567.5 1373.5h1.3M595.5 1385.5h1.3M531 1448.5h1.3M599.5 1482h1.3M624 1432h1.3M548 1376.5h1.3M540.5 1414.5h1.3M609.5 1399.5h1.3M539.5 1425.5h1.3M551.5 1398.5h1.3M543 1415h1.3M616.5 1461.5h1.3M620 1445h1.3M541 1435.5h1.3M566.5 1390h1.3M542 1421.5h1.3M594 1482h1.3M600.5 1387.5h1.3M620 1407.5h1.3M530.5 1422h1.3M554 1393.5h1.3M607.5 1390h1.3M534.5 1446.5h1.3M608.5 1471.5h1.3M583.5 1481h1.3M619.5 1405h1.3M589.5 1484h1.3M571 1385.5h1.3M554.5 1393.5h1.3M618 1398h1.3M568 1387h1.3M646 1446.5h1.3M623.5 1393.5h1.3M604.5 1478h1.3M562 1484.5h1.3M546.5 1410.5h1.3M616 1383h1.3M548.5 1401h1.3M561 1387.5h1.3M542 1470.5h1.3M599 1476.5h1.3M542 1460h1.3M618.5 1408.5h1.3M618.5 1452h1.3M536.5 1428h1.3M616 1464h1.3M619.5 1452.5h1.3M592 1382.5h1.3M600.5 1391.5h1.3M536.5 1445.5h1.3M543.5 1414.5h1.3M555 1398.5h1.3M597.5 1390h1.3M555.5 1475h1.3M562 1475h1.3M653 1440.5h1.3M539 1433.5h1.3M557 1472h1.3M621 1421.5h1.3M546.5 1399.5h1.3M546 1408.5h1.3M609 1470.5h1.3M565 1493.5h1.3M587.5 1384h1.3M592 1494h1.3M541.5 1441h1.3M627.5 1458h1.3M543 1413h1.3M535.5 1438h1.3M624.5 1433.5h1.3M599 1389h1.3M613 1468.5h1.3M615 1406.5h1.3M553 1482h1.3M607 1384h1.3M586.5 1380h1.3M615.5 1394.5h1.3M537.5 1408.5h1.3M631 1431h1.3M601 1392h1.3M532 1456.5h1.3M549 1398h1.3M544.5 1415.5h1.3M549.5 1405h1.3M558 1394h1.3M614.5 1459.5h1.3M623.5 1424.5h1.3M604 1471.5h1.3M616.5 1410.5h1.3M542.5 1421.5h1.3M549.5 1400.5h1.3M577.5 1383h1.3M625.5 1441h1.3M617.5 1456h1.3M606.5 1396.5h1.3M598 1486.5h1.3M658 1400.5h1.3M551 1403.5h1.3M619 1393.5h1.3M542 1447.5h1.3M593.5 1386.5h1.3M625.5 1458.5h1.3M607.5 1469.5h1.3M606 1383h1.3M571.5 1387h1.3M547 1461h1.3M558.5 1475.5h1.3M535 1413h1.3M568 1502.5h1.3M572.5 1383.5h1.3M626.5 1419.5h1.3M562.5 1388.5h1.3M564 1482.5h1.3M606 1477.5h1.3M566.5 1383.5h1.3M561.5 1477h1.3M627 1421.5h1.3M612.5 1379.5h1.3M623 1433h1.3M538 1445h1.3M582.5 1487h1.3M627.5 1427.5h1.3M551.5 1399.5h1.3M548 1471.5h1.3M547 1464.5h1.3M625.5 1426h1.3M597.5 1389.5h1.3M560.5 1385.5h1.3M603.5 1378h1.3M602.5 1389h1.3M592 1342.5h1.3M558 1380.5h1.3M560.5 1390h1.3M597 1389h1.3M614.5 1406h1.3M575.5 1380.5h1.3M594.5 1387.5h1.3M567.5 1369h1.3M570 1380.5h1.3M576.5 1372.5h1.3M560 1366.5h1.3M546.5 1380h1.3M569 1385.5h1.3M582.5 1382h1.3M578.5 1367h1.3M650 1385.5h1.3M616.5 1407h1.3M582.5 1366h1.3M578 1385h1.3M605.5 1356h1.3M574 1367.5h1.3M560.5 1385h1.3M590.5 1378.5h1.3M561.5 1347h1.3M551.5 1400.5h1.3M595 1376.5h1.3M591 1351.5h1.3M565 1367h1.3M606 1372h1.3M531.5 1395.5h1.3M550 1362.5h1.3M597 1379h1.3M578.5 1383.5h1.3M600.5 1378h1.3M525.5 1330.5h1.3M561 1381h1.3M600 1388.5h1.3M610 1361h1.3M560 1389h1.3M633 1403.5h1.3M533 1390h1.3M562.5 1391.5h1.3M581.5 1382.5h1.3M601 1373.5h1.3M579 1377h1.3M584.5 1382.5h1.3M557 1392h1.3M611 1388.5h1.3M589 1372.5h1.3M550 1399h1.3M587.5 1383.5h1.3M603.5 1383.5h1.3M588.5 1382h1.3M574.5 1385.5h1.3M580 1377.5h1.3M617 1391.5h1.3M611 1398h1.3M580 1376h1.3M587 1382.5h1.3M567 1376.5h1.3M603.5 1374h1.3M582.5 1371.5h1.3M626.5 1401.5h1.3M601 1385h1.3M556.5 1358h1.3M603 1368h1.3M580 1363.5h1.3M601.5 1390.5h1.3M595 1388.5h1.3M601.5 1367.5h1.3M589.5 1376h1.3M616 1373h1.3M592.5 1380.5h1.3M578.5 1355h1.3M579 1322h1.3M611.5 1345h1.3M604 1330.5h1.3M587 1309h1.3M587 1341h1.3M605 1340h1.3M578.5 1385h1.3M582.5 1316h1.3M584 1286.5h1.3M600.5 1322.5h1.3M575.5 1315.5h1.3M598.5 1373.5h1.3M570.5 1338.5h1.3M592.5 1340.5h1.3M593 1299.5h1.3M607 1313h1.3M612.5 1334.5h1.3M611 1365.5h1.3M603 1301h1.3M603.5 1294.5h1.3M581.5 1314h1.3M573.5 1374.5h1.3M594 1295h1.3M602.5 1361.5h1.3M595 1362h1.3M603.5 1361.5h1.3M597.5 1325.5h1.3M563 1269.5h1.3M580 1272h1.3M607 1270h1.3M586.5 1292.5h1.3M604 1310h1.3M556 1386.5h1.3M594 1343h1.3M569.5 1371.5h1.3M569 1301.5h1.3M606.5 1251.5h1.3M577.5 1348h1.3M611.5 1280.5h1.3M611.5 1245h1.3M589 1294h1.3M587.5 1289.5h1.3M601 1200h1.3M570.5 1373.5h1.3M601 1333h1.3M598 1256.5h1.3M610.5 1314h1.3M609.5 1375.5h1.3M574.5 1302h1.3M592.5 1273.5h1.3M609 1261h1.3M610 1344h1.3M585.5 1277.5h1.3M595 1322h1.3M598.5 1356h1.3M585 1370.5h1.3M599.5 1333.5h1.3M583.5 1336.5h1.3M596 1334.5h1.3M587.5 1267h1.3M580 1250.5h1.3M576.5 1329h1.3M592.5 1373h1.3M599 1313h1.3M588.5 1305.5h1.3M611.5 1367h1.3M576 1350.5h1.3M606.5 1290h1.3M590.5 1366.5h1.3M568 1360.5h1.3M595 1316.5h1.3M601.5 1375h1.3M580.5 1281.5h1.3M604.5 1326h1.3M607.5 1280h1.3M595 1280.5h1.3M593 1306.5h1.3M581 1374.5h1.3M604 1325h1.3M594.5 1350.5h1.3M585 1271h1.3M583 1309.5h1.3M583.5 1370.5h1.3M583 1314.5h1.3M576 1366.5h1.3M594.5 1338.5h1.3M566.5 1349.5h1.3M594 1217.5h1.3M610.5 1332.5h1.3M595.5 1388h1.3M587.5 1341.5h1.3M609.5 1331h1.3M574 1353h1.3M593.5 1319.5h1.3M620.5 1295h1.3M603.5 1300.5h1.3M597 1371.5h1.3M581.5 1340h1.3M590 1351h1.3M591.5 1284h1.3M607.5 1344h1.3M598.5 1292h1.3M607.5 1379.5h1.3M586.5 1331.5h1.3M611.5 1349h1.3M593 1369.5h1.3M590.5 1299.5h1.3M599 1367h1.3M576 1354.5h1.3M606 1279.5h1.3M613.5 1287h1.3M571 1348.5h1.3M605 1299.5h1.3M594 1360.5h1.3M590 1325.5h1.3M586 1281h1.3M586 1281.5h1.3M595.5 1352h1.3M589.5 1328.5h1.3M591 1371.5h1.3M607 1365.5h1.3M597.5 1297.5h1.3M586.5 1304h1.3M603.5 1278.5h1.3M617.5 1337h1.3M571.5 1279h1.3M602.5 1330h1.3M594 1338h1.3M615.5 1310h1.3M578.5 1320h1.3M604 1317.5h1.3M576.5 1277.5h1.3M598 1351h1.3M604 1213.5h1.3M602 1331.5h1.3M604.5 1307h1.3M607.5 1308h1.3M586.5 1380.5h1.3M580.5 1281h1.3M586 1339.5h1.3M569.5 1308h1.3M586 1353h1.3M588 1261h1.3M590 1276h1.3M618.5 1303.5h1.3M595 1312h1.3M586.5 1374.5h1.3M585 1308h1.3M584.5 1303.5h1.3M608.5 1344.5h1.3M600 1342.5h1.3M573.5 1333.5h1.3M604.5 1373.5h1.3M600.5 1288.5h1.3M605.5 1222.5h1.3M600.5 1295.5h1.3M580.5 1300.5h1.3M614.5 1345.5h1.3M594 1300.5h1.3M612.5 1315h1.3M597 1364.5h1.3M586 1318.5h1.3M595 1321h1.3M583 1354.5h1.3M611.5 1318.5h1.3M596 1323.5h1.3M603.5 1359h1.3M600.5 1329h1.3M616.5 1258h1.3M602 1289.5h1.3M595 1290h1.3M608 1310.5h1.3M601.5 1357h1.3M585 1376.5h1.3M598.5 1261.5h1.3M607 1321.5h1.3M622.5 1391h1.3M603.5 1366.5h1.3M598.5 1310h1.3M593 1336h1.3M607 1266h1.3M610 1266h1.3M592.5 1362h1.3M597 1351h1.3M598.5 1383.5h1.3M574.5 1292h1.3M602 1335h1.3M594 1344h1.3M590.5 1331.5h1.3M578.5 1252.5h1.3M556.5 1320.5h1.3M599 1353.5h1.3M580.5 1377.5h1.3M595.5 1283h1.3M572.5 1348h1.3M599.5 1271.5h1.3M595.5 1348h1.3M593 1364h1.3M598.5 1347h1.3M603.5 1305h1.3M591.5 1306h1.3M630 1326.5h1.3M581.5 1351h1.3M579 1265.5h1.3M603.5 1314h1.3M585.5 1378.5h1.3M596 1337h1.3M595 1347h1.3M609 1331.5h1.3M579.5 1335.5h1.3M594.5 1308h1.3M593.5 1374.5h1.3M615 1294.5h1.3M605.5 1356.5h1.3M609.5 1356.5h1.3M606.5 1327.5h1.3M574.5 1368.5h1.3M586 1368.5h1.3M605.5 1278.5h1.3M612.5 1293.5h1.3M593 1288.5h1.3M584.5 1316h1.3M595 1361.5h1.3M608.5 1341.5h1.3M592.5 1291h1.3M594.5 1238h1.3M558.5 1278h1.3M579 1337h1.3M587.5 1219.5h1.3M613 1339.5h1.3M588.5 1364h1.3M589.5 1379.5h1.3M591.5 1345h1.3M591.5 1363.5h1.3M578.5 1340h1.3M593.5 1341h1.3M589.5 1358.5h1.3M575 1277.5h1.3M600 1255h1.3M582 1302h1.3M588 1347.5h1.3M588 1332.5h1.3M595 1258.5h1.3M607 1342h1.3M578 1338.5h1.3M559.5 1361h1.3M592 1289h1.3M582.5 1356h1.3M604.5 1317h1.3M608.5 1268.5h1.3M595 1366h1.3M602.5 1327h1.3M585 1311.5h1.3M574 1309h1.3M559 1276.5h1.3M636 1265.5h1.3M602 1353h1.3M564.5 1384h1.3M608 1385h1.3M573.5 1335.5h1.3M580 1367h1.3M586.5 1344h1.3M587 1299h1.3M590.5 1273h1.3M590 1294.5h1.3M599.5 1331h1.3M595 1289h1.3M594.5 1302h1.3M640.5 1424h1.3M630 1423.5h1.3M623 1425h1.3M666.5 1422h1.3M660 1385.5h1.3M616 1397.5h1.3M636.5 1400.5h1.3M646.5 1399.5h1.3M655.5 1415.5h1.3M669.5 1463h1.3M646.5 1428h1.3M644 1386h1.3M640.5 1421.5h1.3M628.5 1453.5h1.3M638.5 1410h1.3M653 1381h1.3M652 1395.5h1.3M638.5 1453.5h1.3M655 1372.5h1.3M656.5 1427.5h1.3M640 1428h1.3M634 1438h1.3M669 1396h1.3M632.5 1408.5h1.3M632.5 1389h1.3M669 1412.5h1.3M634.5 1450.5h1.3M645 1418h1.3M626 1423.5h1.3M623.5 1405.5h1.3M648 1451h1.3M662 1472h1.3M628.5 1426.5h1.3M644 1447h1.3M667.5 1428h1.3M637.5 1409.5h1.3M645 1398.5h1.3M640.5 1408.5h1.3M645 1410h1.3M637 1432h1.3M647.5 1419.5h1.3M664 1411.5h1.3M663.5 1421.5h1.3M667.5 1444h1.3M645 1474.5h1.3M623 1417h1.3M627 1381h1.3M652 1423.5h1.3M651.5 1389h1.3M666 1417.5h1.3M648.5 1436h1.3M658.5 1401.5h1.3M642.5 1442.5h1.3M668.5 1356h1.3M636.5 1391h1.3M629 1455h1.3M671.5 1402h1.3M647 1445h1.3M692.5 1415h1.3M609 1390.5h1.3M654 1412h1.3M645 1436h1.3M622.5 1381h1.3M629 1426.5h1.3M619.5 1407.5h1.3M655.5 1427h1.3M629 1412.5h1.3M636.5 1454h1.3M637 1460.5h1.3M647 1404h1.3M635 1365.5h1.3M623 1440h1.3M664 1406.5h1.3M643 1439.5h1.3M661 1453.5h1.3M642 1387h1.3" fill="none" stroke="#2e2e2e" stroke-width="1.3"/>
<path d="M583.8 1384.8L584 1384.8L586.5 1385.4L588.1 1385.9L589.2 1386.3L591.7 1387.6L592 1387.7L594.1 1388.9L595.6 1389.9L596.4 1390.4L598.6 1392L598.9 1392.2L600.7 1393.6L602 1394.7L602.6 1395.3L604.5 1397.1L604.8 1397.4L606.1 1399L607.2 1400.3L607.7 1400.9L609.2 1402.9L609.5 1403.3L611.5 1406.2L613.6 1409.1L615.5 1412.1L617 1415.2L618.1 1418.6L618.8 1422L619.2 1425.4L619.4 1428.7L619.5 1432.1L619.3 1435.4L619 1438.7L618.7 1442.1L618.3 1445.5L617.7 1448.9L616.6 1452.3L615.2 1455.5L613.5 1458.7L611.5 1461.7L609.4 1464.8L607 1467.8L604.2 1470.4L601.1 1472.7L597.7 1474.5L594.1 1476L590.3 1477L586.5 1477.5L582.6 1477.6L578.7 1477.4L574.9 1477L571.1 1476.3L567.4 1475.3L563.9 1473.7L560.7 1471.5L557.8 1469L555.2 1466.3L552.8 1463.5L550.7 1460.5L548.8 1457.5L547.2 1454.3L545.7 1451.1L544.4 1447.9L543.4 1444.6L542.8 1441.2L542.6 1437.8L542.5 1434.4L542.4 1431L542.4 1427.6L542.7 1424.2L543.4 1420.8L544.6 1417.5L546.1 1414.3L547.8 1411.3L549.7 1408.4L551.9 1405.6L554.2 1403L556.7 1400.3L556.7 1400.2L558.4 1398.4L559.2 1397.6L560.1 1396.6L561.9 1394.8L561.9 1394.8L563.9 1393.1L564.9 1392.3L566 1391.6L568.3 1390.2L568.3 1390.2L570.6 1389L571.9 1388.3L573.1 1387.8L575.6 1386.8L575.8 1386.7L578.3 1385.9L579.8 1385.4L581 1385.2ZM582.4 1394.2L585.9 1394.5L589.3 1395.2L592.6 1396.3L595.6 1398L598.5 1399.9L601.1 1402L603.6 1404.2L605.8 1406.7L607.7 1409.4L609.1 1412.3L610.4 1415.2L611.7 1418L612.9 1420.8L613.9 1423.7L614.5 1426.6L615 1429.7L615.3 1432.7L615.4 1435.8L615.2 1438.8L614.6 1441.9L613.7 1444.8L612.8 1447.8L611.9 1450.9L610.7 1453.9L609.1 1456.8L607.2 1459.5L604.9 1461.9L602.5 1464.3L599.8 1466.5L596.9 1468.4L593.8 1469.8L590.5 1471L587.1 1471.8L583.7 1472.4L580.1 1472.4L576.7 1471.9L573.3 1470.9L570.1 1469.7L566.9 1468.4L563.9 1466.9L561 1465L558.5 1462.8L556.2 1460.4L554.1 1457.8L552.3 1455L550.8 1452.1L549.7 1449.1L548.9 1446L548.2 1443L547.5 1440L547.1 1436.9L547 1433.8L547.4 1430.8L547.9 1427.8L548.5 1424.8L549.1 1421.8L550 1418.8L551.2 1416L552.6 1413.2L554.2 1410.4L556 1407.7L558.1 1405.2L560.6 1403L563.2 1401.1L566 1399.2L569 1397.4L572.1 1395.9L575.4 1394.8L578.9 1394.2ZM582.9 1398L586.4 1398.4L589.8 1399.4L592.9 1401L595.8 1402.9L598.6 1404.7L601.2 1406.7L603.6 1409.1L605.5 1411.7L607.2 1414.5L608.6 1417.3L609.7 1420.3L610.4 1423.4L610.9 1426.4L611.4 1429.4L612.1 1432.4L612.4 1435.5L612.2 1438.6L611.6 1441.7L610.8 1444.8L609.9 1447.9L608.7 1450.8L607 1453.6L605 1456.3L602.9 1458.9L600.5 1461.3L597.7 1463.3L594.7 1464.8L591.5 1466.1L588.3 1467.4L584.9 1468.5L581.4 1469L577.8 1468.9L574.3 1468.2L570.9 1467.1L567.7 1465.6L564.8 1463.6L562.3 1461.3L559.9 1458.9L557.6 1456.5L555.5 1453.9L554 1451L552.9 1447.9L552 1444.8L551.1 1441.8L550.5 1438.8L550.3 1435.7L550.4 1432.6L550.7 1429.5L551.1 1426.5L551.9 1423.5L553.2 1420.7L554.5 1417.9L555.7 1415L557 1412L558.7 1409.1L560.9 1406.6L563.5 1404.3L566.2 1402.2L569.2 1400.5L572.5 1399.2L575.9 1398.5L579.4 1398.2ZM582 1400.6L585.6 1400.7L589 1401.6L592.2 1403.1L595.2 1404.9L598 1406.8L600.5 1409.1L602.4 1412L603.9 1414.9L605.5 1417.6L607 1420.4L608.1 1423.3L608.7 1426.3L609.1 1429.4L609.5 1432.4L609.5 1435.5L609 1438.5L608.4 1441.5L607.9 1444.6L607.2 1447.8L605.9 1450.9L604.1 1453.6L602 1456.3L599.8 1458.9L597.2 1461.2L594.1 1463L590.9 1464.3L587.5 1465.4L584 1466L580.5 1465.8L577 1465L573.7 1464.1L570.4 1463.2L567.2 1461.8L564.4 1459.7L562 1457.4L559.7 1455L557.7 1452.3L556.2 1449.4L555.1 1446.3L554 1443.4L553 1440.4L552.5 1437.3L552.6 1434.1L553 1431L553.2 1428L553.6 1424.9L554.6 1421.9L556 1419.1L557.5 1416.3L559.1 1413.5L561.2 1411.1L563.7 1408.9L566.2 1406.8L568.8 1404.6L571.7 1402.7L575 1401.5L578.5 1400.9ZM582 1403.8L585.4 1404L588.8 1404.4L592.1 1405.4L595.1 1407.3L597.6 1409.7L599.7 1412.2L601.8 1414.8L603.6 1417.4L605.1 1420.2L606.4 1423.1L607.2 1426.1L607.6 1429.2L607.6 1432.3L607.5 1435.4L607.3 1438.5L606.8 1441.6L605.6 1444.5L604.2 1447.2L602.6 1449.9L600.9 1452.7L599 1455.4L596.7 1458.1L594.1 1460.5L591.1 1462.4L587.7 1463.5L584.1 1463.8L580.5 1463.8L577 1463.5L573.5 1462.6L570.3 1461.1L567.4 1459.2L564.8 1457L562.6 1454.5L560.6 1451.8L558.8 1449.1L557.2 1446.4L556.1 1443.4L555.7 1440.2L555.5 1437.2L555.4 1434.1L555.3 1431.1L555.3 1428L555.6 1424.9L556.3 1421.8L557.5 1418.8L559.3 1416.1L561.3 1413.5L563.5 1411L565.9 1408.7L568.8 1406.9L571.9 1405.6L575.2 1404.6L578.5 1404ZM583 1405.2L586.4 1405.9L589.6 1407.4L592.5 1409.1L595.4 1410.8L598 1412.9L600 1415.6L601.6 1418.4L603 1421.2L604.2 1424.1L605.1 1427.1L605.8 1430.1L606.4 1433.2L606.3 1436.4L605.6 1439.4L604.7 1442.5L603.8 1445.6L602.3 1448.5L600.4 1451.1L598.2 1453.6L595.7 1455.9L592.8 1457.7L589.8 1459.2L586.6 1460.7L583.1 1461.8L579.5 1461.8L576 1461.1L572.6 1460L569.4 1458.5L566.6 1456.5L564.1 1454.1L561.8 1451.6L560.1 1448.7L559 1445.5L558.1 1442.5L557.3 1439.5L556.8 1436.4L556.9 1433.3L557.3 1430.3L557.8 1427.3L558.6 1424.3L559.6 1421.4L560.6 1418.3L562 1415.3L564.1 1412.6L566.7 1410.4L569.5 1408.4L572.6 1406.7L575.9 1405.6L579.4 1405.2ZM582.1 1407.6L585.5 1408L588.9 1408.7L592.2 1409.7L595.2 1411.5L597.6 1414L599.5 1416.8L601 1419.7L602.1 1422.7L602.9 1425.8L603.5 1428.7L603.9 1431.7L603.8 1434.8L603.6 1437.8L603.2 1440.9L602.3 1443.9L600.9 1446.8L599.2 1449.5L597.3 1452.2L594.9 1454.6L592.2 1456.8L589.2 1458.8L585.8 1460.1L582.1 1460.4L578.6 1459.9L575.1 1458.9L572 1457.3L569.2 1455.2L566.7 1453L564.5 1450.6L562.6 1447.9L561 1445.2L559.5 1442.5L558.4 1439.5L558.1 1436.4L558 1433.2L558.3 1430.2L558.9 1427.1L559.8 1424.1L560.8 1421.1L562.2 1418.2L564.2 1415.7L566.6 1413.3L569.2 1411.2L572.2 1409.6L575.4 1408.6L578.7 1407.9ZM581.7 1408.2L585.2 1409.1L588.4 1410.3L591.4 1412L593.9 1414.3L596.3 1416.5L598.4 1418.9L599.8 1421.8L601 1424.6L602.3 1427.5L602.8 1430.5L602.6 1433.6L602.5 1436.7L602 1439.7L601.1 1442.7L600.1 1445.8L598.7 1448.9L596.4 1451.4L593.7 1453.4L590.9 1455.3L587.7 1456.6L584.3 1457.2L580.8 1457.6L577.3 1457.4L574 1456.4L570.8 1455.1L567.8 1453.5L565.4 1451L563.7 1448L562.2 1445L561.2 1442L560.6 1438.9L560 1435.9L559.6 1432.9L560.1 1429.8L560.9 1426.9L561.6 1423.9L562.9 1421L564.8 1418.5L566.7 1415.8L569 1413.4L571.8 1411.5L574.8 1409.7L578.1 1408.3ZM581.5 1410.8L585 1410.8L588.4 1411.7L591.1 1413.9L593.6 1416.1L595.9 1418.4L597.8 1421L599.7 1423.5L601.1 1426.4L601.2 1429.7L601.2 1432.7L601.3 1435.8L600.7 1438.9L599.7 1441.8L598.5 1444.8L596.7 1447.4L594.7 1450L592.6 1452.9L589.6 1454.7L586.1 1455.4L582.7 1456.1L579.2 1456.2L575.7 1455.6L572.3 1454.7L569.4 1452.6L567.3 1449.8L565.2 1447.2L563.4 1444.5L562.7 1441.3L562.1 1438.2L561.7 1435.3L561.7 1432.3L561.6 1429.2L561.6 1425.9L563.1 1423.1L565 1420.5L566.7 1417.7L568.9 1415.3L571.6 1413.2L574.6 1411.4L578.1 1410.8ZM582 1412.6L585.5 1412.8L588.8 1413.7L591.7 1415.6L594.3 1417.7L596.3 1420.4L597.9 1423.3L599.5 1426L600 1429.2L599.5 1432.4L599.2 1435.4L598.7 1438.4L598.1 1441.4L597.2 1444.6L595.4 1447.3L593.2 1449.8L590.8 1452.6L587.6 1454.2L584 1454.8L580.4 1454.9L577 1454.1L573.6 1453.1L570.5 1451.4L568.4 1448.5L566.7 1445.6L565 1443L563.9 1440.1L562.9 1437.2L562.4 1434.1L562.7 1431L562.7 1427.8L563.3 1424.5L565.3 1421.9L567.4 1419.5L569.7 1417.2L572.4 1415.3L575.2 1413.2L578.6 1412.3ZM581.6 1413.7L585 1414.1L588.3 1415.3L590.9 1417.6L593.5 1419.7L595.6 1422.2L597.2 1425L598.3 1428L598.2 1431.2L598.3 1434.3L598.4 1437.4L597.5 1440.5L596.4 1443.6L594.5 1446.3L592.2 1448.8L589.5 1451L586.1 1452L582.7 1452.7L579.1 1453.2L575.6 1452.5L572.3 1451.1L569.8 1448.6L567.9 1445.6L566 1443L565 1439.9L564.4 1436.8L563.9 1433.8L564.1 1430.7L564.5 1427.5L565.8 1424.6L567.7 1422.1L569.4 1419.2L571.6 1416.6L574.6 1414.7L578 1413.5ZM581.9 1415.4L585.3 1415.6L588.4 1417.1L591.3 1418.7L593.6 1421.2L595.4 1423.9L596.7 1426.8L596.6 1430.1L596.8 1433.1L596.7 1436L596.2 1439L595.5 1442.2L593.7 1444.8L591.8 1447.6L589.1 1449.8L585.8 1451L582.4 1452L578.8 1451.7L575.4 1450.8L572.5 1448.8L570.5 1446L568.3 1443.7L567 1440.8L565.7 1438L565 1435L565.1 1431.9L565.1 1428.7L566.5 1425.9L568.2 1423.3L570 1420.6L572.4 1418.4L575.2 1416.3L578.5 1415.6ZM581.6 1417.2L585 1417.4L588.4 1418.1L590.9 1420.5L593.1 1423L594.6 1425.9L595.9 1428.8L595.8 1432L595.6 1435L595.3 1438.1L593.9 1440.9L592.4 1443.7L590.3 1446.2L587.9 1449.1L584.5 1450.4L580.9 1450.5L577.3 1449.9L574.2 1448.2L571.6 1445.9L570 1443L568 1440.6L567.1 1437.5L566.7 1434.5L566.7 1431.4L566.9 1428.3L567.7 1425L569.9 1422.6L572 1420L575 1418.4L578.2 1417.3ZM582.2 1417.8L585.6 1418.7L588.5 1420.6L590.9 1423L592.5 1425.8L593.5 1428.8L594.6 1431.7L595 1434.9L594.4 1438.1L593 1441L591.2 1443.8L588.6 1445.9L585.6 1447.7L582.1 1448.5L578.6 1448.5L575.4 1446.8L572.4 1445.1L570.1 1442.6L568.5 1439.6L568.1 1436.4L567.9 1433.2L568.6 1430.3L569.4 1427.3L570.6 1424.3L572.4 1421.4L575.3 1419.5L578.6 1418.2ZM581.3 1419.4L584.9 1420.1L587.9 1421.9L590.2 1424.4L591.9 1427.2L592.5 1430.3L592.9 1433.3L593.4 1436.6L592.4 1439.8L590.5 1442.6L587.8 1444.8L584.6 1446.2L581.2 1446.8L577.6 1446.7L574.6 1444.7L572.2 1442.2L570.1 1439.6L569.2 1436.4L569 1433.2L569.8 1430.1L571.1 1427.3L572.6 1424.5L574.5 1421.4L577.8 1419.9ZM581.7 1421.5L585.1 1422.1L588.1 1423.9L590.2 1426.6L591.3 1429.7L591.8 1432.8L591.6 1436L590.4 1439L588.7 1441.8L586.1 1444.2L582.7 1445.7L579 1445.4L575.8 1443.6L573.4 1441.2L571.6 1438.4L570.8 1435.3L570.7 1432.1L571.4 1429L572.7 1425.9L575 1423.4L578.2 1422ZM581.8 1423.2L585.2 1424L587.9 1426.2L589.6 1429L590.1 1432.2L590 1435.3L589.1 1438.4L587.1 1441.1L584.3 1443.3L580.7 1443.8L577.2 1442.7L574.8 1440.2L573 1437.4L572.3 1434.3L572.3 1431.2L573.3 1428.1L575.4 1425.5L578.3 1423.6ZM581.4 1425.1L584.7 1425.9L587.2 1428L588.1 1431.2L588.4 1434.1L587.6 1437L585.9 1439.9L582.9 1441.7L579.3 1441.6L576.6 1439.4L574.8 1436.8L573.9 1433.9L574.3 1430.9L575.5 1427.9L578.1 1425.9ZM581.5 1427.5L583.9 1428.3L585.5 1430.1L586.3 1432.3L586 1434.5L585.3 1436.8L583.5 1438.5L581 1439.1L578.6 1438.3L577 1436.4L576.2 1434.2L576.2 1431.9L577.2 1429.7L579 1428.1Z" fill="none" stroke="#3a3a3a" stroke-width="0.85" stroke-linejoin="round"/>
<rect x="461.25" y="1171.75" width="345.75" height="344.75" fill="none" stroke="#8c8c8c" stroke-width="1.3"/>
<rect x="675" y="1168.2" width="135" height="182.6" fill="none" stroke="#000" stroke-width="2"/>
<text transform="translate(798 1198.8)" font-size="16.3" text-anchor="end">0.023</text>
<path d="M512 1516.5v10M573.8 1516.5v10M661.2 1516.5v10M737.5 1516.5v10M806.5 1516.5v10" fill="none" stroke="#000" stroke-width="2.5"/>
<path d="M634.9 1516.5v7M714.5 1516.5v7M785.7 1516.5v7M600.1 1516.5v4.5M615.5 1516.5v4.5M626.4 1516.5v4.5M641.8 1516.5v4.5M647.7 1516.5v4.5M652.8 1516.5v4.5M657.2 1516.5v4.5M684.2 1516.5v4.5M697.6 1516.5v4.5M707.2 1516.5v4.5M720.6 1516.5v4.5M725.7 1516.5v4.5M730.1 1516.5v4.5M734 1516.5v4.5M758.3 1516.5v4.5M770.4 1516.5v4.5M779 1516.5v4.5M791.2 1516.5v4.5M795.8 1516.5v4.5M799.8 1516.5v4.5M803.3 1516.5v4.5M515.1 1516.5v4.5M546.1 1516.5v4.5M518.2 1516.5v4.5M549.1 1516.5v4.5M521.3 1516.5v4.5M552.2 1516.5v4.5M524.4 1516.5v4.5M555.3 1516.5v4.5M527.5 1516.5v4.5M558.4 1516.5v4.5M530.6 1516.5v4.5M561.5 1516.5v4.5M533.7 1516.5v4.5M564.5 1516.5v4.5M536.8 1516.5v4.5M567.6 1516.5v4.5M539.9 1516.5v4.5M570.7 1516.5v4.5M488.7 1516.5v4.5M471.4 1516.5v4.5" fill="none" stroke="#000" stroke-width="1.35"/>
<path d="M543 1516.5v10" fill="none" stroke="#000" stroke-width="7"/>
<text transform="translate(543 1555.3)" font-size="12.5" text-anchor="middle">0</text>
<text transform="translate(654.31 1554.8)" font-size="13.2">10</text>
<text transform="translate(670.59 1544)" font-size="13.2">4</text>
<text transform="translate(729.76 1554.8)" font-size="13.2">10</text>
<text transform="translate(746.04 1544)" font-size="13.2">5</text>
<text transform="translate(781.76 1554.8)" font-size="13.2">10</text>
<text transform="translate(798.04 1544)" font-size="13.2">6</text>
<path d="M990.5 1438h1.3M983.5 1420h1.3M894.5 1456h1.3M983.5 1408h1.3M957.5 1352h1.3M957.5 1349h1.3M947.5 1489.5h1.3M900 1391h1.3M925.5 1371h1.3M980.5 1453.5h1.3M954 1475.5h1.3M948 1473.5h1.3M918.5 1467h1.3M910.5 1399.5h1.3M911.5 1398.5h1.3M905.5 1455h1.3M934.5 1477h1.3M911 1408.5h1.3M986.5 1452.5h1.3M889.5 1435h1.3M965.5 1374h1.3M944 1476h1.3M968.5 1464.5h1.3M900 1416.5h1.3M988 1470h1.3M990 1440.5h1.3M941 1480h1.3M974 1465.5h1.3M923 1472.5h1.3M935.5 1360.5h1.3M904.5 1427.5h1.3M979 1395h1.3M892.5 1404h1.3M976.5 1379.5h1.3M912.5 1383h1.3M969 1381h1.3M979.5 1396.5h1.3M907.5 1410.5h1.3M968 1386h1.3M933 1488.5h1.3M968.5 1377.5h1.3M909 1467.5h1.3M972.5 1466.5h1.3M909 1407.5h1.3M969.5 1464.5h1.3M901.5 1427.5h1.3M963.5 1471.5h1.3M981.5 1394.5h1.3M960.5 1365.5h1.3M905 1440.5h1.3M983 1442.5h1.3M970 1390.5h1.3M941 1497.5h1.3M924 1473.5h1.3M985 1418h1.3M986.5 1445h1.3M986 1416.5h1.3M988 1431h1.3M980.5 1406h1.3M899 1425h1.3M982 1455.5h1.3M965.5 1481.5h1.3M928.5 1475h1.3M996 1441.5h1.3M953 1472.5h1.3M986 1476h1.3M905.5 1414h1.3M964.5 1373h1.3M954.5 1479.5h1.3M979.5 1450h1.3M921 1468h1.3M900.5 1403h1.3M980 1397h1.3M906.5 1439.5h1.3M914.5 1397.5h1.3M994 1438.5h1.3M959 1479.5h1.3M927 1471h1.3M986.5 1436h1.3M902.5 1450.5h1.3M982 1456.5h1.3M930 1478h1.3M985.5 1413.5h1.3M918 1382h1.3M898.5 1458h1.3M969.5 1379.5h1.3M985 1435h1.3M922.5 1471.5h1.3M975.5 1403.5h1.3M902 1415h1.3M984.5 1416.5h1.3M968 1380.5h1.3M987.5 1422.5h1.3M975.5 1380.5h1.3M901.5 1446.5h1.3M927.5 1366.5h1.3M909 1405h1.3M982.5 1466.5h1.3M912.5 1455h1.3M901 1422.5h1.3M913 1403.5h1.3M942 1475.5h1.3M990.5 1424.5h1.3M964.5 1468h1.3M978.5 1354.5h1.3M913 1406h1.3M965.5 1367.5h1.3M959.5 1365h1.3M941.5 1475.5h1.3M902.5 1425h1.3M902.5 1426h1.3M985 1440h1.3M948.5 1478.5h1.3M968 1478.5h1.3M917.5 1487.5h1.3M977 1401h1.3M985 1437.5h1.3M982 1411.5h1.3M903.5 1435h1.3M904.5 1430.5h1.3M985 1437h1.3M909.5 1450h1.3M910.5 1390.5h1.3M929 1481h1.3M915 1462.5h1.3M905.5 1446.5h1.3M983 1417.5h1.3M983.5 1451h1.3M927.5 1486.5h1.3M903 1421h1.3M968 1371.5h1.3M947 1474.5h1.3M901 1417h1.3M901 1450.5h1.3M908 1450.5h1.3M949.5 1475.5h1.3M988.5 1407.5h1.3M931 1368.5h1.3M904.5 1428h1.3M916.5 1460h1.3M973.5 1461h1.3M957.5 1477.5h1.3M982.5 1444.5h1.3M972.5 1463h1.3M929 1479h1.3M901 1424.5h1.3M909 1384h1.3M916 1465h1.3M921.5 1481h1.3M973 1491.5h1.3M953 1311.5h1.3M906.5 1407h1.3M917.5 1468.5h1.3M952 1473h1.3M980.5 1449h1.3M979.5 1401.5h1.3M910.5 1464h1.3M990 1398.5h1.3M910 1401.5h1.3M909 1409.5h1.3M951 1475.5h1.3M913.5 1401.5h1.3M974.5 1400.5h1.3M952.5 1356.5h1.3M901 1429h1.3M930 1470.5h1.3M972 1384h1.3M915.5 1462.5h1.3M945 1339h1.3M916.5 1395h1.3M961.5 1361h1.3M982.5 1412.5h1.3M967.5 1375.5h1.3M985.5 1413h1.3M938.5 1350h1.3M921.5 1361h1.3M931 1360.5h1.3M924.5 1370.5h1.3M968.5 1378h1.3M930.5 1363.5h1.3M902.5 1412h1.3M967 1353.5h1.3M962 1370.5h1.3M953.5 1356h1.3M940 1349.5h1.3M949.5 1328.5h1.3M917.5 1369.5h1.3M974 1376.5h1.3M918.5 1384h1.3M964 1374h1.3M920 1391.5h1.3M963.5 1329.5h1.3M981.5 1382.5h1.3M919.5 1386.5h1.3M964.5 1376h1.3M905.5 1400h1.3M977.5 1402.5h1.3M979 1399h1.3M918.5 1385.5h1.3M943.5 1348.5h1.3M968 1369.5h1.3M958 1356h1.3M951.5 1356h1.3M915.5 1393.5h1.3M948 1329.5h1.3M950.5 1320.5h1.3M986.5 1422.5h1.3M932 1364.5h1.3M967.5 1381h1.3M968.5 1384.5h1.3M967.5 1364h1.3M931 1367.5h1.3M919.5 1367.5h1.3M948.5 1317h1.3M933 1350h1.3M949.5 1319h1.3M937 1355.5h1.3M969 1384h1.3M925 1370.5h1.3M924 1377.5h1.3M910.5 1407.5h1.3M952 1351.5h1.3M921.5 1383.5h1.3M905 1420h1.3M970 1348.5h1.3M960 1352h1.3M975.5 1375h1.3M922 1372.5h1.3M956 1346.5h1.3M981 1412h1.3M975.5 1383h1.3M980 1400.5h1.3M961.5 1342h1.3M953.5 1333.5h1.3M925.5 1350h1.3M942 1355h1.3M956.5 1355h1.3M971.5 1378.5h1.3M951 1352.5h1.3M967 1368.5h1.3M944.5 1354h1.3M984.5 1422h1.3M922.5 1370.5h1.3M976 1390h1.3M934.5 1364h1.3M967 1371h1.3M911.5 1392.5h1.3M972 1390h1.3M921.5 1385h1.3M969.5 1382h1.3M967 1365h1.3M912.5 1406.5h1.3M968 1382.5h1.3M929 1369h1.3M960 1354h1.3M938 1348h1.3M921 1388.5h1.3M925.5 1369.5h1.3M965 1284h1.3M955 1265.5h1.3M959.5 1270h1.3M970.5 1253.5h1.3M955 1285.5h1.3M956.5 1349.5h1.3M930 1340h1.3M951.5 1278h1.3M939.5 1267h1.3M960.5 1303.5h1.3M933 1308h1.3M942.5 1329h1.3M944 1260.5h1.3M960.5 1326.5h1.3M955 1317h1.3M936 1358h1.3M931 1314.5h1.3M940 1318.5h1.3M941.5 1287h1.3M934 1325.5h1.3M955 1286.5h1.3M956 1278h1.3M952 1228.5h1.3M943.5 1286.5h1.3M931 1321.5h1.3M970 1350h1.3M954 1246h1.3M954 1312.5h1.3M947.5 1238h1.3M961 1311h1.3M972.5 1267h1.3M946.5 1264h1.3M956.5 1288h1.3M949 1241.5h1.3M953 1293.5h1.3M967 1280h1.3M962.5 1318.5h1.3M949 1316h1.3M955.5 1267h1.3M960 1291h1.3M941.5 1355.5h1.3M950.5 1304h1.3M973.5 1296h1.3M941 1230.5h1.3M961 1245h1.3M958.5 1301h1.3M952.5 1316h1.3M937 1319h1.3M960.5 1328h1.3M954.5 1271.5h1.3M968.5 1269.5h1.3M948.5 1306.5h1.3M955 1305.5h1.3M949.5 1291.5h1.3M981 1211.5h1.3M965 1316h1.3M959 1265h1.3M970.5 1238h1.3M940 1329.5h1.3M954 1258h1.3M943 1331.5h1.3M967.5 1306h1.3M943.5 1283.5h1.3M968.5 1244.5h1.3M949 1320.5h1.3M944 1321h1.3M954 1311.5h1.3M958.5 1309h1.3M954.5 1256.5h1.3M951 1247.5h1.3M920.5 1319.5h1.3M958.5 1290.5h1.3M934.5 1308h1.3M947.5 1282.5h1.3M959.5 1219.5h1.3M929.5 1348h1.3M953 1298.5h1.3M957 1305.5h1.3M965 1310h1.3M939.5 1310h1.3M944.5 1296h1.3M952.5 1332.5h1.3M955 1329h1.3M965.5 1252h1.3M957 1275.5h1.3M953.5 1293h1.3M952 1311h1.3M962 1261h1.3M947.5 1291h1.3M934.5 1295h1.3M954 1289h1.3M939.5 1288.5h1.3M943 1255.5h1.3M961 1308.5h1.3M960.5 1286h1.3M955 1307.5h1.3M961 1290h1.3M946.5 1282h1.3M958 1284h1.3M949.5 1321.5h1.3M935 1292.5h1.3M935 1331.5h1.3M968.5 1208.5h1.3M943.5 1311.5h1.3M945.5 1305h1.3M961.5 1353h1.3M951 1246h1.3M947.5 1301h1.3M960 1364h1.3M939 1271.5h1.3M945.5 1292.5h1.3M965 1322.5h1.3M936.5 1309h1.3M959 1319.5h1.3M957.5 1277.5h1.3M953.5 1281.5h1.3M942.5 1261h1.3M945 1309h1.3M938.5 1294h1.3M944 1256.5h1.3M948 1332.5h1.3M961 1279h1.3M932 1283.5h1.3M965.5 1255.5h1.3M928.5 1331.5h1.3M948.5 1300h1.3M975.5 1239.5h1.3M954 1335h1.3M948 1237.5h1.3M944 1340h1.3M968 1266.5h1.3M950.5 1299h1.3M964.5 1301.5h1.3M958.5 1278h1.3M982 1347.5h1.3M962 1279.5h1.3M925 1337h1.3M962 1244.5h1.3M962.5 1294h1.3M955.5 1320h1.3M949.5 1277h1.3M973 1252.5h1.3M950 1291h1.3M947.5 1275h1.3M957.5 1217h1.3M954.5 1257h1.3M970.5 1292h1.3M944 1273h1.3M920.5 1352.5h1.3M944 1286.5h1.3M934.5 1294h1.3M952 1288.5h1.3M953 1252.5h1.3M959.5 1304h1.3M971.5 1263.5h1.3M944 1322.5h1.3M957.5 1313h1.3M968.5 1215.5h1.3M959.5 1295h1.3M941 1332.5h1.3M942.5 1264h1.3M957 1236.5h1.3M950 1326h1.3M955 1297.5h1.3M946.5 1293h1.3M934 1314h1.3M950 1297h1.3M964 1281h1.3M968 1328h1.3M954.5 1255.5h1.3M942 1320h1.3M958 1354.5h1.3M976 1260h1.3M932 1359h1.3M961.5 1261h1.3M946 1298.5h1.3M945.5 1314.5h1.3M953 1296.5h1.3M957 1327.5h1.3M935.5 1339h1.3M942 1283.5h1.3M940 1322.5h1.3M964.5 1282h1.3M953 1317h1.3M941 1333h1.3M973 1288.5h1.3M963 1312.5h1.3M965 1329.5h1.3M955 1316.5h1.3M960 1342.5h1.3M971 1267h1.3M979 1308.5h1.3M952 1312h1.3M943 1292.5h1.3M940.5 1277.5h1.3M944.5 1275h1.3M951.5 1273.5h1.3M965 1272h1.3M946 1305.5h1.3M939 1298h1.3M960 1285h1.3M955 1282h1.3M968 1257h1.3M946 1294.5h1.3M949 1291h1.3M945.5 1305.5h1.3M951 1289.5h1.3M941.5 1334.5h1.3M940.5 1258.5h1.3M967 1268h1.3M953 1237.5h1.3M965 1289.5h1.3M976.5 1229.5h1.3M951 1302.5h1.3M947 1258.5h1.3M948.5 1300.5h1.3M955 1269h1.3M944 1266.5h1.3M969 1294h1.3M947.5 1258h1.3M951.5 1272.5h1.3M956 1277h1.3M972 1340h1.3M945.5 1309h1.3M930.5 1329.5h1.3M943.5 1297.5h1.3M960 1318h1.3M935 1338h1.3M952.5 1293.5h1.3M942 1327.5h1.3M951.5 1230.5h1.3M942 1291.5h1.3M951.5 1312h1.3M944 1332h1.3M952 1318.5h1.3M929 1342h1.3M941.5 1326.5h1.3M946.5 1309.5h1.3M938.5 1341.5h1.3M959.5 1291h1.3M946.5 1283h1.3M953.5 1314h1.3M943.5 1353h1.3M938.5 1307.5h1.3M958 1336.5h1.3M935.5 1336h1.3M953 1338h1.3M950 1323.5h1.3M945 1341h1.3M949 1331h1.3M961 1344h1.3M952 1314h1.3M945 1312.5h1.3M938.5 1319.5h1.3M928 1347h1.3M954 1344.5h1.3M952 1333h1.3M956.5 1338.5h1.3M952 1323h1.3M944 1329.5h1.3M944.5 1331.5h1.3M940.5 1339h1.3M951.5 1309.5h1.3M946.5 1329.5h1.3M954 1350.5h1.3M935.5 1335.5h1.3M952.5 1344h1.3M934 1326.5h1.3M954.5 1342.5h1.3M946.5 1323.5h1.3M952 1341h1.3M936 1338h1.3M944.5 1353h1.3M943.5 1320.5h1.3M953 1328.5h1.3M937 1334h1.3M937.5 1354.5h1.3M952 1339h1.3M955 1336.5h1.3M938 1342.5h1.3M955.5 1347.5h1.3M942.5 1341.5h1.3M957 1337.5h1.3M938.5 1332.5h1.3M944 1345h1.3M935.5 1333h1.3M948 1327h1.3M955 1311.5h1.3M941 1323.5h1.3M954 1344h1.3M954 1331.5h1.3M943 1335.5h1.3M933.5 1322h1.3M958 1342.5h1.3M939 1325h1.3M955.5 1336h1.3M940.5 1328h1.3M940.5 1342.5h1.3M958 1340.5h1.3M959 1350.5h1.3M940.5 1316h1.3M957.5 1331h1.3M944.5 1333h1.3M933 1331h1.3M948.5 1329.5h1.3M927.5 1330.5h1.3M945.5 1334h1.3M944 1312h1.3M943 1330.5h1.3M957 1322.5h1.3M938 1331h1.3M936.5 1346.5h1.3M944 1346.5h1.3M928.5 1362.5h1.3M932 1335h1.3M962.5 1333h1.3M952.5 1345.5h1.3M943.5 1344.5h1.3M942 1345h1.3M934 1320.5h1.3M936.5 1345.5h1.3M952.5 1350h1.3M935 1335.5h1.3M952.5 1317.5h1.3M939.5 1334.5h1.3M958 1322.5h1.3M954.5 1334h1.3M943 1332h1.3M953 1330.5h1.3M950.5 1329h1.3M945 1334h1.3M947 1327.5h1.3M952 1334h1.3M963.5 1330.5h1.3M945.5 1335h1.3M949 1333h1.3M962 1354.5h1.3M942.5 1334h1.3M952 1324.5h1.3M938 1340.5h1.3M944.5 1325h1.3M945.5 1333h1.3M942 1335.5h1.3M941 1338.5h1.3M933.5 1315h1.3M951 1323h1.3M962.5 1323h1.3M940.5 1335h1.3M955.5 1327.5h1.3M939 1346.5h1.3M946 1321h1.3M956.5 1332h1.3M941.5 1338.5h1.3M923.5 1322h1.3M943 1352h1.3M951 1348h1.3M938 1321.5h1.3M944.5 1328.5h1.3M949.5 1332h1.3M952 1331.5h1.3M942.5 1344h1.3M959.5 1340.5h1.3M942 1350h1.3M941 1351.5h1.3M943.5 1328h1.3M940 1318h1.3M943 1332.5h1.3M950.5 1331.5h1.3M1024 1450.5h1.3M999 1418h1.3M1020.5 1416.5h1.3M971 1384h1.3M1004 1395h1.3M994 1464.5h1.3M1010 1380.5h1.3M1003 1432.5h1.3M989.5 1381.5h1.3M983.5 1385.5h1.3M995 1378h1.3M985 1379h1.3M1039.5 1405.5h1.3M977.5 1401.5h1.3M1002.5 1367h1.3M1001.5 1374h1.3M1007.5 1406.5h1.3M988 1391.5h1.3M983 1363h1.3M996 1439h1.3M999 1436.5h1.3M1003 1411.5h1.3M997.5 1372.5h1.3M977.5 1390h1.3M1005.5 1398.5h1.3M993.5 1410.5h1.3M1004 1366.5h1.3M973.5 1381.5h1.3M1020.5 1398h1.3M996 1471.5h1.3M993 1406.5h1.3M995.5 1380h1.3M1027.5 1384h1.3M974.5 1393h1.3M998.5 1460.5h1.3M988.5 1433.5h1.3M986.5 1401h1.3M1015.5 1404h1.3M1008 1393.5h1.3M1016.5 1396.5h1.3M1011 1432h1.3M1013.5 1418.5h1.3M985.5 1387.5h1.3M1014.5 1397h1.3M989 1426h1.3M1005.5 1468h1.3M996 1438.5h1.3M982 1400h1.3M984 1423h1.3M1012 1465.5h1.3M1055 1391h1.3M993 1434h1.3M1006 1418.5h1.3M1002 1433h1.3M987 1407.5h1.3M989.5 1417h1.3M1025 1402.5h1.3M1002 1435.5h1.3M999.5 1413.5h1.3M1029.5 1441.5h1.3M987 1442h1.3M976.5 1363h1.3M999 1389.5h1.3M984 1382.5h1.3M993.5 1375h1.3M1010.5 1417.5h1.3M992.5 1390.5h1.3M980 1410.5h1.3M976.5 1382h1.3M994.5 1396h1.3M993.5 1377.5h1.3M1002.5 1426h1.3M1004 1397.5h1.3M981 1404h1.3M1010.5 1431h1.3M1004 1366h1.3M978 1406.5h1.3M992 1410.5h1.3M1003 1395h1.3M969 1361h1.3M1020.5 1373.5h1.3M976 1394h1.3M1002 1425h1.3M994.5 1436.5h1.3M1015.5 1365.5h1.3" fill="none" stroke="#2e2e2e" stroke-width="1.3"/>
<path d="M944.5 1356.6L944.8 1356.6L945 1355.4L945.3 1350L945.5 1344.6L945.8 1339.2L946.1 1333.8L947.2 1333.8L947.2 1333.8L948.9 1333.9L948.9 1333.9L950.5 1334L951.7 1334.1L951.4 1339.4L951.2 1344.8L950.9 1350.2L950.7 1355.6L950.7 1357.2L951 1357.3L951.3 1357.4L952.1 1357.8L952.7 1358.2L955.9 1361.1L957.8 1363.8L959.1 1365.9L961.6 1371.1L961.6 1371.2L963.6 1376.3L964.4 1378.5L965.2 1380.9L966.5 1384.6L966.7 1385L968.1 1388.5L968.5 1389.6L969.4 1391.7L970.3 1393.9L970.6 1394.6L971.7 1397.3L971.9 1397.8L972.7 1399.8L973.3 1401.4L974.8 1404.6L976.3 1407.6L978 1410.5L979.6 1413.4L980.9 1416.5L981.9 1419.7L982.7 1423L983.3 1426.4L983.4 1429.8L983.1 1433.2L982.6 1436.5L981.9 1439.9L981.2 1443.2L980.3 1446.7L979.1 1450L977.3 1453.2L975.2 1456.1L972.9 1458.8L970.4 1461.5L967.6 1464L964.6 1466.1L961.3 1467.8L957.9 1469.3L954.3 1470.7L950.7 1471.7L946.9 1472.3L943.1 1472.2L939.3 1471.7L935.6 1470.8L932 1469.8L928.6 1468.4L925.3 1466.6L922.4 1464.3L919.7 1461.7L917.3 1459L915 1456.3L913.1 1453.3L911.5 1450.2L910.2 1447L909 1443.8L907.9 1440.7L906.9 1437.5L906.3 1434.1L906.2 1430.8L906.4 1427.5L906.8 1424.2L907.5 1421L908.6 1417.8L910 1414.9L911.6 1412.1L913.2 1409.3L914.6 1406.4L916.1 1403.4L917.6 1400.2L919 1397.4L919.3 1396.8L920.3 1394.9L921.1 1393.1L921.5 1392.1L922.8 1389L922.9 1388.7L924.1 1385.5L925 1383.4L925.7 1381.6L927.5 1377.5L927.5 1377.3L929.7 1372.8L930.8 1370.9L932.4 1368L935 1364.1L935.5 1363.4L939.2 1359.4L940.4 1358.6L943.4 1357L944.2 1356.7ZM944.7 1381.1L946.6 1381.2L949 1381.7L949.5 1381.9L952.1 1383.4L952.8 1383.9L954.5 1385.4L956.1 1387.3L956.6 1387.9L958.4 1390.4L958.8 1391.1L960 1392.9L961.1 1394.6L961.5 1395.3L962.8 1397.4L963.1 1397.8L964.2 1399.3L965.1 1400.6L965.5 1401.2L966.7 1403L966.9 1403.2L967.9 1404.7L968.5 1405.8L970 1408.5L971.5 1411L973 1413.5L974.5 1416L975.9 1418.6L976.9 1421.4L977.6 1424.3L978 1427.3L978.1 1430.4L977.9 1433.4L977.3 1436.4L976.5 1439.3L975.8 1442.3L974.9 1445.3L973.9 1448.4L972.5 1451.3L970.6 1454L968.4 1456.4L965.9 1458.7L963.3 1460.7L960.4 1462.4L957.3 1463.8L954.1 1464.9L950.9 1465.8L947.5 1466.5L944.1 1466.8L940.7 1466.5L937.4 1465.6L934.2 1464.5L931.1 1463.3L928.1 1461.8L925.3 1460L922.9 1457.8L920.7 1455.4L918.7 1452.8L917 1450.1L915.6 1447.3L914.5 1444.4L913.7 1441.5L912.8 1438.6L912 1435.8L911.3 1432.8L911.1 1429.9L911.2 1426.9L911.8 1424L912.7 1421.1L913.9 1418.4L915.3 1415.9L916.8 1413.5L918.4 1411.2L919.9 1408.8L921.4 1406.3L922.9 1403.7L923.5 1402.8L924.7 1401.1L924.7 1401L925.9 1399.2L926.6 1398.3L927.3 1397.3L928.6 1395.2L928.7 1395.2L930.2 1392.9L930.9 1391.8L931.9 1390.5L933.6 1388.3L933.7 1388.1L935.9 1385.7L936.8 1384.9L938.3 1383.7L940.6 1382.3L940.9 1382.1L943.8 1381.2ZM944.6 1386.9L946.4 1386.9L948.8 1387.3L948.9 1387.4L951.2 1388.4L952.6 1389.3L953.4 1389.9L955.4 1391.8L955.8 1392.3L957.1 1394L958.4 1395.9L958.6 1396.2L959.8 1398.4L960.5 1399.5L961 1400.5L962.1 1402.4L962.3 1402.7L963.2 1404.1L964.2 1405.3L964.4 1405.6L965.5 1407.1L966 1407.8L967.5 1410.4L968.9 1413L970.3 1415.5L971.7 1418.1L973 1420.7L973.9 1423.6L974.5 1426.5L975.1 1429.5L975.4 1432.7L975.2 1435.8L974.3 1438.8L973 1441.7L971.7 1444.6L970.4 1447.5L968.7 1450.3L966.7 1452.9L964.3 1455.2L961.8 1457.4L959 1459.4L955.9 1460.8L952.6 1461.7L949.3 1462.4L945.9 1463L942.5 1463.3L939 1462.8L935.8 1461.6L932.7 1460.1L929.8 1458.4L927.1 1456.5L924.7 1454.4L922.4 1452L920.3 1449.6L918.4 1447.1L916.8 1444.3L916 1441.2L915.5 1438.1L915.1 1435.1L914.7 1432.1L914.4 1429.2L914.7 1426.2L915.5 1423.3L916.6 1420.6L917.8 1418L919.3 1415.5L920.9 1413.2L922.4 1410.9L923.7 1408.2L925.1 1405.3L925.2 1405L926.2 1403.2L926.7 1402.4L927.4 1401.5L928.7 1399.8L928.9 1399.7L930.1 1398.2L931.3 1396.9L931.6 1396.5L933.2 1394.6L933.9 1393.9L935 1392.7L936.9 1390.8L937 1390.7L939 1389.1L940.6 1388.1L941.4 1387.8L943.8 1387ZM946 1391.3L946.2 1391.3L948.4 1391.7L949.9 1392.3L950.5 1392.7L952.4 1394.3L953.2 1395.2L954.1 1396.2L955.6 1398L956 1398.4L957.1 1399.6L958.5 1401.1L958.5 1401.2L959.8 1402.5L960.8 1403.7L961 1404L962.2 1405.5L962.8 1406.4L963.2 1407L964.1 1408.5L964.5 1409.1L966.2 1411.6L967.9 1414.1L969.3 1416.7L970.3 1419.5L971.3 1422.3L972.3 1425.2L972.9 1428.3L972.6 1431.3L971.8 1434.3L971 1437.2L970.3 1440.2L969.2 1443.1L967.7 1445.9L966 1448.6L964.3 1451.4L962 1454L959.3 1455.9L956.3 1457.5L953.3 1459.1L950 1460.6L946.6 1461.4L943 1461.2L939.6 1460.5L936.2 1459.4L933.1 1457.9L930.4 1455.7L928 1453.4L925.6 1451.3L923.4 1449L921.7 1446.3L920.6 1443.3L919.6 1440.4L918.4 1437.7L917.5 1434.9L917 1431.9L916.9 1428.9L916.8 1425.9L917.3 1423L918.5 1420.2L920.2 1417.7L921.6 1415.3L922.8 1412.6L924.3 1410L926.1 1407.6L926.8 1406.9L927.9 1405.6L928.2 1405.3L929 1404.1L930.2 1402.6L930.2 1402.6L931.4 1401L932.5 1399.7L932.8 1399.4L934.3 1397.8L935.2 1397L935.9 1396.4L937.7 1395L938.4 1394.5L939.6 1393.6L941.7 1392.4L942 1392.3L943.9 1391.6ZM947.3 1399.3L950.6 1400.2L953.7 1401.5L956.5 1403.5L958.7 1406.1L960.5 1408.8L962.2 1411.2L964 1413.5L965.7 1415.8L967.4 1418.2L968.9 1420.8L970.1 1423.6L970.6 1426.6L970.4 1429.7L970.1 1432.7L969.7 1435.7L968.8 1438.6L967.4 1441.4L965.9 1444L964.3 1446.7L962.5 1449.4L960.3 1451.9L957.9 1454.3L955.1 1456.5L951.9 1457.9L948.4 1458.5L944.9 1458.5L941.4 1458.2L938.1 1457.4L934.9 1456.1L932 1454.3L929.4 1452.3L927 1450L925.1 1447.4L923.4 1444.8L921.9 1442.1L920.6 1439.3L919.9 1436.4L919.7 1433.4L919.6 1430.5L919.5 1427.6L919.7 1424.7L920.3 1421.8L921.3 1419.1L922.5 1416.4L924.1 1414L926.1 1411.9L928 1409.7L929.9 1407.3L932 1404.9L934.5 1402.9L937.4 1401.2L940.5 1399.8L943.9 1399.2ZM945.2 1401.6L948.6 1402.2L951.8 1403.2L954.6 1405L957 1407.2L959.4 1409.3L961.5 1411.5L963.1 1414.1L964.4 1416.7L966 1419.2L967.4 1421.9L968.1 1424.8L968.4 1427.8L968.5 1430.9L968.2 1433.9L967.3 1436.8L966.3 1439.7L965.2 1442.7L963.5 1445.4L961.3 1447.7L959 1450L956.6 1452.4L953.7 1454.4L950.5 1455.7L947.1 1456.8L943.5 1457.2L940 1456.5L936.8 1455L933.7 1453.3L931 1451.3L928.8 1448.8L927 1446L925.2 1443.5L923.6 1440.9L922.5 1438.1L921.7 1435.2L920.8 1432.4L920.4 1429.4L920.9 1426.4L921.8 1423.6L922.7 1420.8L923.9 1418.2L925.5 1415.8L927.1 1413.4L928.7 1410.8L930.7 1408.4L933 1406.3L935.6 1404.2L938.5 1402.3L941.8 1401.4ZM946.9 1403.1L950.1 1404.4L953 1406.2L955.6 1408.2L957.6 1410.6L959.4 1413.1L961.2 1415.3L963.1 1417.5L964.6 1420L965.8 1422.7L966.7 1425.6L967 1428.6L966.9 1431.6L966.8 1434.7L966.3 1437.9L965 1440.8L963.1 1443.4L961.1 1445.8L958.8 1448.1L956.2 1450L953.3 1451.8L950.3 1453.3L947 1454.1L943.6 1454.3L940.1 1454.2L936.7 1453.5L933.7 1451.8L931.1 1449.5L928.9 1447L927 1444.3L925.5 1441.6L924.1 1438.9L923 1436.1L922.5 1433.1L922.5 1430.1L922.7 1427.2L923.3 1424.3L924.4 1421.7L925.8 1419.2L927.2 1416.8L928.7 1414.5L930.3 1412L932 1409.2L934.1 1406.3L936.8 1404.3L940.1 1403.1L943.5 1402.6ZM944.5 1404.8L947.9 1404.8L951.2 1405.7L954 1407.7L956.3 1410.2L958.1 1412.9L959.6 1415.5L961.3 1417.8L963.2 1420.1L964.5 1422.8L965.1 1425.7L965.2 1428.7L965 1431.6L964.6 1434.6L963.8 1437.6L962.7 1440.4L961 1443.1L959.1 1445.7L957.1 1448.5L954.5 1450.9L951.3 1452.4L947.8 1453L944.3 1452.8L940.9 1452.1L937.7 1451L934.7 1449.6L932.2 1447.5L930 1445.1L928.1 1442.6L926.3 1440.1L925 1437.4L924.1 1434.5L923.8 1431.5L923.9 1428.5L924.1 1425.6L924.6 1422.7L925.7 1420L927.5 1417.6L929.4 1415.5L931.3 1413.4L933.3 1411.2L935.4 1408.8L938 1406.6L941.1 1405.3ZM946.4 1405.7L949.8 1406.4L952.7 1408.7L954.9 1411.4L956.8 1413.9L958.5 1416.3L960.3 1418.5L962.1 1420.9L963.1 1423.6L963.6 1426.6L963.8 1429.5L963.6 1432.5L962.9 1435.4L962 1438.4L960.8 1441.3L959.1 1444.2L957.1 1447L954.3 1449.1L951 1450.2L947.6 1450.7L944.2 1450.8L940.8 1450.3L937.6 1449.3L934.7 1447.8L932.2 1445.6L930 1443.3L928 1440.8L926.7 1438L926 1435L925.4 1432.1L925.1 1429.2L925.1 1426.2L925.6 1423.2L927.1 1420.6L929.2 1418.5L931 1416.4L932.7 1414.2L934.6 1411.8L936.9 1409.4L939.6 1407.2L942.9 1406ZM946.1 1407.6L949.4 1408.8L952.2 1410.7L954.3 1413.4L956.2 1415.7L957.9 1418.1L959.5 1420.4L961.9 1422.6L963.3 1425.4L963.1 1428.6L962.7 1431.6L961.8 1434.6L960.7 1437.4L959.7 1440.5L957.7 1443L955.2 1445.2L952.8 1447.6L949.6 1449L946.1 1449.3L942.7 1449.4L939.4 1448.4L936.2 1447.3L933.1 1446L930.9 1443.3L929.5 1440.3L928.1 1437.4L927.6 1434.4L927.1 1431.5L926.7 1428.6L927.4 1425.8L927.9 1423L928.7 1420.1L930.6 1417.9L932.5 1415.7L934.4 1413.4L936.7 1411.2L939.3 1408.6L942.6 1407.1ZM946.3 1408.7L949.6 1410.4L952.3 1412.4L954.4 1415L955.9 1417.8L957.6 1420L959.4 1422.3L961.1 1424.9L962.1 1427.9L961.5 1431L960.9 1434.1L960 1437.1L958.3 1439.8L956.5 1442.6L953.9 1444.7L951 1446.6L947.8 1448L944.3 1447.8L940.9 1447.1L937.7 1446.2L934.7 1444.5L932 1442.6L930.2 1439.8L929.2 1436.7L928.1 1433.8L928 1430.7L928.2 1427.8L928.7 1424.9L929.9 1422.3L930.9 1419.6L932.7 1417.3L934.8 1415.2L936.8 1412.6L939.5 1410.3L942.7 1408.8ZM945.3 1410.5L948.7 1411.2L951.6 1413L953.7 1415.6L955.4 1418.2L957.3 1420.4L958.5 1423L959.2 1425.8L959.7 1428.7L959.8 1431.6L959.7 1434.8L958.2 1437.5L956.5 1440.2L954.6 1443L951.8 1444.9L948.6 1446.2L945.2 1446.4L941.8 1446.3L938.5 1445.3L936 1443L933.7 1440.8L931.7 1438.5L930 1436L929 1433.1L929 1430L928.9 1427.1L929.7 1424.2L931.4 1421.9L933.1 1419.7L934.8 1417.4L936.4 1414.6L938.9 1412.4L942 1411.2ZM945.6 1411.8L948.9 1412.9L951.4 1415.4L953.7 1417.5L955.2 1420.2L956.8 1422.6L957.9 1425.3L958.6 1428.1L958.8 1431.1L958 1434.1L957.4 1437.4L955.4 1440L953 1442.4L949.9 1443.7L946.7 1444.8L943.2 1445L940 1443.9L936.9 1442.6L934.7 1440.2L932.4 1437.9L931.4 1435L930.3 1432.1L929.8 1429.1L930.5 1426.1L931.7 1423.5L933.7 1421.4L934.9 1418.8L936.9 1416.6L939.1 1413.9L942.1 1412ZM945.7 1413.7L948.8 1415.1L951.1 1417.7L953.5 1419.5L955.4 1421.8L957 1424.4L957.3 1427.4L957.6 1430.5L956.7 1433.5L955.8 1436.5L953.8 1439.1L951.4 1441.5L948.2 1442.5L944.9 1443.7L941.3 1443.6L938.1 1442.3L935.7 1439.6L933.8 1437L932.8 1434.1L932 1431.2L931.5 1428.3L931.9 1425.3L933.6 1422.8L935.3 1420.5L936.7 1417.7L939.1 1415.3L942.2 1413.6ZM944.6 1414.4L948 1415.7L950.6 1418.2L952.2 1421L954 1423.2L955.9 1425.7L956.3 1428.8L955.8 1431.8L955.1 1435L953.4 1437.9L950.9 1440.1L947.7 1441.7L944.2 1441.5L940.9 1441L937.7 1439.9L935.2 1437.5L933.8 1434.5L933 1431.5L933 1428.4L933.6 1425.5L934.8 1422.9L936.9 1420.9L938.7 1418.4L941.1 1415.6ZM944.6 1416.3L948 1417.7L950.5 1420L952.3 1422.5L953.8 1425.1L955.1 1428L954.4 1431.1L953.4 1434L952 1437.1L949.3 1439.3L946 1440.6L942.4 1440.1L939.4 1438.6L936.6 1436.7L935.3 1433.6L934.5 1430.7L934.2 1427.6L935.2 1424.8L936.6 1422.2L938.9 1420.1L941.3 1417.9ZM945 1418.8L948.2 1419.8L950.3 1422.4L952.3 1424.6L953.3 1427.5L953.1 1430.7L951.8 1433.5L950.1 1436.2L947.4 1438.6L943.8 1438.9L940.4 1437.8L938.1 1435.2L936.5 1432.6L936 1429.6L936 1426.6L937.1 1423.8L939.1 1421.5L941.6 1419.4ZM944.8 1420.4L947.8 1421.9L949.7 1424.3L951.2 1426.8L951.4 1429.7L950.6 1432.6L948.7 1435.3L945.7 1437L942.4 1436.3L939.6 1434.5L938.2 1431.8L937.4 1429L938 1426.1L939.4 1423.7L941.7 1421.6ZM944.7 1422.9L947 1424L948.3 1425.9L949.3 1427.8L949.2 1430L948.3 1432.1L946.6 1433.9L944.1 1434.2L941.7 1433.4L940.3 1431.5L939.6 1429.4L939.8 1427.2L940.9 1425.5L942.4 1423.7Z" fill="none" stroke="#3a3a3a" stroke-width="0.85" stroke-linejoin="round"/>
<rect x="817.5" y="1171.75" width="346.75" height="344.75" fill="none" stroke="#8c8c8c" stroke-width="1.3"/>
<rect x="1031.25" y="1168.2" width="135.5" height="182.6" fill="none" stroke="#000" stroke-width="2"/>
<text transform="translate(1154.75 1198.8)" font-size="16.3" text-anchor="end">0.010</text>
<path d="M868.2 1516.5v10M930 1516.5v10M1017.5 1516.5v10M1093.8 1516.5v10M1163.8 1516.5v10" fill="none" stroke="#000" stroke-width="2.5"/>
<path d="M991.2 1516.5v7M1070.8 1516.5v7M1142.7 1516.5v7M956.3 1516.5v4.5M971.7 1516.5v4.5M982.7 1516.5v4.5M998.1 1516.5v4.5M1003.9 1516.5v4.5M1009 1516.5v4.5M1013.5 1516.5v4.5M1040.5 1516.5v4.5M1053.9 1516.5v4.5M1063.4 1516.5v4.5M1076.8 1516.5v4.5M1081.9 1516.5v4.5M1086.4 1516.5v4.5M1090.3 1516.5v4.5M1114.8 1516.5v4.5M1127.1 1516.5v4.5M1135.9 1516.5v4.5M1148.2 1516.5v4.5M1152.9 1516.5v4.5M1157 1516.5v4.5M1160.5 1516.5v4.5M871.4 1516.5v4.5M903 1516.5v4.5M874.6 1516.5v4.5M906 1516.5v4.5M877.8 1516.5v4.5M909 1516.5v4.5M881 1516.5v4.5M912 1516.5v4.5M884.1 1516.5v4.5M915 1516.5v4.5M887.3 1516.5v4.5M918 1516.5v4.5M890.5 1516.5v4.5M921 1516.5v4.5M893.6 1516.5v4.5M924 1516.5v4.5M896.8 1516.5v4.5M927 1516.5v4.5M844.9 1516.5v4.5M827.6 1516.5v4.5" fill="none" stroke="#000" stroke-width="1.35"/>
<path d="M900 1516.5v10" fill="none" stroke="#000" stroke-width="7"/>
<text transform="translate(900 1555.3)" font-size="12.5" text-anchor="middle">0</text>
<text transform="translate(1010.56 1554.8)" font-size="13.2">10</text>
<text transform="translate(1026.84 1544)" font-size="13.2">4</text>
<text transform="translate(1086.01 1554.8)" font-size="13.2">10</text>
<text transform="translate(1102.29 1544)" font-size="13.2">5</text>
<text transform="translate(1139.01 1554.8)" font-size="13.2">10</text>
<text transform="translate(1155.29 1544)" font-size="13.2">6</text>
<path d="M1351.5 1409.5h1.3M1331 1467.5h1.3M1276 1478.5h1.3M1312.5 1505h1.3M1338.5 1443.5h1.3M1302 1333h1.3M1336.5 1483h1.3M1257 1454.5h1.3M1270 1371h1.3M1260.5 1467.5h1.3M1373 1413h1.3M1321 1368h1.3M1323.5 1472.5h1.3M1263 1395h1.3M1323 1473.5h1.3M1325 1469h1.3M1326 1342.5h1.3M1327.5 1397h1.3M1335.5 1449.5h1.3M1336.5 1416.5h1.3M1323 1385.5h1.3M1250 1412h1.3M1259.5 1399h1.3M1284 1486.5h1.3M1250 1434h1.3M1241 1476h1.3M1322.5 1372h1.3M1345 1446.5h1.3M1319 1475.5h1.3M1260 1469.5h1.3M1321 1373h1.3M1252.5 1379h1.3M1322.5 1373h1.3M1248 1432.5h1.3M1293 1333h1.3M1252.5 1419.5h1.3M1257.5 1471h1.3M1331.5 1463.5h1.3M1245 1417h1.3M1246.5 1435.5h1.3M1263 1470.5h1.3M1252 1424h1.3M1243.5 1394.5h1.3M1262.5 1396h1.3M1289.5 1339h1.3M1341 1438.5h1.3M1281.5 1497h1.3M1289 1336.5h1.3M1320.5 1365h1.3M1260.5 1407h1.3M1337.5 1453.5h1.3M1251.5 1434h1.3M1327 1480.5h1.3M1328 1466h1.3M1267.5 1396.5h1.3M1337 1445h1.3M1296 1341.5h1.3M1322 1345.5h1.3M1257 1409.5h1.3M1271.5 1479h1.3M1263 1403h1.3M1285.5 1353.5h1.3M1310 1340h1.3M1344.5 1445h1.3M1337 1417h1.3M1251.5 1418h1.3M1346 1450h1.3M1332 1390.5h1.3M1258 1407h1.3M1331 1468.5h1.3M1321.5 1373.5h1.3M1267 1396.5h1.3M1313 1479.5h1.3M1285.5 1481.5h1.3M1272 1493h1.3M1321.5 1376h1.3M1251 1453h1.3M1302.5 1487h1.3M1324.5 1473h1.3M1348.5 1480h1.3M1253 1457h1.3M1261.5 1465h1.3M1261 1404.5h1.3M1336 1448.5h1.3M1315.5 1323.5h1.3M1269 1472h1.3M1268.5 1394h1.3M1329.5 1390h1.3M1266 1397h1.3M1293.5 1488.5h1.3M1255 1455h1.3M1253 1443.5h1.3M1243 1475.5h1.3M1323.5 1389.5h1.3M1331 1399h1.3M1322.5 1382h1.3M1343.5 1400.5h1.3M1259.5 1472.5h1.3M1280.5 1481h1.3M1258 1404.5h1.3M1260 1406.5h1.3M1263 1378.5h1.3M1281.5 1363h1.3M1253 1448h1.3M1253 1415h1.3M1291.5 1484h1.3M1299 1485.5h1.3M1330 1397h1.3M1315 1342h1.3M1272 1481.5h1.3M1282.5 1485.5h1.3M1270 1385.5h1.3M1341.5 1423.5h1.3M1335.5 1399h1.3M1237.5 1418.5h1.3M1339 1433.5h1.3M1334 1372.5h1.3M1303.5 1336h1.3M1278.5 1369.5h1.3M1293.5 1343.5h1.3M1343.5 1437.5h1.3M1332 1402.5h1.3M1263 1398h1.3M1271 1390h1.3M1315 1480.5h1.3M1259 1472.5h1.3M1346 1442h1.3M1321.5 1315.5h1.3M1257 1393h1.3M1251.5 1451h1.3M1296.5 1486h1.3M1346.5 1466h1.3M1272 1385h1.3M1283 1330h1.3M1288 1330h1.3M1336.5 1459.5h1.3M1332 1457h1.3M1277 1485h1.3M1292.5 1341.5h1.3M1345 1420h1.3M1289.5 1347h1.3M1322 1478.5h1.3M1327 1397.5h1.3M1247.5 1435h1.3M1264 1398.5h1.3M1336.5 1448h1.3M1329 1398h1.3M1318 1362h1.3M1322 1383h1.3M1303 1482.5h1.3M1249.5 1422h1.3M1339.5 1454.5h1.3M1311 1484h1.3M1249.5 1457.5h1.3M1256 1411.5h1.3M1317.5 1363.5h1.3M1293.5 1330.5h1.3M1272 1387.5h1.3M1278 1372.5h1.3M1282.5 1343h1.3M1319 1360h1.3M1253 1419.5h1.3M1302.5 1324.5h1.3M1267.5 1391h1.3M1313.5 1337.5h1.3M1263.5 1393h1.3M1261 1385.5h1.3M1326.5 1398h1.3M1282 1323h1.3M1313.5 1349h1.3M1324 1380h1.3M1323 1345.5h1.3M1262 1385.5h1.3M1267.5 1366h1.3M1340 1419.5h1.3M1323 1360.5h1.3M1323 1383.5h1.3M1317 1360.5h1.3M1329 1373.5h1.3M1261 1400h1.3M1324.5 1391h1.3M1272 1365h1.3M1261 1387.5h1.3M1249 1360.5h1.3M1304.5 1328h1.3M1274 1373h1.3M1326 1378h1.3M1333.5 1367.5h1.3M1300.5 1328.5h1.3M1327.5 1379h1.3M1279.5 1363.5h1.3M1312 1335h1.3M1335.5 1397h1.3M1318.5 1355h1.3M1269 1369.5h1.3M1321.5 1379h1.3M1294 1336.5h1.3M1298 1337.5h1.3M1312.5 1350.5h1.3M1292 1341h1.3M1325.5 1371.5h1.3M1328.5 1403h1.3M1276.5 1370.5h1.3M1263.5 1368.5h1.3M1303 1324.5h1.3M1308.5 1335.5h1.3M1329.5 1389h1.3M1254 1387h1.3M1325.5 1396.5h1.3M1325 1392h1.3M1316 1342.5h1.3M1265 1369h1.3M1332.5 1411h1.3M1273 1380.5h1.3M1250.5 1426h1.3M1323 1382.5h1.3M1280 1359.5h1.3M1313.5 1334.5h1.3M1276 1362.5h1.3M1304 1336.5h1.3M1281 1352h1.3M1261 1405h1.3M1273.5 1375.5h1.3M1319 1349h1.3M1292.5 1341h1.3M1308 1342h1.3M1339 1368.5h1.3M1319 1345h1.3M1284.5 1346h1.3M1279 1349h1.3M1334 1393.5h1.3M1322 1377.5h1.3M1275 1369h1.3M1270 1390.5h1.3M1306.5 1331.5h1.3M1301.5 1333.5h1.3M1295.5 1338h1.3M1320 1370h1.3M1272 1379.5h1.3M1302 1339.5h1.3M1305 1280h1.3M1324.5 1301.5h1.3M1334.5 1268.5h1.3M1314.5 1251.5h1.3M1291.5 1266h1.3M1314.5 1237h1.3M1315 1317.5h1.3M1325 1297.5h1.3M1310 1282.5h1.3M1315 1301.5h1.3M1309.5 1320h1.3M1308 1314.5h1.3M1332 1303h1.3M1281.5 1312h1.3M1290 1294.5h1.3M1288 1350.5h1.3M1292 1284h1.3M1314 1317h1.3M1292.5 1313.5h1.3M1317.5 1261h1.3M1320.5 1313h1.3M1301 1287h1.3M1309.5 1309.5h1.3M1289 1305.5h1.3M1306.5 1279h1.3M1276 1369h1.3M1325 1333.5h1.3M1323 1303h1.3M1299 1336h1.3M1317.5 1349.5h1.3M1299.5 1292h1.3M1297 1298.5h1.3M1311 1303.5h1.3M1316 1353.5h1.3M1319.5 1332.5h1.3M1306.5 1318h1.3M1298 1285h1.3M1297.5 1331.5h1.3M1293 1279.5h1.3M1319 1278.5h1.3M1306 1268.5h1.3M1283.5 1280.5h1.3M1314.5 1319.5h1.3M1311.5 1293h1.3M1310 1287.5h1.3M1303.5 1297h1.3M1302 1288h1.3M1311 1284.5h1.3M1272 1328.5h1.3M1299.5 1264.5h1.3M1321 1332.5h1.3M1274 1338.5h1.3M1299 1260h1.3M1315.5 1290h1.3M1313 1278h1.3M1296.5 1314.5h1.3M1306.5 1317h1.3M1320 1246.5h1.3M1296 1254.5h1.3M1329.5 1319.5h1.3M1285.5 1309.5h1.3M1305 1334h1.3M1273 1312.5h1.3M1306.5 1276h1.3M1283 1280.5h1.3M1262 1397h1.3M1305.5 1281.5h1.3M1285.5 1309h1.3M1307.5 1309h1.3M1285 1306.5h1.3M1345 1273h1.3M1284 1346h1.3M1312 1279.5h1.3M1306.5 1296h1.3M1293.5 1337h1.3M1318 1311h1.3M1287.5 1319.5h1.3M1300 1312h1.3M1276 1303h1.3M1297 1313h1.3M1293.5 1244.5h1.3M1321 1275h1.3M1277.5 1314h1.3M1315 1303h1.3M1324.5 1351.5h1.3M1318 1304h1.3M1303.5 1335.5h1.3M1301.5 1340h1.3M1319.5 1328.5h1.3M1311.5 1332h1.3M1311 1267h1.3M1316 1266h1.3M1302 1317h1.3M1305 1276h1.3M1311 1276.5h1.3M1307 1310.5h1.3M1316.5 1363.5h1.3M1295 1252.5h1.3M1303.5 1313h1.3M1337 1275h1.3M1320.5 1334.5h1.3M1298 1328h1.3M1293.5 1257.5h1.3M1320.5 1350.5h1.3M1291.5 1328.5h1.3M1300.5 1316h1.3M1305 1287h1.3M1314 1295.5h1.3M1288 1326.5h1.3M1307 1304h1.3M1301.5 1246.5h1.3M1316.5 1317.5h1.3M1292 1328.5h1.3M1288.5 1269.5h1.3M1290 1306.5h1.3M1272 1330h1.3M1313.5 1281h1.3M1283.5 1304.5h1.3M1326 1330h1.3M1296 1308h1.3M1306.5 1309.5h1.3M1303 1329h1.3M1314 1330h1.3M1304.5 1290.5h1.3M1299.5 1256h1.3M1286.5 1294h1.3M1294.5 1287.5h1.3M1320.5 1321h1.3M1275 1315h1.3M1310.5 1294h1.3M1294.5 1275h1.3M1317.5 1303.5h1.3M1327 1331.5h1.3M1320.5 1322.5h1.3M1316 1306h1.3M1283 1296.5h1.3M1273.5 1282h1.3M1321.5 1292.5h1.3M1311.5 1307h1.3M1307 1327.5h1.3M1306 1293h1.3M1297.5 1302.5h1.3M1295 1260h1.3M1320 1297h1.3M1314.5 1335.5h1.3M1321.5 1288.5h1.3M1307 1315h1.3M1310.5 1270h1.3M1298.5 1288h1.3M1350.5 1260h1.3M1310 1307.5h1.3M1297.5 1295h1.3M1296 1303h1.3M1324.5 1275.5h1.3M1307 1269h1.3M1317.5 1308h1.3M1306 1294h1.3M1322.5 1257h1.3M1307.5 1222.5h1.3M1322.5 1310.5h1.3M1317.5 1288.5h1.3M1300.5 1258h1.3M1309.5 1278h1.3M1303.5 1305.5h1.3M1315 1287h1.3M1304 1308h1.3M1322.5 1301h1.3M1302.5 1284.5h1.3M1288 1334.5h1.3M1299.5 1286h1.3M1318 1309.5h1.3M1301 1316.5h1.3M1302 1280h1.3M1323.5 1284h1.3M1310 1289.5h1.3M1314 1281.5h1.3M1313.5 1287h1.3M1300.5 1318.5h1.3M1309 1277h1.3M1310.5 1309.5h1.3M1318 1252.5h1.3M1308.5 1318.5h1.3M1297.5 1317.5h1.3M1294 1286h1.3M1310 1279h1.3M1296.5 1304h1.3M1275 1350h1.3M1313 1290.5h1.3M1334.5 1315.5h1.3M1299 1331h1.3M1295.5 1304h1.3M1303.5 1331.5h1.3M1266.5 1300.5h1.3M1302.5 1322.5h1.3M1311.5 1311h1.3M1303.5 1315h1.3M1320.5 1317.5h1.3M1265 1249h1.3M1304 1275h1.3M1301.5 1275h1.3M1318 1270.5h1.3M1285 1281.5h1.3M1290 1283h1.3M1291 1316.5h1.3M1305.5 1263.5h1.3M1310 1254h1.3M1301.5 1284h1.3M1287.5 1307h1.3M1291.5 1269.5h1.3M1320 1315h1.3M1324.5 1273.5h1.3M1306 1286h1.3M1290 1269h1.3M1306 1321.5h1.3M1300 1326.5h1.3M1303.5 1315.5h1.3M1300.5 1284h1.3M1312 1244.5h1.3M1305.5 1258.5h1.3M1329.5 1243h1.3M1306 1292h1.3M1295.5 1341h1.3M1297 1306.5h1.3M1317 1310.5h1.3M1322 1265.5h1.3M1302 1271.5h1.3M1299.5 1315h1.3M1301 1253h1.3M1304 1330h1.3M1327 1345h1.3M1283.5 1356h1.3M1277.5 1263.5h1.3M1308 1278h1.3M1321 1252.5h1.3M1313 1263h1.3M1300 1311h1.3M1300.5 1326.5h1.3M1324.5 1334h1.3M1297.5 1299.5h1.3M1289.5 1331.5h1.3M1306.5 1307.5h1.3M1322 1254.5h1.3M1287 1334.5h1.3M1303 1261h1.3M1317 1282h1.3M1313.5 1295.5h1.3M1330.5 1341h1.3M1290.5 1315h1.3M1296.5 1316.5h1.3M1324.5 1370h1.3M1283.5 1311.5h1.3M1313.5 1260h1.3M1310.5 1303.5h1.3M1296.5 1331h1.3M1295.5 1326h1.3M1323.5 1297.5h1.3M1309.5 1293h1.3M1310 1303.5h1.3M1314 1246.5h1.3M1310.5 1316h1.3M1300 1289h1.3M1315.5 1274h1.3M1332 1361h1.3M1314 1310h1.3M1310.5 1307h1.3M1298.5 1313h1.3M1317.5 1312.5h1.3M1280.5 1305.5h1.3M1301.5 1294h1.3M1327 1332h1.3M1306.5 1252h1.3M1290 1320h1.3M1325.5 1320h1.3M1314.5 1299.5h1.3M1328.5 1307.5h1.3M1313 1289.5h1.3M1318 1227h1.3M1335 1320.5h1.3M1317.5 1343.5h1.3M1305 1309h1.3M1302 1326.5h1.3M1305 1279h1.3M1281.5 1330h1.3M1275 1296h1.3M1302.5 1330.5h1.3M1255 1319h1.3M1313 1309h1.3M1311 1303h1.3M1306 1266.5h1.3M1280.5 1316.5h1.3M1311.5 1325h1.3M1356.5 1376.5h1.3M1372 1408.5h1.3M1371 1438.5h1.3M1367.5 1410.5h1.3M1382 1457.5h1.3M1379 1409.5h1.3M1355.5 1434h1.3M1366.5 1436.5h1.3M1349.5 1450.5h1.3M1359 1432h1.3M1357.5 1408.5h1.3M1364 1460h1.3M1326.5 1473.5h1.3M1351.5 1412.5h1.3M1380 1409h1.3M1358 1438h1.3M1360 1387h1.3M1342 1404.5h1.3M1408.5 1407h1.3M1356 1437.5h1.3M1365.5 1382h1.3M1376 1414h1.3M1357 1406.5h1.3M1355.5 1430.5h1.3M1370.5 1456h1.3M1366 1484.5h1.3M1353 1390.5h1.3M1363.5 1443h1.3M1362 1449.5h1.3M1357.5 1497h1.3M1362 1451h1.3M1414.5 1444.5h1.3M1343 1425h1.3M1360.5 1443.5h1.3M1340.5 1443h1.3M1353 1402.5h1.3M1385 1416.5h1.3M1363 1445.5h1.3M1340.5 1416h1.3M1350 1408h1.3M1404.5 1425h1.3M1348.5 1386h1.3M1339 1430h1.3M1355 1383h1.3M1350.5 1407h1.3M1394.5 1394.5h1.3M1419 1397.5h1.3M1387 1427.5h1.3M1360.5 1428.5h1.3M1340.5 1424h1.3M1381 1429.5h1.3M1352.5 1399h1.3M1369 1421.5h1.3M1349 1405h1.3M1360 1423h1.3M1350 1418.5h1.3M1343.5 1410.5h1.3M1360 1434.5h1.3M1344 1395h1.3M1356.5 1396.5h1.3M1339 1446.5h1.3M1376 1447.5h1.3M1370.5 1395.5h1.3M1336 1408h1.3M1361 1413.5h1.3M1393.5 1414.5h1.3M1358.5 1434h1.3M1351.5 1354.5h1.3M1366.5 1449.5h1.3M1353.5 1449.5h1.3M1386 1410h1.3M1428.5 1305.5h1.3M1430 1249.5h1.3M1435.5 1273.5h1.3M1480.5 1285.5h1.3M1432.5 1281h1.3M1445 1271h1.3M1420.5 1284h1.3M1403 1321.5h1.3M1447 1331.5h1.3M1438.5 1204.5h1.3M1279 1487h1.3M1274.5 1478.5h1.3M1287 1493.5h1.3M1280 1492h1.3M1263.5 1481.5h1.3M1261 1482h1.3M1275 1489h1.3M1257.5 1472h1.3M1244 1488h1.3M1266.5 1485h1.3M1267 1489.5h1.3M1262.5 1485h1.3M1272 1494.5h1.3M1274 1494h1.3M1273.5 1488.5h1.3M1259.5 1487.5h1.3M1275 1495h1.3M1265 1491h1.3M1268.5 1491.5h1.3M1280.5 1487h1.3M1254.5 1497h1.3M1256 1477h1.3M1254.5 1482h1.3M1261.5 1491.5h1.3M1265.5 1489.5h1.3M1290 1483h1.3M1255.5 1488h1.3M1249 1480.5h1.3M1278 1481h1.3M1275 1487h1.3M1258 1500h1.3M1277 1487h1.3M1265.5 1490.5h1.3M1287.5 1492.5h1.3M1283 1491h1.3M1274 1492.5h1.3M1255 1489.5h1.3M1266 1486h1.3M1267 1484.5h1.3M1281.5 1493.5h1.3M1247.5 1482.5h1.3M1277 1481.5h1.3M1266.5 1489h1.3M1275.5 1483h1.3M1282 1511h1.3M1247.5 1496h1.3M1262.5 1479.5h1.3M1272 1490h1.3M1287 1490h1.3M1277 1479.5h1.3M1252.5 1482h1.3M1248.5 1482.5h1.3M1280 1489h1.3M1277 1502.5h1.3M1257.5 1483.5h1.3M1273.5 1485h1.3M1278.5 1481.5h1.3M1273.5 1481h1.3" fill="none" stroke="#2e2e2e" stroke-width="1.3"/>
<path d="M1300.7 1342.2L1302.9 1342.7L1305.4 1344L1309.5 1348.6L1309.8 1348.9L1312.8 1355L1314.6 1359.6L1315.3 1361.9L1317.3 1368.5L1317.7 1370.2L1318.8 1374.4L1320 1379L1320.1 1379.6L1321.2 1384.1L1321.7 1386.1L1322.2 1388.1L1323.1 1391.7L1323.1 1392L1323.9 1394.9L1324.4 1396.9L1324.7 1397.8L1325.9 1400.9L1327.6 1404.3L1329.3 1407.4L1331 1410.5L1332.5 1413.6L1333.9 1416.7L1335.3 1419.9L1336.5 1423.2L1337.2 1426.7L1337.2 1430.2L1336.8 1433.7L1336.6 1437.2L1336.3 1440.7L1335.8 1444.2L1334.7 1447.7L1333.3 1451L1331.8 1454.3L1330.2 1457.7L1328.5 1461.2L1326.4 1464.6L1323.9 1467.8L1321.1 1470.9L1318 1473.8L1314.6 1476.6L1310.9 1478.9L1306.7 1480.4L1302.4 1481.2L1298 1481.5L1293.6 1481.5L1289.2 1481.1L1284.9 1480.1L1280.8 1478.4L1277 1476.2L1273.5 1473.7L1270.1 1471.1L1267.1 1468.2L1264.4 1464.9L1262.2 1461.5L1260.2 1457.9L1258.2 1454.4L1256.5 1450.9L1255.3 1447.2L1254.5 1443.3L1254.2 1439.4L1253.9 1435.7L1253.5 1431.9L1253.3 1428.1L1253.8 1424.3L1254.9 1420.6L1256.3 1417.1L1257.9 1413.7L1259.6 1410.4L1261.6 1407.3L1263.8 1404.3L1266 1401.2L1268 1397.8L1269.9 1393.9L1270.3 1392.9L1271.5 1390L1271.8 1389.3L1272.8 1387L1274 1384.2L1274.3 1383.7L1275.8 1380L1276.6 1378.3L1277.6 1375.9L1279.5 1371L1279.6 1370.8L1281.6 1365.4L1283.3 1361.3L1284.2 1359.1L1287.4 1352.5L1288.4 1350.9L1291.4 1346.7L1295.2 1343.4L1295.9 1343ZM1299.2 1378.3L1301 1378.6L1302 1379L1304.6 1380.8L1305.3 1381.4L1306.9 1383.2L1308.8 1385.8L1309 1385.9L1310.7 1388.7L1311.7 1390.2L1312.3 1391.3L1313.8 1393.7L1314.1 1394.3L1315.1 1396.1L1316.1 1398L1316.2 1398.3L1317.4 1400.3L1317.9 1401.4L1318.4 1402.2L1319.5 1404L1319.7 1404.4L1321.4 1407.1L1322.9 1409.7L1324.4 1412.4L1325.7 1415.1L1327 1417.7L1328.4 1420.3L1329.6 1423.1L1330.6 1426L1331.2 1429L1331.4 1432.1L1331.4 1435.2L1331.3 1438.4L1330.9 1441.5L1330.2 1444.7L1329.2 1447.8L1328.1 1451L1326.8 1454.1L1325.2 1457.3L1323.2 1460.2L1320.9 1463L1318.3 1465.6L1315.5 1468.1L1312.4 1470.4L1309 1472.3L1305.3 1473.7L1301.5 1474.7L1297.6 1475.1L1293.6 1475.1L1289.7 1474.5L1285.9 1473.2L1282.4 1471.5L1279 1469.6L1275.9 1467.4L1272.9 1465.1L1270.2 1462.5L1267.9 1459.6L1265.8 1456.6L1263.9 1453.4L1262.3 1450.2L1261 1446.9L1260.1 1443.5L1259.5 1440.1L1259 1436.7L1258.7 1433.2L1258.8 1429.8L1259.4 1426.4L1260.6 1423.2L1262.2 1420.2L1263.8 1417.3L1265.6 1414.6L1267.4 1412L1269.3 1409.5L1271.2 1406.9L1273 1404.3L1274.9 1401.4L1275.6 1400.4L1276.9 1398.7L1277 1398.5L1278.3 1396.9L1279.3 1395.5L1279.7 1395L1281.3 1393.1L1281.9 1392.3L1282.9 1391.1L1284.7 1388.9L1284.7 1388.8L1286.6 1386.5L1288 1384.8L1288.7 1384L1291 1381.6L1291.8 1380.9L1293.6 1379.6L1296.3 1378.4L1296.3 1378.4ZM1298.7 1390.7L1299 1390.7L1300.9 1391.1L1302.9 1392L1302.9 1392L1304.8 1393.4L1306.2 1394.7L1306.6 1395L1308.1 1396.7L1309.1 1397.9L1309.5 1398.5L1310.9 1400.2L1311.5 1400.9L1312.1 1401.8L1313.3 1403.3L1313.7 1403.7L1314.5 1404.7L1315.6 1406L1315.7 1406.2L1316.7 1407.4L1317.7 1408.6L1319.7 1411L1321.6 1413.3L1323.4 1415.7L1325 1418.3L1326.2 1421.2L1327.1 1424.1L1327.8 1427.1L1328.2 1430.2L1328.2 1433.3L1327.9 1436.4L1327.3 1439.5L1326.6 1442.6L1325.8 1445.7L1324.7 1448.8L1323.3 1451.9L1321.7 1455.1L1319.8 1458.2L1317.6 1461.2L1314.9 1463.8L1311.8 1466L1308.4 1467.9L1304.8 1469.5L1301 1470.8L1297 1471.4L1293 1471.3L1289 1470.7L1285.2 1469.4L1281.6 1467.6L1278.4 1465.2L1275.5 1462.5L1273 1459.6L1270.7 1456.7L1268.7 1453.6L1267.1 1450.3L1266 1446.9L1265 1443.6L1264.2 1440.3L1263.5 1436.9L1263 1433.6L1262.8 1430.2L1262.9 1426.7L1263.7 1423.4L1265.1 1420.3L1267.1 1417.5L1269.2 1415L1271.2 1412.5L1273.1 1409.9L1275.1 1407.4L1277.2 1404.8L1278 1403.9L1279.3 1402.5L1279.5 1402.3L1280.6 1401.1L1281.9 1399.7L1282 1399.7L1283.4 1398.3L1284.7 1397.2L1285 1396.9L1286.7 1395.6L1287.8 1394.8L1288.4 1394.4L1290.3 1393.2L1291.2 1392.7L1292.3 1392.2L1294.3 1391.3L1295 1391.1L1296.5 1390.8ZM1298 1395.7L1298.5 1395.7L1300.4 1396L1301.8 1396.5L1302.2 1396.7L1303.9 1397.6L1305.2 1398.5L1305.6 1398.8L1307.1 1400L1308.1 1401L1308.5 1401.3L1309.8 1402.5L1310.8 1403.4L1311.1 1403.7L1312.3 1405L1313.1 1405.9L1313.4 1406.3L1314.4 1407.6L1315.1 1408.6L1315.3 1409L1316.7 1411.4L1318.5 1413.8L1320.4 1416.1L1322.3 1418.5L1323.7 1421.3L1324.7 1424.2L1325.2 1427.2L1325.3 1430.3L1324.9 1433.3L1324.4 1436.3L1324.1 1439.4L1323.8 1442.6L1323.2 1445.9L1322 1449.1L1320.5 1452.2L1318.7 1455.3L1316.6 1458.5L1314.1 1461.4L1311 1463.8L1307.6 1465.9L1303.9 1467.4L1299.9 1468.1L1295.9 1467.8L1292 1467.2L1288.1 1466.4L1284.4 1465.1L1280.9 1463.1L1278 1460.6L1275.4 1457.7L1273.2 1454.7L1271.3 1451.5L1269.8 1448.3L1268.4 1445.1L1267 1441.9L1265.9 1438.6L1265.4 1435.2L1265.3 1431.8L1265.4 1428.3L1265.8 1424.9L1267 1421.7L1268.8 1418.8L1270.9 1416.1L1273.1 1413.7L1275.4 1411.5L1277.8 1409.5L1280.1 1407.3L1280.3 1407.1L1281.4 1405.9L1282.3 1404.8L1282.5 1404.5L1283.6 1403.1L1284.6 1402L1284.9 1401.8L1286.2 1400.5L1287.4 1399.5L1287.7 1399.3L1289.3 1398.3L1290.7 1397.6L1291 1397.4L1292.8 1396.7L1294.3 1396.2L1294.7 1396.1L1296.6 1395.8ZM1298.2 1398.8L1301.8 1399.8L1305.1 1401.7L1308 1404.1L1310.4 1406.6L1312.5 1409.2L1314.4 1411.8L1316.2 1414.2L1317.9 1416.6L1319.4 1419.1L1321 1421.7L1322.5 1424.4L1323.6 1427.3L1323.9 1430.4L1323.5 1433.5L1323 1436.6L1322.3 1439.6L1321.5 1442.6L1320.5 1445.8L1319.4 1449L1318 1452.3L1315.9 1455.4L1313.4 1458.1L1310.6 1460.7L1307.3 1463L1303.7 1464.7L1299.7 1465.5L1295.7 1465.4L1291.8 1464.7L1288 1463.4L1284.6 1461.6L1281.3 1459.6L1278.2 1457.4L1275.5 1454.8L1273.4 1451.7L1271.8 1448.4L1270.5 1445L1269.4 1441.7L1268.6 1438.4L1268.1 1435L1267.7 1431.6L1267.8 1428.2L1268.7 1424.9L1270.1 1421.9L1271.7 1419L1273.5 1416.2L1275.6 1413.8L1277.9 1411.6L1280.2 1409.4L1282.6 1407.3L1285.2 1405.1L1288 1403L1291 1400.9L1294.5 1399.3ZM1298.5 1402.6L1301.9 1403.4L1305 1405.3L1307.7 1407.5L1310.2 1409.6L1312.5 1411.9L1314.4 1414.3L1316.3 1416.7L1317.9 1419.2L1319.1 1422L1320 1424.8L1321 1427.7L1321.8 1430.7L1321.7 1433.8L1321.2 1436.9L1320.6 1440L1319.8 1443.2L1318.6 1446.3L1317.1 1449.5L1315.4 1452.7L1313 1455.6L1310 1457.9L1306.8 1460L1303.3 1462L1299.4 1463.3L1295.3 1463.4L1291.3 1462.7L1287.5 1461.3L1284.2 1459.1L1281.2 1456.5L1278.5 1453.9L1275.9 1451.2L1274 1448.1L1272.6 1444.8L1271.5 1441.4L1270.4 1438.1L1269.8 1434.8L1269.5 1431.3L1269.6 1427.9L1270.7 1424.6L1272.7 1421.7L1274.8 1419.1L1276.6 1416.5L1278.4 1413.9L1280.5 1411.5L1282.8 1409.2L1285.4 1407L1288.3 1405.2L1291.5 1403.9L1294.9 1403ZM1299.4 1404.4L1302.8 1405.6L1305.9 1407.3L1308.5 1409.5L1310.6 1412.2L1312.4 1414.7L1314.2 1417.1L1315.8 1419.6L1317.4 1422.1L1318.9 1424.8L1319.9 1427.7L1319.9 1430.8L1319.5 1433.8L1319.1 1436.8L1318.5 1439.9L1317.7 1443L1316.8 1446.3L1315.4 1449.7L1313.3 1452.7L1310.7 1455.5L1307.8 1458.1L1304.2 1460L1300.3 1460.8L1296.3 1460.7L1292.4 1460.1L1288.7 1458.8L1285.3 1457L1282 1455L1279.2 1452.5L1277.1 1449.4L1275.4 1446.2L1273.8 1443L1272.7 1439.7L1272 1436.3L1271.4 1433L1271.2 1429.5L1272 1426.2L1273.4 1423.1L1275 1420.1L1277 1417.6L1279.5 1415.5L1281.9 1413.5L1284.2 1411.3L1286.6 1409.2L1289.4 1407.2L1292.4 1405.3L1295.8 1404.2ZM1298.9 1406.5L1302.4 1407.2L1305.3 1409.1L1307.7 1411.7L1309.9 1414L1311.9 1416.3L1313.6 1418.7L1315.5 1421.1L1317.1 1423.7L1317.7 1426.6L1318 1429.7L1318.3 1432.7L1318.2 1435.8L1317.5 1438.8L1316.8 1442L1315.7 1445.2L1313.9 1448.1L1311.9 1451.2L1309.5 1454.3L1306.3 1456.4L1302.6 1457.7L1298.8 1458.8L1294.8 1458.9L1290.9 1458.1L1287.2 1456.7L1283.9 1454.6L1281.4 1451.6L1279.1 1448.6L1276.9 1445.8L1275.4 1442.6L1274.5 1439.2L1273.6 1435.9L1273.1 1432.5L1273.3 1429.1L1273.9 1425.8L1275.2 1422.7L1277.5 1420.1L1279.8 1418L1281.8 1415.5L1283.8 1413.1L1286.2 1410.9L1288.8 1408.6L1292 1407L1295.4 1406.5ZM1298.8 1407.6L1302.1 1409.1L1305 1411.2L1307.6 1413.1L1309.7 1415.6L1311.5 1418L1313.4 1420.4L1314.5 1423.2L1315.3 1426L1316.6 1428.7L1317.1 1431.8L1316.8 1434.8L1316.6 1438L1315.9 1441.3L1314.5 1444.3L1313 1447.6L1310.8 1450.6L1307.7 1452.6L1304.5 1454.7L1301 1456.6L1297 1457.1L1293 1456.8L1289.2 1455.7L1286 1453.2L1283.2 1450.7L1280.4 1448.3L1278.3 1445.2L1277 1441.9L1275.5 1438.7L1274.7 1435.3L1274.5 1431.9L1274.6 1428.4L1276 1425.2L1278.4 1422.7L1280.2 1420.1L1281.8 1417.5L1283.9 1415.2L1286.1 1412.7L1288.7 1410.4L1291.9 1409L1295.2 1407.9ZM1298.7 1409.8L1302.1 1411L1304.9 1413L1307.3 1415.2L1309.7 1417.1L1311.8 1419.5L1313.2 1422.2L1314.4 1425L1315.2 1428L1315.4 1431L1315.2 1434L1314.6 1437L1313.9 1440.1L1313.1 1443.5L1311.6 1446.8L1309.2 1449.7L1306.3 1452.2L1302.9 1454.1L1299 1455.5L1295 1455.8L1291 1454.6L1287.6 1452.5L1284.5 1450.1L1282.1 1447.2L1280.2 1444.1L1278.7 1440.9L1277.7 1437.7L1276.5 1434.4L1275.6 1431L1276.1 1427.5L1277.7 1424.4L1279.8 1421.7L1282 1419.3L1284 1416.9L1286.3 1414.6L1289 1412.7L1291.9 1410.9L1295.2 1409.7ZM1298.4 1411.9L1301.7 1412.7L1304.7 1414.3L1307 1416.8L1308.9 1419.2L1310.6 1421.7L1312.5 1424.1L1314.1 1426.8L1314.6 1429.9L1314.7 1433.1L1314.4 1436.3L1313.3 1439.4L1311.7 1442.3L1309.6 1444.9L1307.5 1447.8L1304.9 1451L1301.4 1453.1L1297.4 1454L1293.3 1453.7L1289.5 1452.2L1286.1 1450L1283.6 1446.9L1281.6 1443.8L1279.6 1440.8L1278.6 1437.4L1278.2 1433.9L1278.4 1430.5L1279.2 1427.3L1280 1424.1L1281.6 1421.2L1283.7 1418.7L1285.7 1416.1L1288.4 1413.9L1291.4 1412.2L1294.9 1411.5ZM1298.3 1412.1L1301.7 1413.5L1304.5 1415.5L1306.5 1418.3L1308.2 1420.8L1309.7 1423.2L1311.5 1425.6L1312.9 1428.3L1312.8 1431.4L1312.6 1434.4L1312.4 1437.6L1311.6 1440.9L1310.2 1444.2L1307.7 1446.8L1304.9 1449.4L1301.4 1451.1L1297.5 1451.2L1293.7 1450.9L1290 1449.7L1286.5 1448.2L1283.8 1445.5L1282 1442.2L1280.4 1439.1L1279.5 1435.7L1279 1432.3L1279.4 1428.9L1280.8 1425.8L1282.3 1423L1284.7 1420.8L1286.9 1418.8L1289 1416.3L1291.5 1413.9L1294.7 1412ZM1297.7 1414.2L1301.2 1414.7L1303.9 1417.1L1305.7 1420L1307.8 1422.1L1309.4 1424.5L1311.2 1427L1311.8 1430.1L1312.3 1433.2L1311.5 1436.4L1309.9 1439.2L1308.6 1442.3L1306.5 1445.3L1303.8 1448.2L1300.1 1449.4L1296.2 1450.2L1292.3 1449.5L1288.8 1447.6L1285.8 1445.1L1283.6 1442.1L1281.6 1439.1L1281.5 1435.3L1281.2 1432L1281.3 1428.7L1282.3 1425.5L1284.1 1422.8L1286.3 1420.5L1288.1 1417.7L1291 1416L1294.2 1414.5ZM1298.1 1415.6L1301.3 1417L1304.2 1418.9L1306.2 1421.4L1307.9 1424L1309.1 1426.7L1310.5 1429.6L1310.4 1432.7L1309.8 1435.8L1308.7 1438.9L1307.3 1442.2L1304.9 1445L1301.7 1447.5L1297.8 1448.9L1293.8 1448.2L1290.2 1446.2L1287.3 1443.8L1284.8 1441L1283.5 1437.6L1282.3 1434.3L1282.1 1430.8L1282.8 1427.5L1284.6 1424.6L1286.3 1421.8L1288.8 1419.7L1291.4 1417.7L1294.6 1416.3ZM1297.6 1417L1301 1418.4L1303.5 1420.8L1305.4 1423.3L1307.1 1425.8L1308.7 1428.4L1309.5 1431.6L1309 1434.8L1307.7 1437.8L1306.1 1441L1303.6 1443.7L1300.3 1446.1L1296.3 1446.7L1292.4 1445.7L1289 1443.5L1286.3 1440.8L1284.7 1437.4L1284.1 1433.9L1284 1430.4L1285 1427.2L1286.5 1424.3L1288.5 1421.7L1290.9 1419.4L1294.1 1417.8ZM1297.6 1418.5L1301.1 1419.9L1303.2 1422.8L1305.4 1425L1306.9 1427.7L1307.6 1430.8L1307.3 1433.9L1306.1 1436.9L1305 1440.6L1302.2 1443.5L1298.3 1444.5L1294.3 1444.4L1290.8 1442.4L1287.9 1439.9L1286.2 1436.5L1285.8 1433L1285.1 1429.5L1286.6 1426.3L1289 1423.9L1291.3 1421.6L1294.2 1419.8ZM1297.5 1420.5L1300.8 1422L1303 1424.5L1304.4 1427.2L1306.3 1429.8L1306.2 1433.1L1304.8 1436L1303.3 1439.2L1300.5 1442.1L1296.4 1443L1292.7 1441.2L1289.5 1439.1L1287.7 1435.8L1287.2 1432.3L1287.7 1428.9L1288.9 1425.8L1291.1 1423.3L1294.1 1421.7ZM1297.1 1422.5L1300.2 1424L1302.4 1426.3L1303.9 1428.8L1304.2 1431.8L1303.6 1434.9L1302.1 1438.1L1298.8 1440.1L1295 1440L1291.7 1438.1L1289.7 1435.1L1288.7 1431.8L1289.4 1428.4L1291.6 1426L1294 1424ZM1297.2 1425.1L1299.4 1426.4L1301 1428L1301.9 1430L1302 1432.3L1301.3 1434.7L1299.6 1436.7L1296.8 1437.7L1294.1 1436.6L1292.3 1434.5L1291.5 1432.1L1291.6 1429.6L1293.1 1427.7L1294.8 1426Z" fill="none" stroke="#3a3a3a" stroke-width="0.85" stroke-linejoin="round"/>
<rect x="1172.5" y="1171.75" width="346.75" height="344.75" fill="none" stroke="#8c8c8c" stroke-width="1.3"/>
<rect x="1386.25" y="1168.2" width="135.75" height="182.6" fill="none" stroke="#000" stroke-width="2"/>
<text transform="translate(1510 1198.8)" font-size="16.3" text-anchor="end">0.11</text>
<path d="M1223.8 1516.5v10M1285 1516.5v10M1373 1516.5v10M1448.8 1516.5v10M1518.8 1516.5v10" fill="none" stroke="#000" stroke-width="2.5"/>
<path d="M1346.5 1516.5v7M1425.9 1516.5v7M1497.7 1516.5v7M1311.5 1516.5v4.5M1327 1516.5v4.5M1338 1516.5v4.5M1353.5 1516.5v4.5M1359.4 1516.5v4.5M1364.5 1516.5v4.5M1369 1516.5v4.5M1395.8 1516.5v4.5M1409.1 1516.5v4.5M1418.6 1516.5v4.5M1431.9 1516.5v4.5M1437 1516.5v4.5M1441.4 1516.5v4.5M1445.3 1516.5v4.5M1469.8 1516.5v4.5M1482.1 1516.5v4.5M1490.9 1516.5v4.5M1503.2 1516.5v4.5M1507.9 1516.5v4.5M1512 1516.5v4.5M1515.5 1516.5v4.5M1226.9 1516.5v4.5M1258 1516.5v4.5M1230 1516.5v4.5M1261 1516.5v4.5M1233.1 1516.5v4.5M1264 1516.5v4.5M1236.2 1516.5v4.5M1267 1516.5v4.5M1239.4 1516.5v4.5M1270 1516.5v4.5M1242.5 1516.5v4.5M1273 1516.5v4.5M1245.6 1516.5v4.5M1276 1516.5v4.5M1248.8 1516.5v4.5M1279 1516.5v4.5M1251.9 1516.5v4.5M1282 1516.5v4.5M1200.2 1516.5v4.5M1182.8 1516.5v4.5" fill="none" stroke="#000" stroke-width="1.35"/>
<path d="M1255 1516.5v10" fill="none" stroke="#000" stroke-width="7"/>
<text transform="translate(1255 1555.3)" font-size="12.5" text-anchor="middle">0</text>
<text transform="translate(1366.06 1554.8)" font-size="13.2">10</text>
<text transform="translate(1382.34 1544)" font-size="13.2">4</text>
<text transform="translate(1441.01 1554.8)" font-size="13.2">10</text>
<text transform="translate(1457.29 1544)" font-size="13.2">5</text>
<text transform="translate(1494.01 1554.8)" font-size="13.2">10</text>
<text transform="translate(1510.29 1544)" font-size="13.2">6</text>
</svg>
</body>
</html>
